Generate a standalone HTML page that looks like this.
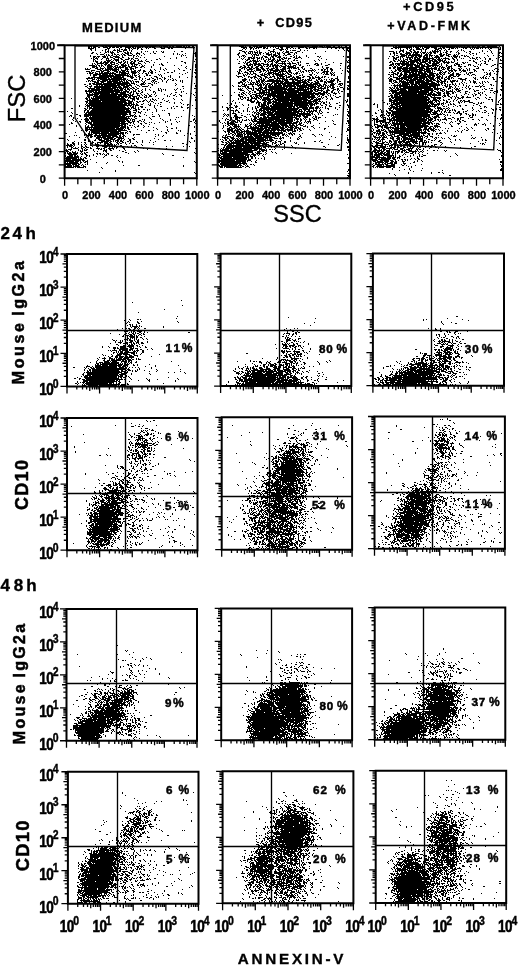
<!DOCTYPE html><html><head><meta charset="utf-8"><style>html,body{margin:0;padding:0;background:#fff;overflow:hidden}svg{display:block;filter:grayscale(1)}</style></head><body><svg width="520" height="966" viewBox="0 0 520 966"><rect width="520" height="966" fill="#fff"/><path d="M88 45h1m6 0h1m9 0h1m2 0h1m1 0h1m1 0h1m1 0h1m5 0h1m6 0h1m6 0h1m2 0h1m11 0h1m3 0h1m15 0h1m1 0h1m2 0h2m2 0h1m2 0h1m2 0h1m59 0h1m6 0h1m5 0h1m5 0h1m2 0h1m9 0h1m1 0h1m1 0h3m4 0h1m8 0h1m22 0h2m4 0h1m1 0h1m5 0h2m1 0h1m2 0h4m1 0h1m49 0h1m4 0h1m6 0h2m3 0h1m1 0h2m3 0h1m1 0h2m9 0h3m1 0h2m5 0h1m6 0h2m4 0h4m3 0h1m5 0h3m11 0h2m3 0h2m2 0h1m1 0h4m1 0h2m-412 1h4m1 0h5m4 0h2m1 0h2m1 0h4m1 0h2m1 0h1m1 0h8m1 0h4m2 0h1m2 0h2m2 0h2m1 0h3m2 0h8m3 0h1m1 0h1m1 0h5m1 0h2m1 0h2m2 0h6m1 0h2m1 0h1m1 0h2m2 0h2m45 0h5m1 0h1m3 0h2m2 0h5m1 0h6m2 0h2m2 0h4m1 0h1m1 0h1m1 0h2m1 0h2m1 0h1m2 0h3m3 0h1m3 0h7m1 0h2m3 0h6m1 0h4m1 0h1m1 0h5m2 0h2m3 0h2m1 0h1m3 0h2m46 0h1m1 0h2m1 0h14m1 0h4m1 0h7m1 0h3m1 0h1m1 0h2m2 0h1m2 0h1m2 0h6m1 0h4m2 0h4m1 0h1m3 0h1m2 0h3m2 0h2m1 0h1m1 0h3m2 0h3m2 0h10m2 0h1m-412 1h2m1 0h1m1 0h3m2 0h2m3 0h5m1 0h2m1 0h3m1 0h3m1 0h2m3 0h6m1 0h2m1 0h1m1 0h4m1 0h1m2 0h3m1 0h2m1 0h3m5 0h2m2 0h1m2 0h3m1 0h1m1 0h1m5 0h1m1 0h1m3 0h5m1 0h4m46 0h6m2 0h4m1 0h1m1 0h6m1 0h3m1 0h1m2 0h1m2 0h1m1 0h1m2 0h1m1 0h3m3 0h4m1 0h2m5 0h6m1 0h2m2 0h8m5 0h2m3 0h5m2 0h2m2 0h5m1 0h6m43 0h19m1 0h1m1 0h4m1 0h1m1 0h1m1 0h6m1 0h6m3 0h1m1 0h3m1 0h9m1 0h2m1 0h1m1 0h7m1 0h2m1 0h7m1 0h3m1 0h12m1 0h2m1 0h1m-413 1h6m1 0h1m11 0h3m9 0h1m5 0h1m2 0h2m1 0h1m1 0h3m1 0h2m2 0h1m4 0h1m1 0h1m5 0h2m5 0h4m3 0h2m1 0h2m12 0h1m7 0h1m49 0h2m1 0h1m3 0h2m1 0h1m1 0h2m1 0h1m4 0h2m1 0h2m8 0h3m2 0h2m3 0h2m2 0h1m2 0h1m1 0h1m2 0h2m6 0h2m1 0h1m3 0h2m1 0h1m10 0h1m3 0h1m3 0h2m2 0h1m2 0h2m3 0h2m42 0h2m2 0h2m1 0h1m1 0h1m5 0h2m1 0h1m1 0h1m4 0h4m2 0h2m2 0h3m5 0h3m1 0h4m1 0h2m4 0h1m1 0h3m1 0h1m1 0h1m5 0h1m1 0h2m3 0h1m1 0h1m1 0h1m1 0h3m1 0h1m1 0h1m2 0h1m2 0h1m1 0h2m8 0h1m-411 1h2m3 0h1m9 0h2m1 0h1m5 0h1m2 0h1m1 0h1m1 0h2m1 0h3m2 0h1m2 0h1m4 0h1m3 0h2m99 0h1m2 0h1m4 0h1m2 0h1m19 0h2m4 0h5m1 0h1m1 0h1m12 0h1m42 0h1m3 0h1m52 0h1m2 0h1m3 0h1m2 0h2m1 0h1m2 0h6m1 0h1m1 0h2m8 0h4m2 0h1m3 0h1m2 0h2m11 0h1m9 0h1m1 0h1m15 0h1m9 0h2m-410 1h1m3 0h1m6 0h1m2 0h1m2 0h1m4 0h3m1 0h3m3 0h4m2 0h1m1 0h1m107 0h3m14 0h1m2 0h1m8 0h2m3 0h1m6 0h2m4 0h1m3 0h1m1 0h4m4 0h1m3 0h1m2 0h1m30 0h1m5 0h1m2 0h2m51 0h4m5 0h2m2 0h2m6 0h1m3 0h1m6 0h1m1 0h2m1 0h1m1 0h2m3 0h1m1 0h1m11 0h1m2 0h1m1 0h1m18 0h1m7 0h1m-386 1h1m1 0h2m1 0h1m1 0h1m4 0h1m1 0h3m1 0h1m3 0h1m3 0h1m9 0h1m3 0h1m1 0h1m5 0h1m2 0h1m4 0h1m1 0h1m10 0h1m6 0h2m59 0h3m1 0h1m2 0h4m1 0h1m2 0h1m1 0h1m10 0h5m8 0h1m2 0h3m8 0h3m25 0h1m22 0h1m40 0h5m2 0h1m2 0h2m1 0h2m2 0h1m3 0h2m2 0h2m1 0h2m2 0h1m3 0h1m4 0h1m1 0h7m1 0h1m5 0h2m2 0h2m5 0h1m6 0h1m4 0h2m11 0h1m4 0h1m3 0h1m6 0h1m-407 1h2m6 0h1m4 0h2m1 0h1m1 0h4m3 0h2m5 0h2m1 0h2m1 0h1m6 0h1m3 0h1m11 0h1m8 0h2m31 0h1m43 0h1m4 0h2m2 0h1m1 0h1m1 0h1m1 0h4m1 0h3m3 0h1m2 0h1m1 0h1m2 0h1m1 0h1m1 0h1m1 0h1m2 0h1m2 0h4m1 0h3m2 0h2m5 0h1m46 0h1m43 0h2m1 0h1m2 0h1m3 0h1m2 0h4m1 0h1m1 0h6m1 0h1m1 0h4m1 0h1m1 0h3m1 0h3m1 0h1m2 0h1m2 0h1m1 0h2m3 0h1m5 0h1m1 0h1m7 0h1m3 0h1m8 0h1m11 0h1m7 0h2m-410 1h2m3 0h1m7 0h1m6 0h2m1 0h1m7 0h1m2 0h4m1 0h2m4 0h4m3 0h1m6 0h1m3 0h2m17 0h1m3 0h1m7 0h1m8 0h2m42 0h2m5 0h1m2 0h3m1 0h1m2 0h1m1 0h1m1 0h2m2 0h1m2 0h3m2 0h1m3 0h1m1 0h3m3 0h2m3 0h2m4 0h1m1 0h1m18 0h1m74 0h1m2 0h2m1 0h2m2 0h2m3 0h6m2 0h1m1 0h3m3 0h1m1 0h2m1 0h1m1 0h1m1 0h2m2 0h2m4 0h2m4 0h2m10 0h2m9 0h1m2 0h2m2 0h1m7 0h1m7 0h1m6 0h1m1 0h2m-406 1h1m2 0h4m2 0h1m1 0h1m3 0h1m1 0h2m1 0h2m2 0h1m1 0h2m2 0h2m3 0h1m3 0h1m2 0h1m4 0h1m28 0h1m3 0h1m1 0h1m2 0h1m12 0h1m41 0h2m7 0h1m4 0h1m1 0h4m1 0h1m1 0h1m5 0h6m1 0h3m2 0h2m4 0h1m2 0h4m3 0h1m95 0h1m3 0h1m5 0h5m1 0h2m1 0h2m1 0h8m1 0h1m3 0h3m1 0h2m8 0h3m1 0h2m1 0h1m1 0h3m3 0h1m1 0h1m1 0h1m11 0h1m5 0h1m-387 1h1m13 0h1m1 0h1m1 0h2m1 0h2m3 0h1m2 0h1m2 0h1m1 0h2m2 0h4m1 0h2m2 0h1m3 0h1m39 0h1m1 0h1m1 0h1m9 0h1m42 0h1m3 0h3m7 0h1m1 0h1m1 0h3m4 0h1m4 0h2m1 0h1m1 0h5m1 0h1m3 0h1m1 0h2m6 0h1m2 0h1m9 0h1m87 0h1m1 0h2m3 0h6m1 0h14m2 0h4m1 0h4m1 0h1m1 0h2m2 0h4m2 0h3m4 0h3m1 0h1m3 0h2m1 0h1m1 0h1m6 0h1m13 0h1m5 0h1m5 0h1m-410 1h1m2 0h3m1 0h3m2 0h4m1 0h1m2 0h1m2 0h6m3 0h1m10 0h1m2 0h1m1 0h1m25 0h1m16 0h1m13 0h2m42 0h1m1 0h1m1 0h1m1 0h1m6 0h1m1 0h1m7 0h1m1 0h3m4 0h3m1 0h2m1 0h3m9 0h2m2 0h1m1 0h1m2 0h1m6 0h1m10 0h2m1 0h1m22 0h1m3 0h2m40 0h1m2 0h2m4 0h1m1 0h5m1 0h1m1 0h1m2 0h3m1 0h2m1 0h4m1 0h2m1 0h2m1 0h1m1 0h1m3 0h4m1 0h3m5 0h2m1 0h1m1 0h5m1 0h1m4 0h2m1 0h2m19 0h1m11 0h2m-409 1h2m1 0h1m1 0h1m4 0h3m1 0h1m2 0h3m2 0h5m2 0h2m4 0h1m4 0h1m6 0h1m3 0h1m31 0h1m9 0h1m52 0h1m4 0h1m3 0h4m1 0h2m1 0h2m1 0h1m1 0h2m2 0h3m2 0h1m1 0h2m3 0h4m2 0h2m1 0h1m6 0h2m1 0h1m1 0h3m7 0h1m10 0h1m27 0h2m44 0h2m1 0h3m1 0h1m1 0h1m3 0h7m1 0h4m1 0h2m2 0h5m1 0h1m2 0h1m1 0h6m5 0h1m6 0h1m1 0h3m2 0h1m9 0h1m2 0h1m3 0h2m1 0h1m4 0h1m14 0h1m-409 1h1m1 0h1m1 0h3m4 0h1m3 0h3m4 0h2m3 0h1m1 0h2m6 0h2m1 0h2m2 0h3m21 0h1m10 0h1m5 0h1m64 0h1m1 0h1m4 0h2m1 0h4m2 0h3m1 0h1m1 0h1m4 0h1m1 0h1m2 0h2m4 0h1m1 0h2m1 0h3m1 0h3m4 0h3m3 0h1m19 0h1m66 0h1m4 0h4m3 0h1m2 0h1m3 0h1m1 0h2m1 0h1m1 0h2m1 0h3m3 0h11m2 0h1m1 0h2m1 0h1m1 0h6m3 0h2m2 0h1m4 0h1m1 0h1m6 0h1m1 0h3m1 0h1m3 0h1m4 0h1m3 0h2m5 0h1m-404 1h2m2 0h1m3 0h1m4 0h1m1 0h1m2 0h1m2 0h5m2 0h2m2 0h4m2 0h1m1 0h1m4 0h1m7 0h1m9 0h2m2 0h1m34 0h1m41 0h1m4 0h1m2 0h1m1 0h3m3 0h1m3 0h1m3 0h1m1 0h1m2 0h1m1 0h3m1 0h3m2 0h1m1 0h2m1 0h2m4 0h1m5 0h1m23 0h1m7 0h1m66 0h1m1 0h2m1 0h1m1 0h1m2 0h1m1 0h3m1 0h3m2 0h7m1 0h8m2 0h4m1 0h4m1 0h1m2 0h1m2 0h2m3 0h2m2 0h1m17 0h1m1 0h1m7 0h1m3 0h2m9 0h1m-408 1h1m1 0h1m10 0h5m2 0h1m1 0h4m4 0h2m5 0h1m3 0h2m1 0h2m2 0h1m3 0h1m5 0h1m94 0h2m2 0h1m1 0h4m1 0h1m1 0h1m4 0h2m2 0h1m2 0h3m1 0h1m1 0h4m4 0h1m1 0h1m5 0h2m1 0h2m16 0h1m4 0h1m26 0h1m1 0h2m43 0h2m3 0h2m1 0h1m1 0h2m2 0h1m2 0h11m1 0h2m1 0h3m1 0h4m1 0h3m1 0h5m1 0h2m8 0h1m2 0h1m11 0h2m2 0h1m8 0h1m5 0h1m3 0h1m7 0h2m-409 1h1m1 0h3m3 0h1m2 0h2m1 0h3m1 0h2m3 0h1m1 0h1m2 0h1m1 0h1m1 0h1m1 0h1m3 0h2m1 0h2m3 0h4m3 0h3m32 0h2m11 0h1m44 0h1m5 0h1m3 0h3m1 0h6m1 0h1m3 0h2m1 0h1m1 0h4m1 0h1m1 0h3m2 0h5m2 0h1m2 0h1m8 0h1m14 0h1m31 0h1m42 0h2m2 0h2m1 0h1m2 0h7m1 0h10m1 0h2m1 0h6m1 0h2m1 0h6m1 0h2m1 0h3m1 0h1m1 0h1m2 0h1m2 0h1m18 0h2m5 0h1m3 0h2m2 0h1m-393 1h2m2 0h2m1 0h6m1 0h5m3 0h4m2 0h2m1 0h1m2 0h2m1 0h2m3 0h1m5 0h1m4 0h1m4 0h1m12 0h1m16 0h2m57 0h1m1 0h1m1 0h3m3 0h1m1 0h2m8 0h1m2 0h1m3 0h1m2 0h3m4 0h1m1 0h1m4 0h1m2 0h1m4 0h2m1 0h1m24 0h1m7 0h1m13 0h2m40 0h2m1 0h1m7 0h1m1 0h3m1 0h3m1 0h5m1 0h3m1 0h6m2 0h3m2 0h2m1 0h4m3 0h7m1 0h3m3 0h1m4 0h2m1 0h1m1 0h1m7 0h2m8 0h1m-394 1h1m1 0h1m2 0h7m1 0h3m2 0h2m2 0h1m1 0h2m2 0h1m2 0h2m2 0h1m2 0h5m3 0h3m4 0h1m15 0h1m23 0h1m52 0h2m4 0h1m1 0h2m2 0h1m2 0h4m1 0h2m1 0h3m3 0h1m3 0h2m3 0h1m1 0h8m1 0h4m1 0h4m2 0h1m7 0h3m6 0h3m3 0h1m18 0h2m50 0h2m1 0h14m1 0h4m3 0h5m3 0h3m1 0h2m1 0h7m2 0h1m2 0h1m2 0h2m6 0h3m5 0h2m11 0h1m4 0h1m2 0h2m13 0h4m-411 1h1m2 0h1m1 0h1m3 0h1m2 0h3m1 0h2m1 0h4m3 0h1m2 0h3m1 0h1m2 0h1m2 0h2m1 0h4m3 0h1m11 0h1m5 0h1m1 0h2m32 0h1m50 0h2m1 0h4m1 0h7m2 0h6m1 0h3m1 0h2m1 0h1m4 0h1m1 0h2m3 0h2m5 0h1m1 0h1m1 0h1m13 0h2m1 0h2m2 0h1m6 0h2m60 0h4m1 0h1m1 0h3m1 0h15m1 0h1m1 0h4m1 0h1m1 0h3m3 0h5m2 0h1m1 0h1m4 0h1m7 0h1m1 0h4m1 0h1m6 0h3m7 0h1m1 0h1m5 0h2m6 0h2m1 0h1m-409 1h6m1 0h1m1 0h2m1 0h2m2 0h1m1 0h5m3 0h3m3 0h6m1 0h1m3 0h1m1 0h1m1 0h1m2 0h1m2 0h1m1 0h1m8 0h1m8 0h2m10 0h1m6 0h1m13 0h1m47 0h2m2 0h4m1 0h1m1 0h2m2 0h4m1 0h1m3 0h2m1 0h1m1 0h7m1 0h2m3 0h2m1 0h1m1 0h1m2 0h3m3 0h2m6 0h1m1 0h1m6 0h3m6 0h3m12 0h1m7 0h1m40 0h3m1 0h1m2 0h1m1 0h2m2 0h3m1 0h7m1 0h6m1 0h4m2 0h12m2 0h1m4 0h2m3 0h1m2 0h2m2 0h2m8 0h1m1 0h1m2 0h1m6 0h1m11 0h2m3 0h1m-406 1h5m2 0h1m1 0h1m1 0h1m3 0h6m1 0h2m1 0h1m1 0h2m1 0h4m2 0h2m1 0h5m5 0h3m7 0h1m34 0h1m8 0h2m43 0h2m2 0h2m2 0h1m2 0h2m3 0h3m2 0h2m1 0h1m1 0h2m1 0h2m1 0h2m1 0h3m1 0h1m1 0h5m1 0h7m1 0h1m6 0h2m18 0h1m24 0h2m43 0h1m1 0h2m1 0h1m2 0h3m3 0h3m1 0h3m2 0h5m1 0h10m1 0h2m1 0h1m1 0h1m1 0h2m1 0h1m3 0h1m1 0h4m6 0h4m2 0h2m8 0h2m1 0h1m13 0h1m8 0h1m-409 1h3m1 0h2m2 0h1m3 0h1m2 0h5m1 0h1m1 0h9m1 0h3m1 0h3m3 0h3m2 0h2m2 0h1m6 0h1m8 0h1m24 0h1m9 0h1m43 0h2m1 0h4m1 0h3m1 0h2m2 0h3m2 0h3m5 0h1m4 0h1m1 0h3m2 0h1m2 0h3m2 0h8m1 0h2m2 0h2m19 0h1m3 0h3m18 0h1m1 0h1m39 0h2m2 0h3m1 0h5m1 0h5m1 0h15m2 0h3m2 0h1m2 0h3m2 0h1m1 0h4m2 0h3m1 0h1m8 0h1m17 0h1m22 0h1m-417 1h1m1 0h1m2 0h1m4 0h3m2 0h4m1 0h1m1 0h6m1 0h3m1 0h1m1 0h1m4 0h3m2 0h4m1 0h1m24 0h1m4 0h1m12 0h1m7 0h1m54 0h2m1 0h1m1 0h1m2 0h3m1 0h2m1 0h3m2 0h3m2 0h3m2 0h4m1 0h2m4 0h4m1 0h3m1 0h1m1 0h4m1 0h1m3 0h1m1 0h1m5 0h2m11 0h1m2 0h2m2 0h2m8 0h1m6 0h2m40 0h2m2 0h2m2 0h20m2 0h6m1 0h11m1 0h2m1 0h1m1 0h1m1 0h1m1 0h3m1 0h2m5 0h2m1 0h1m4 0h1m2 0h1m6 0h3m16 0h2m-412 1h5m7 0h4m1 0h1m2 0h14m2 0h1m3 0h4m1 0h2m1 0h1m6 0h1m9 0h1m3 0h1m5 0h1m2 0h1m2 0h1m12 0h1m10 0h1m4 0h1m43 0h2m3 0h1m2 0h6m3 0h5m1 0h3m2 0h1m1 0h4m2 0h4m1 0h6m3 0h1m8 0h2m3 0h2m7 0h1m1 0h1m3 0h1m2 0h2m1 0h2m1 0h1m2 0h3m62 0h1m1 0h4m1 0h6m1 0h14m1 0h6m1 0h2m1 0h3m1 0h2m2 0h3m2 0h2m2 0h1m1 0h2m4 0h2m2 0h1m3 0h1m1 0h1m3 0h2m7 0h2m10 0h1m3 0h1m-408 1h4m5 0h2m1 0h6m1 0h1m1 0h5m1 0h1m2 0h5m1 0h1m3 0h1m2 0h2m2 0h3m2 0h2m5 0h2m3 0h1m8 0h1m9 0h1m8 0h2m10 0h2m42 0h2m6 0h2m2 0h1m2 0h1m1 0h5m2 0h3m1 0h2m1 0h10m1 0h3m1 0h1m2 0h3m4 0h1m4 0h1m4 0h2m1 0h6m1 0h1m5 0h2m1 0h1m2 0h1m3 0h2m9 0h1m4 0h1m43 0h1m3 0h2m1 0h4m1 0h15m1 0h6m1 0h5m1 0h1m4 0h5m6 0h5m1 0h3m2 0h2m1 0h4m1 0h1m1 0h1m4 0h2m7 0h1m5 0h1m2 0h1m4 0h1m-412 1h4m1 0h1m4 0h4m1 0h3m3 0h3m4 0h4m1 0h2m1 0h3m1 0h3m2 0h5m1 0h1m1 0h1m3 0h3m3 0h1m1 0h2m6 0h1m14 0h1m62 0h1m1 0h1m1 0h1m3 0h1m3 0h5m1 0h1m4 0h2m1 0h1m2 0h1m1 0h1m1 0h1m2 0h5m1 0h8m1 0h3m7 0h1m1 0h1m1 0h2m2 0h1m1 0h1m2 0h1m2 0h1m8 0h6m2 0h1m15 0h3m42 0h1m1 0h2m3 0h2m1 0h8m1 0h11m2 0h7m1 0h1m1 0h1m5 0h1m1 0h1m2 0h2m2 0h1m1 0h2m2 0h1m5 0h1m1 0h3m8 0h1m1 0h1m16 0h1m2 0h1m1 0h1m-410 1h2m1 0h2m1 0h1m3 0h1m1 0h2m1 0h5m1 0h1m1 0h2m2 0h2m1 0h7m2 0h1m2 0h6m1 0h1m4 0h1m4 0h1m1 0h3m2 0h1m11 0h2m2 0h2m14 0h1m6 0h2m42 0h2m4 0h4m2 0h1m2 0h1m5 0h2m4 0h1m2 0h6m1 0h1m2 0h3m1 0h1m3 0h2m1 0h3m4 0h2m3 0h1m1 0h1m5 0h1m2 0h1m3 0h1m1 0h1m3 0h3m1 0h2m2 0h1m1 0h1m1 0h1m13 0h2m39 0h1m1 0h3m3 0h2m2 0h1m2 0h10m1 0h2m1 0h5m1 0h2m1 0h6m6 0h3m1 0h3m2 0h1m1 0h1m2 0h1m6 0h1m5 0h1m2 0h4m11 0h1m1 0h1m3 0h1m-404 1h1m1 0h4m2 0h3m1 0h17m3 0h1m1 0h8m3 0h4m3 0h1m2 0h1m2 0h2m1 0h1m2 0h2m11 0h1m14 0h1m5 0h1m9 0h1m42 0h3m1 0h1m4 0h2m1 0h1m2 0h3m6 0h1m1 0h1m2 0h5m1 0h6m1 0h1m1 0h2m1 0h1m1 0h2m2 0h1m1 0h1m1 0h3m1 0h1m12 0h1m4 0h1m3 0h1m2 0h1m1 0h2m2 0h2m1 0h1m7 0h1m51 0h3m1 0h2m1 0h2m2 0h3m2 0h2m1 0h5m1 0h9m2 0h7m1 0h1m1 0h2m1 0h1m1 0h1m3 0h2m2 0h2m2 0h3m7 0h1m1 0h1m1 0h1m16 0h1m1 0h2m3 0h1m-405 1h1m2 0h8m1 0h6m1 0h2m1 0h1m1 0h12m1 0h1m1 0h1m2 0h1m1 0h1m3 0h1m7 0h2m10 0h1m1 0h1m21 0h1m13 0h1m41 0h1m4 0h1m1 0h1m1 0h1m1 0h1m1 0h2m2 0h2m3 0h3m1 0h3m1 0h2m2 0h2m1 0h10m3 0h3m3 0h1m1 0h1m5 0h1m6 0h3m2 0h1m8 0h1m1 0h4m2 0h2m1 0h1m53 0h2m1 0h3m1 0h3m2 0h3m1 0h4m1 0h11m1 0h7m1 0h5m2 0h3m1 0h2m1 0h2m5 0h4m2 0h5m3 0h1m2 0h2m3 0h3m11 0h2m1 0h2m5 0h1m-407 1h1m2 0h4m2 0h15m1 0h14m1 0h1m1 0h1m1 0h3m2 0h1m6 0h2m1 0h2m8 0h1m1 0h1m8 0h1m65 0h1m6 0h2m1 0h1m8 0h1m1 0h2m2 0h4m2 0h1m1 0h1m3 0h1m2 0h7m2 0h2m3 0h2m7 0h2m1 0h1m7 0h2m4 0h1m14 0h1m1 0h2m55 0h1m2 0h1m3 0h1m1 0h3m1 0h4m1 0h18m1 0h8m1 0h2m1 0h1m2 0h1m6 0h5m2 0h1m1 0h2m9 0h1m1 0h1m3 0h1m8 0h1m5 0h1m-398 1h2m4 0h22m1 0h2m3 0h6m2 0h1m2 0h2m4 0h1m9 0h3m4 0h1m6 0h1m1 0h1m8 0h1m12 0h1m2 0h1m41 0h5m2 0h1m3 0h2m3 0h3m2 0h3m3 0h3m3 0h1m1 0h3m2 0h1m1 0h6m1 0h1m1 0h4m1 0h1m2 0h3m4 0h2m2 0h3m2 0h1m2 0h1m2 0h1m3 0h1m1 0h2m11 0h1m10 0h1m41 0h2m1 0h1m4 0h3m2 0h15m1 0h12m1 0h3m2 0h4m1 0h1m3 0h1m1 0h3m2 0h3m1 0h2m24 0h1m2 0h1m2 0h1m12 0h1m-415 1h2m1 0h18m1 0h2m1 0h11m6 0h4m2 0h1m2 0h2m10 0h1m4 0h2m4 0h1m1 0h1m5 0h1m8 0h1m7 0h1m7 0h1m42 0h1m3 0h1m5 0h1m1 0h3m1 0h3m3 0h2m3 0h3m1 0h3m2 0h1m2 0h2m1 0h1m1 0h2m2 0h4m2 0h3m1 0h5m1 0h2m5 0h2m1 0h2m1 0h5m1 0h2m1 0h1m3 0h1m8 0h1m10 0h1m40 0h1m3 0h5m1 0h1m1 0h12m1 0h13m1 0h6m2 0h4m1 0h2m2 0h2m1 0h2m1 0h2m20 0h1m1 0h1m4 0h1m1 0h2m1 0h1m6 0h2m5 0h2m-415 1h7m1 0h1m2 0h10m1 0h2m1 0h11m1 0h3m5 0h2m6 0h1m2 0h1m2 0h1m3 0h1m2 0h2m3 0h1m1 0h2m3 0h2m6 0h1m71 0h2m5 0h1m2 0h1m2 0h1m1 0h1m1 0h1m1 0h1m1 0h1m2 0h1m5 0h2m1 0h8m1 0h1m3 0h3m1 0h2m1 0h4m8 0h2m1 0h3m3 0h3m10 0h2m2 0h3m10 0h1m39 0h1m1 0h2m4 0h11m1 0h4m1 0h5m1 0h6m1 0h2m1 0h5m1 0h1m1 0h3m1 0h2m1 0h1m2 0h3m1 0h1m1 0h1m4 0h4m3 0h2m7 0h2m5 0h1m1 0h1m1 0h2m1 0h1m4 0h1m7 0h2m-416 1h1m4 0h3m1 0h1m1 0h1m1 0h26m1 0h1m6 0h3m2 0h1m2 0h1m4 0h3m4 0h2m1 0h1m3 0h1m2 0h1m3 0h1m1 0h1m2 0h1m1 0h1m66 0h5m2 0h1m5 0h1m2 0h1m1 0h2m1 0h2m4 0h5m2 0h2m1 0h1m2 0h6m1 0h9m2 0h1m1 0h2m1 0h1m1 0h3m1 0h1m4 0h1m1 0h2m1 0h1m2 0h1m1 0h1m2 0h1m1 0h1m1 0h2m2 0h2m50 0h4m3 0h4m1 0h2m1 0h5m1 0h12m1 0h2m1 0h3m1 0h5m2 0h1m1 0h2m3 0h3m1 0h2m10 0h6m9 0h1m1 0h1m15 0h2m-407 1h2m1 0h2m4 0h3m2 0h6m1 0h2m1 0h8m1 0h1m1 0h2m1 0h1m1 0h3m1 0h1m8 0h1m3 0h1m6 0h3m7 0h1m4 0h1m4 0h2m2 0h1m3 0h1m1 0h1m59 0h4m3 0h1m1 0h1m4 0h1m1 0h2m1 0h4m2 0h14m1 0h1m1 0h4m4 0h2m1 0h8m1 0h3m1 0h4m4 0h2m2 0h3m3 0h1m3 0h5m2 0h2m50 0h3m1 0h3m3 0h3m1 0h1m2 0h10m1 0h7m1 0h7m1 0h3m1 0h2m1 0h2m2 0h2m4 0h1m1 0h4m1 0h1m4 0h1m2 0h1m3 0h1m3 0h1m-388 1h1m1 0h1m1 0h1m1 0h4m1 0h2m1 0h6m1 0h11m1 0h4m1 0h1m1 0h2m2 0h2m1 0h1m1 0h4m3 0h1m1 0h1m6 0h1m1 0h1m1 0h2m5 0h1m3 0h1m13 0h1m1 0h1m57 0h2m1 0h2m2 0h1m3 0h1m4 0h4m1 0h3m1 0h19m1 0h4m3 0h3m2 0h4m1 0h4m1 0h2m5 0h2m1 0h2m1 0h3m1 0h2m1 0h7m3 0h1m1 0h2m6 0h2m40 0h3m1 0h1m1 0h2m2 0h7m1 0h1m1 0h5m1 0h10m1 0h7m3 0h4m1 0h5m1 0h1m2 0h5m1 0h2m4 0h1m7 0h1m2 0h3m6 0h1m1 0h1m2 0h1m7 0h2m-403 1h5m2 0h3m3 0h5m1 0h8m1 0h7m2 0h1m1 0h1m2 0h1m1 0h1m4 0h2m7 0h1m1 0h1m3 0h1m7 0h1m15 0h1m55 0h5m2 0h1m2 0h1m1 0h1m1 0h3m1 0h2m1 0h1m1 0h2m1 0h1m7 0h3m1 0h3m1 0h3m1 0h23m1 0h2m1 0h2m2 0h4m5 0h3m1 0h5m4 0h1m9 0h2m42 0h1m2 0h4m1 0h1m1 0h13m1 0h14m2 0h4m2 0h2m1 0h3m1 0h1m2 0h1m3 0h2m8 0h1m2 0h1m5 0h1m2 0h3m3 0h1m2 0h1m2 0h1m2 0h1m12 0h1m-413 1h2m1 0h3m1 0h6m1 0h27m1 0h4m6 0h3m1 0h1m2 0h3m3 0h1m1 0h1m18 0h1m18 0h1m1 0h1m41 0h2m2 0h1m1 0h1m5 0h2m1 0h1m1 0h1m1 0h2m1 0h1m1 0h2m1 0h1m1 0h3m1 0h2m1 0h27m2 0h5m2 0h2m1 0h7m4 0h1m1 0h1m4 0h3m1 0h1m3 0h4m46 0h1m2 0h2m4 0h1m1 0h1m1 0h7m1 0h4m1 0h5m1 0h16m1 0h1m2 0h2m1 0h2m6 0h1m2 0h1m3 0h1m2 0h1m3 0h1m7 0h1m1 0h1m3 0h1m1 0h1m18 0h1m-418 1h2m3 0h2m2 0h23m1 0h11m1 0h2m3 0h1m1 0h1m3 0h5m6 0h2m23 0h1m65 0h3m1 0h1m1 0h6m1 0h3m1 0h3m1 0h2m1 0h2m1 0h3m2 0h3m1 0h3m1 0h4m1 0h5m1 0h6m1 0h1m1 0h3m1 0h12m1 0h2m2 0h3m4 0h5m3 0h3m1 0h1m51 0h1m2 0h1m1 0h2m1 0h8m1 0h6m1 0h22m1 0h1m3 0h1m1 0h1m1 0h2m1 0h2m1 0h1m3 0h1m3 0h1m19 0h1m6 0h2m-405 1h1m3 0h1m4 0h2m1 0h1m1 0h2m1 0h16m1 0h4m1 0h6m5 0h2m2 0h1m6 0h1m3 0h1m22 0h1m19 0h2m35 0h1m5 0h1m2 0h1m2 0h3m5 0h1m4 0h5m1 0h1m1 0h2m1 0h3m1 0h1m1 0h8m1 0h12m1 0h18m1 0h1m1 0h5m1 0h1m1 0h2m1 0h1m1 0h4m6 0h2m5 0h2m42 0h1m1 0h15m1 0h1m1 0h2m1 0h4m1 0h9m1 0h11m2 0h1m1 0h2m1 0h1m1 0h1m4 0h1m1 0h1m6 0h1m2 0h1m2 0h1m9 0h1m2 0h1m8 0h1m1 0h1m7 0h1m-417 1h2m2 0h3m2 0h23m1 0h3m2 0h6m2 0h1m3 0h1m3 0h1m2 0h6m34 0h2m11 0h1m37 0h1m4 0h3m1 0h4m1 0h2m3 0h2m4 0h1m1 0h2m3 0h2m1 0h14m1 0h13m1 0h10m1 0h9m1 0h2m1 0h3m1 0h1m1 0h1m1 0h2m1 0h2m3 0h1m1 0h1m8 0h1m45 0h2m1 0h1m1 0h37m1 0h1m7 0h3m1 0h3m3 0h1m2 0h1m7 0h1m1 0h1m3 0h1m2 0h4m1 0h2m1 0h2m16 0h2m-416 1h1m2 0h1m3 0h17m1 0h10m1 0h5m1 0h1m2 0h2m2 0h1m13 0h1m94 0h1m1 0h2m4 0h1m5 0h4m1 0h3m1 0h17m1 0h2m1 0h3m2 0h2m1 0h1m1 0h10m1 0h6m1 0h2m1 0h2m2 0h2m1 0h2m1 0h1m1 0h3m5 0h3m1 0h1m2 0h1m41 0h2m1 0h1m1 0h1m1 0h2m1 0h2m2 0h28m2 0h3m1 0h1m5 0h1m2 0h1m2 0h2m1 0h1m2 0h1m6 0h1m2 0h1m2 0h1m11 0h1m-393 1h7m1 0h4m1 0h15m1 0h1m1 0h5m1 0h1m1 0h2m1 0h2m1 0h2m2 0h2m6 0h1m12 0h1m1 0h1m16 0h1m5 0h1m10 0h2m42 0h1m1 0h1m1 0h1m3 0h1m1 0h4m1 0h1m1 0h2m1 0h4m1 0h4m2 0h18m1 0h16m1 0h1m1 0h6m1 0h2m2 0h8m1 0h1m3 0h3m3 0h2m4 0h2m2 0h2m41 0h2m1 0h2m1 0h3m1 0h33m1 0h8m6 0h3m3 0h1m1 0h2m1 0h1m6 0h1m2 0h2m13 0h1m4 0h1m1 0h2m-404 1h1m1 0h22m1 0h5m1 0h3m1 0h2m1 0h3m2 0h1m2 0h2m5 0h1m2 0h1m3 0h1m8 0h1m2 0h1m1 0h1m1 0h1m8 0h1m1 0h1m3 0h1m57 0h4m5 0h1m3 0h1m1 0h1m2 0h3m1 0h3m2 0h30m2 0h12m1 0h2m1 0h6m2 0h1m1 0h1m3 0h2m4 0h3m1 0h2m4 0h2m2 0h2m40 0h1m1 0h2m2 0h1m1 0h9m2 0h14m2 0h9m1 0h5m1 0h1m1 0h3m3 0h1m3 0h1m2 0h4m3 0h1m6 0h1m3 0h1m8 0h1m2 0h2m13 0h2m-417 1h2m1 0h12m1 0h22m2 0h2m2 0h1m3 0h1m1 0h1m2 0h1m2 0h1m3 0h1m4 0h1m7 0h2m1 0h1m3 0h1m9 0h1m64 0h4m4 0h1m3 0h2m3 0h4m1 0h5m1 0h5m1 0h9m1 0h2m1 0h20m1 0h1m1 0h3m1 0h2m1 0h6m3 0h4m2 0h2m3 0h1m1 0h1m50 0h9m1 0h7m1 0h11m1 0h14m3 0h1m2 0h3m1 0h1m1 0h1m3 0h1m1 0h1m3 0h1m1 0h3m13 0h1m1 0h3m11 0h3m4 0h1m3 0h1m-417 1h9m1 0h2m1 0h22m1 0h1m1 0h6m2 0h1m1 0h3m2 0h2m2 0h1m10 0h2m6 0h1m19 0h1m1 0h1m60 0h1m4 0h2m3 0h2m3 0h2m1 0h3m1 0h1m1 0h2m1 0h16m1 0h11m1 0h1m2 0h10m2 0h3m3 0h1m1 0h2m1 0h2m3 0h2m5 0h1m2 0h2m46 0h1m1 0h6m2 0h30m2 0h2m1 0h2m2 0h1m3 0h2m2 0h7m1 0h1m2 0h3m5 0h3m6 0h2m8 0h1m9 0h2m1 0h1m-412 1h1m2 0h3m1 0h21m1 0h11m1 0h2m1 0h2m1 0h1m2 0h1m4 0h2m10 0h1m1 0h1m19 0h2m4 0h1m13 0h2m37 0h1m4 0h1m2 0h2m2 0h1m2 0h1m2 0h1m1 0h2m3 0h11m1 0h41m1 0h2m3 0h3m2 0h5m3 0h2m1 0h1m3 0h1m53 0h37m1 0h3m3 0h5m3 0h1m1 0h3m3 0h2m1 0h1m4 0h1m4 0h1m3 0h1m8 0h1m1 0h1m1 0h1m7 0h1m2 0h1m3 0h1m-412 1h2m1 0h1m2 0h1m1 0h16m1 0h7m2 0h6m3 0h2m2 0h1m2 0h3m1 0h1m6 0h1m7 0h1m15 0h1m14 0h1m4 0h1m49 0h1m1 0h2m3 0h1m1 0h1m5 0h9m1 0h1m1 0h29m1 0h27m1 0h1m1 0h2m3 0h4m2 0h1m7 0h2m40 0h2m1 0h2m1 0h22m1 0h9m1 0h4m1 0h2m2 0h4m2 0h2m1 0h4m2 0h2m11 0h2m7 0h1m3 0h2m2 0h1m11 0h1m-408 1h12m1 0h29m1 0h1m1 0h2m3 0h1m3 0h1m2 0h1m3 0h1m2 0h1m2 0h1m9 0h1m5 0h1m4 0h1m3 0h1m13 0h1m44 0h2m1 0h2m2 0h1m3 0h1m2 0h5m2 0h1m1 0h1m1 0h13m1 0h7m1 0h29m1 0h4m1 0h5m2 0h1m2 0h1m4 0h1m11 0h2m42 0h1m2 0h6m1 0h36m1 0h3m3 0h1m2 0h2m1 0h1m5 0h1m7 0h1m3 0h1m3 0h1m2 0h2m3 0h1m4 0h1m14 0h1m-414 1h6m1 0h4m1 0h18m1 0h4m1 0h4m1 0h5m4 0h3m2 0h1m2 0h2m2 0h2m5 0h1m10 0h1m5 0h2m5 0h2m12 0h1m27 0h1m8 0h1m6 0h2m3 0h1m2 0h1m3 0h2m3 0h6m1 0h2m1 0h1m1 0h17m1 0h25m1 0h4m2 0h1m1 0h1m2 0h2m4 0h1m1 0h1m2 0h1m13 0h2m41 0h3m1 0h4m1 0h25m1 0h1m1 0h4m1 0h9m2 0h3m1 0h2m7 0h1m4 0h1m11 0h1m1 0h1m4 0h1m5 0h1m13 0h1m-414 1h3m3 0h35m1 0h2m1 0h5m2 0h1m4 0h1m1 0h1m2 0h3m3 0h1m11 0h1m1 0h1m6 0h1m4 0h1m14 0h1m42 0h4m7 0h2m1 0h1m1 0h3m1 0h4m4 0h4m1 0h29m1 0h13m3 0h2m1 0h1m3 0h2m3 0h1m4 0h1m3 0h2m6 0h2m39 0h2m1 0h2m1 0h7m1 0h26m2 0h2m2 0h1m7 0h1m1 0h2m2 0h2m2 0h1m1 0h1m1 0h1m5 0h2m3 0h1m5 0h1m-388 1h1m1 0h2m1 0h1m1 0h1m1 0h25m1 0h3m1 0h2m1 0h3m2 0h2m1 0h1m1 0h1m1 0h2m2 0h3m1 0h1m46 0h1m44 0h1m1 0h1m1 0h2m1 0h2m2 0h2m1 0h1m1 0h3m1 0h2m1 0h6m1 0h1m2 0h2m1 0h40m1 0h1m3 0h1m1 0h1m2 0h1m4 0h1m4 0h3m52 0h38m2 0h10m2 0h1m6 0h2m3 0h1m1 0h2m2 0h3m2 0h5m6 0h2m6 0h1m3 0h2m-420 1h1m13 0h3m1 0h1m1 0h34m3 0h1m1 0h5m1 0h3m3 0h1m9 0h1m5 0h1m4 0h1m9 0h1m64 0h1m1 0h1m2 0h1m1 0h1m2 0h1m2 0h6m1 0h2m1 0h1m1 0h7m2 0h4m1 0h13m1 0h16m1 0h2m1 0h3m2 0h1m1 0h3m1 0h1m4 0h1m3 0h2m56 0h2m1 0h2m1 0h32m1 0h2m3 0h3m1 0h4m10 0h1m3 0h1m2 0h3m1 0h1m12 0h1m3 0h1m6 0h1m14 0h1m-416 1h2m1 0h2m1 0h7m1 0h26m1 0h1m4 0h3m2 0h2m6 0h1m4 0h1m1 0h2m1 0h1m6 0h1m11 0h1m6 0h1m13 0h1m42 0h1m2 0h2m4 0h2m1 0h2m3 0h2m3 0h1m1 0h11m1 0h34m2 0h3m1 0h7m5 0h1m3 0h1m1 0h1m14 0h1m41 0h3m2 0h36m3 0h4m2 0h1m3 0h1m4 0h2m4 0h1m2 0h1m18 0h1m11 0h2m1 0h2m7 0h1m-414 1h32m1 0h10m2 0h1m1 0h1m8 0h2m1 0h1m3 0h1m3 0h1m1 0h1m7 0h1m3 0h1m13 0h1m12 0h1m37 0h1m13 0h5m2 0h1m2 0h1m4 0h4m1 0h4m2 0h1m1 0h27m1 0h8m2 0h5m1 0h1m25 0h1m1 0h1m34 0h1m6 0h40m1 0h1m1 0h7m1 0h1m2 0h2m1 0h1m6 0h1m2 0h1m3 0h2m1 0h2m3 0h2m22 0h1m6 0h1m-415 1h3m1 0h12m1 0h24m2 0h5m3 0h2m1 0h2m1 0h2m3 0h1m1 0h1m1 0h2m13 0h2m64 0h1m17 0h5m2 0h2m5 0h3m1 0h3m1 0h5m1 0h11m1 0h17m1 0h9m1 0h3m1 0h1m3 0h1m19 0h2m41 0h3m1 0h5m1 0h28m1 0h5m2 0h2m1 0h2m6 0h2m2 0h1m2 0h1m4 0h1m1 0h1m1 0h1m1 0h6m22 0h1m5 0h1m-413 1h2m1 0h38m1 0h4m1 0h1m3 0h2m9 0h1m4 0h1m6 0h2m7 0h1m4 0h1m5 0h1m54 0h1m3 0h1m11 0h3m2 0h5m2 0h3m1 0h5m1 0h8m1 0h11m1 0h18m1 0h1m1 0h3m3 0h1m1 0h2m1 0h1m2 0h1m9 0h1m6 0h1m36 0h2m6 0h4m1 0h37m1 0h1m1 0h1m2 0h1m3 0h1m2 0h2m1 0h1m8 0h2m1 0h1m2 0h1m4 0h4m5 0h1m2 0h1m1 0h1m14 0h1m-413 1h1m1 0h35m1 0h8m1 0h1m2 0h1m6 0h1m6 0h1m4 0h1m2 0h1m15 0h1m6 0h1m45 0h1m3 0h1m3 0h1m20 0h1m1 0h2m1 0h1m1 0h3m1 0h4m1 0h2m1 0h38m1 0h5m1 0h1m2 0h2m4 0h1m6 0h2m36 0h1m12 0h1m1 0h1m1 0h1m1 0h36m1 0h4m3 0h3m1 0h3m1 0h1m4 0h1m2 0h1m5 0h1m13 0h2m3 0h1m1 0h2m18 0h1m-416 1h1m1 0h1m1 0h38m1 0h2m1 0h4m1 0h2m3 0h2m5 0h1m1 0h1m9 0h1m22 0h1m3 0h2m42 0h1m10 0h1m5 0h1m9 0h2m1 0h5m1 0h2m3 0h21m1 0h14m1 0h6m1 0h1m3 0h1m4 0h2m3 0h1m16 0h1m25 0h2m2 0h1m9 0h1m3 0h9m1 0h27m1 0h1m1 0h9m1 0h1m1 0h1m4 0h1m1 0h2m1 0h2m21 0h2m18 0h3m1 0h2m-423 1h1m6 0h46m1 0h1m1 0h4m10 0h2m3 0h1m2 0h1m29 0h1m4 0h1m36 0h1m4 0h1m1 0h1m6 0h1m4 0h1m9 0h2m1 0h6m1 0h1m1 0h2m1 0h20m1 0h15m1 0h3m1 0h1m6 0h2m3 0h1m2 0h1m9 0h2m6 0h2m28 0h1m12 0h3m2 0h3m1 0h32m1 0h1m1 0h3m1 0h1m3 0h1m5 0h1m6 0h1m3 0h2m4 0h2m6 0h1m5 0h1m22 0h1m-424 1h1m5 0h1m1 0h3m1 0h34m2 0h1m2 0h1m1 0h2m1 0h1m4 0h3m11 0h1m5 0h2m11 0h1m2 0h2m3 0h1m40 0h1m12 0h3m17 0h1m1 0h1m1 0h6m1 0h3m1 0h25m1 0h2m1 0h8m1 0h1m1 0h2m4 0h3m6 0h1m3 0h3m16 0h1m28 0h1m11 0h1m1 0h4m1 0h5m1 0h34m1 0h1m5 0h2m1 0h1m6 0h1m3 0h1m2 0h1m19 0h1m3 0h2m-399 1h1m1 0h3m1 0h33m2 0h1m2 0h3m1 0h1m2 0h1m2 0h2m2 0h1m8 0h1m16 0h1m9 0h2m4 0h2m33 0h1m3 0h2m1 0h1m1 0h2m2 0h2m11 0h1m3 0h1m2 0h1m1 0h2m2 0h9m1 0h16m1 0h4m1 0h2m2 0h11m1 0h5m1 0h4m1 0h1m1 0h1m2 0h1m9 0h1m3 0h1m8 0h1m28 0h1m12 0h8m1 0h31m4 0h1m2 0h4m7 0h1m23 0h1m11 0h1m1 0h1m12 0h2m-430 1h2m11 0h2m1 0h1m1 0h41m1 0h1m1 0h3m2 0h1m16 0h1m11 0h1m3 0h1m2 0h1m12 0h1m7 0h1m31 0h2m4 0h1m5 0h1m7 0h1m4 0h1m2 0h2m3 0h39m3 0h6m1 0h5m1 0h3m1 0h1m5 0h1m1 0h2m6 0h1m52 0h4m1 0h38m4 0h1m1 0h5m1 0h2m1 0h2m1 0h1m12 0h1m9 0h1m7 0h2m9 0h1m4 0h1m-412 1h2m2 0h1m2 0h37m1 0h1m4 0h2m1 0h2m3 0h2m2 0h1m1 0h1m6 0h1m70 0h2m7 0h1m10 0h1m4 0h1m3 0h1m2 0h3m1 0h35m1 0h3m1 0h7m3 0h1m2 0h1m3 0h1m7 0h1m8 0h1m9 0h1m32 0h1m8 0h2m2 0h1m1 0h30m1 0h7m5 0h1m1 0h3m2 0h1m2 0h1m3 0h1m1 0h1m7 0h2m9 0h1m18 0h2m2 0h1m2 0h2m-417 1h2m1 0h2m2 0h34m1 0h4m3 0h4m10 0h1m8 0h1m5 0h1m1 0h1m18 0h1m39 0h1m3 0h1m3 0h3m1 0h3m5 0h1m3 0h1m8 0h2m1 0h6m1 0h3m1 0h6m1 0h20m1 0h2m1 0h1m2 0h2m2 0h2m1 0h1m1 0h4m2 0h2m57 0h1m2 0h1m4 0h1m2 0h4m3 0h33m1 0h3m1 0h1m2 0h3m2 0h1m2 0h1m1 0h1m1 0h2m1 0h1m1 0h2m11 0h1m4 0h1m5 0h1m5 0h2m7 0h1m6 0h1m-434 1h1m16 0h1m2 0h2m1 0h41m5 0h1m1 0h1m2 0h1m14 0h1m76 0h1m1 0h1m2 0h1m4 0h1m3 0h1m1 0h1m3 0h1m2 0h1m2 0h1m1 0h1m1 0h3m1 0h4m1 0h20m1 0h10m1 0h1m1 0h8m1 0h2m2 0h1m1 0h1m25 0h2m32 0h1m1 0h1m2 0h2m3 0h41m2 0h4m1 0h1m1 0h1m2 0h2m3 0h1m5 0h1m2 0h2m3 0h1m1 0h2m9 0h1m2 0h1m6 0h1m-416 1h1m12 0h1m1 0h45m2 0h3m2 0h3m4 0h1m6 0h1m36 0h1m43 0h1m4 0h2m12 0h1m1 0h2m1 0h2m1 0h1m2 0h11m1 0h24m2 0h1m1 0h2m2 0h1m1 0h2m1 0h1m4 0h1m1 0h1m2 0h1m4 0h2m19 0h2m25 0h1m5 0h2m4 0h4m1 0h39m1 0h5m4 0h1m2 0h1m1 0h1m1 0h3m2 0h1m3 0h3m3 0h1m18 0h1m1 0h2m6 0h1m2 0h1m-424 1h1m12 0h2m1 0h39m2 0h2m4 0h1m4 0h1m27 0h2m54 0h1m7 0h4m5 0h1m12 0h1m1 0h1m1 0h2m1 0h5m1 0h6m1 0h22m1 0h13m1 0h2m5 0h1m1 0h2m26 0h1m26 0h2m9 0h1m1 0h3m1 0h36m2 0h1m2 0h5m2 0h1m1 0h1m11 0h1m1 0h2m1 0h3m3 0h2m5 0h1m15 0h1m3 0h1m-417 1h2m6 0h44m1 0h2m3 0h1m9 0h1m7 0h1m5 0h1m10 0h1m53 0h1m1 0h1m1 0h2m1 0h1m4 0h2m10 0h1m1 0h1m2 0h1m3 0h3m1 0h7m1 0h30m1 0h12m1 0h1m1 0h1m3 0h1m16 0h1m1 0h1m9 0h1m33 0h3m2 0h1m2 0h1m1 0h39m1 0h5m1 0h5m1 0h2m2 0h1m12 0h2m4 0h1m1 0h1m3 0h2m1 0h1m25 0h1m-432 1h2m7 0h2m3 0h37m1 0h4m4 0h4m1 0h1m3 0h1m6 0h1m12 0h1m9 0h1m22 0h1m31 0h1m1 0h1m1 0h1m1 0h1m3 0h3m4 0h2m9 0h2m1 0h1m2 0h1m1 0h5m2 0h8m1 0h25m1 0h3m1 0h5m4 0h1m6 0h1m10 0h1m13 0h2m23 0h1m7 0h3m1 0h1m2 0h3m1 0h3m1 0h35m6 0h3m6 0h1m1 0h1m2 0h1m9 0h1m8 0h2m1 0h2m1 0h1m12 0h1m12 0h1m-433 1h1m1 0h1m8 0h1m3 0h5m1 0h1m1 0h33m1 0h5m1 0h1m1 0h3m2 0h2m11 0h3m4 0h1m21 0h1m12 0h1m28 0h1m3 0h1m6 0h4m6 0h2m4 0h1m2 0h3m1 0h2m4 0h3m1 0h2m2 0h22m1 0h1m1 0h5m2 0h5m5 0h1m1 0h2m31 0h2m26 0h1m3 0h1m1 0h1m5 0h1m2 0h1m1 0h37m2 0h1m1 0h5m5 0h1m24 0h1m2 0h1m21 0h1m-422 1h1m12 0h1m2 0h38m1 0h1m5 0h1m14 0h1m26 0h1m1 0h1m51 0h2m1 0h1m1 0h7m4 0h1m7 0h3m1 0h1m1 0h2m1 0h34m2 0h1m4 0h4m4 0h1m2 0h2m1 0h3m4 0h1m23 0h1m27 0h1m3 0h1m1 0h3m3 0h1m2 0h30m1 0h4m1 0h3m2 0h4m1 0h2m5 0h1m6 0h2m6 0h4m6 0h3m8 0h2m18 0h1m-429 1h1m3 0h1m7 0h3m1 0h41m1 0h1m3 0h2m13 0h1m9 0h1m33 0h1m27 0h1m3 0h1m3 0h2m3 0h3m1 0h1m11 0h1m2 0h3m2 0h8m1 0h12m1 0h12m2 0h4m1 0h1m2 0h1m1 0h1m3 0h1m3 0h2m1 0h1m1 0h1m28 0h1m24 0h3m1 0h2m5 0h1m1 0h1m1 0h1m1 0h1m1 0h4m1 0h29m1 0h3m1 0h3m1 0h2m8 0h2m2 0h3m3 0h1m2 0h2m1 0h1m7 0h1m28 0h1m2 0h2m-430 1h1m8 0h1m2 0h5m1 0h38m2 0h1m1 0h3m7 0h1m1 0h1m6 0h1m10 0h1m7 0h1m4 0h1m17 0h2m30 0h1m1 0h2m1 0h1m4 0h3m4 0h1m3 0h1m1 0h1m2 0h1m1 0h3m1 0h28m1 0h7m1 0h1m1 0h3m1 0h2m2 0h1m1 0h1m2 0h2m3 0h3m56 0h6m4 0h3m1 0h5m1 0h34m1 0h5m2 0h1m1 0h2m1 0h1m1 0h5m4 0h1m5 0h2m1 0h1m11 0h2m4 0h1m7 0h1m13 0h1m-428 1h1m11 0h4m2 0h34m1 0h3m1 0h1m1 0h1m1 0h1m4 0h2m3 0h1m18 0h1m6 0h1m22 0h1m1 0h2m22 0h1m5 0h1m3 0h2m2 0h2m2 0h3m2 0h1m1 0h3m2 0h1m1 0h2m1 0h3m2 0h15m1 0h18m1 0h1m2 0h1m2 0h2m3 0h1m3 0h1m3 0h1m3 0h1m14 0h1m14 0h2m23 0h1m1 0h1m1 0h2m1 0h5m1 0h1m3 0h38m1 0h4m2 0h2m2 0h1m1 0h1m5 0h1m10 0h1m1 0h1m2 0h2m15 0h1m7 0h1m7 0h1m-421 1h1m3 0h2m4 0h3m1 0h1m1 0h35m1 0h3m2 0h3m2 0h2m2 0h1m1 0h1m21 0h1m1 0h1m8 0h1m2 0h1m10 0h2m3 0h1m23 0h1m7 0h2m2 0h1m1 0h3m1 0h1m1 0h1m1 0h1m10 0h20m1 0h12m1 0h7m3 0h3m1 0h1m4 0h1m1 0h4m14 0h1m7 0h1m13 0h2m25 0h1m1 0h10m3 0h2m1 0h1m1 0h1m1 0h30m1 0h2m1 0h1m1 0h2m5 0h1m11 0h1m3 0h1m3 0h2m3 0h2m-395 1h1m8 0h1m5 0h6m1 0h27m1 0h4m3 0h4m1 0h1m4 0h1m5 0h1m4 0h1m1 0h1m7 0h1m5 0h1m11 0h1m16 0h1m25 0h1m3 0h1m2 0h2m1 0h3m2 0h3m2 0h2m8 0h1m2 0h1m3 0h20m1 0h14m1 0h5m1 0h1m1 0h1m2 0h1m1 0h1m1 0h1m1 0h1m37 0h2m24 0h1m1 0h2m2 0h1m1 0h2m1 0h5m2 0h3m1 0h2m1 0h4m1 0h18m1 0h9m10 0h1m1 0h1m5 0h1m1 0h1m7 0h1m40 0h1m-431 1h2m12 0h1m2 0h4m1 0h35m2 0h1m2 0h1m6 0h2m3 0h2m7 0h1m16 0h1m23 0h1m26 0h1m2 0h1m1 0h8m14 0h1m1 0h1m2 0h1m1 0h14m1 0h26m2 0h3m5 0h1m2 0h1m8 0h1m13 0h1m12 0h1m1 0h1m25 0h1m5 0h2m3 0h2m1 0h1m1 0h1m1 0h38m1 0h2m1 0h1m1 0h3m6 0h1m3 0h1m7 0h3m15 0h1m2 0h1m5 0h1m5 0h1m8 0h1m-431 1h1m16 0h1m3 0h30m1 0h5m1 0h1m6 0h1m6 0h1m7 0h1m21 0h1m55 0h2m1 0h7m1 0h1m1 0h1m4 0h1m1 0h1m2 0h2m1 0h1m1 0h2m2 0h1m1 0h3m1 0h14m1 0h7m2 0h2m1 0h2m2 0h1m1 0h3m2 0h1m30 0h2m13 0h1m24 0h4m3 0h1m1 0h1m1 0h1m1 0h1m1 0h1m1 0h1m1 0h28m1 0h4m2 0h2m2 0h1m3 0h1m1 0h2m10 0h1m7 0h1m7 0h1m7 0h3m5 0h2m1 0h1m14 0h1m-425 1h1m8 0h1m2 0h1m2 0h32m1 0h2m3 0h2m1 0h1m5 0h1m4 0h1m45 0h1m33 0h1m1 0h1m2 0h2m2 0h1m1 0h3m1 0h1m6 0h2m2 0h2m3 0h2m1 0h23m1 0h7m1 0h6m1 0h2m2 0h3m2 0h1m7 0h1m34 0h2m21 0h1m2 0h1m2 0h4m1 0h4m1 0h1m3 0h5m1 0h2m1 0h28m6 0h4m13 0h1m22 0h1m1 0h1m8 0h1m7 0h1m5 0h1m-424 1h1m8 0h1m1 0h2m2 0h2m1 0h26m1 0h5m1 0h1m6 0h1m2 0h2m5 0h1m3 0h1m17 0h1m27 0h1m28 0h1m3 0h1m2 0h1m2 0h7m5 0h4m1 0h2m1 0h1m1 0h2m1 0h10m1 0h12m1 0h2m1 0h4m1 0h3m1 0h3m6 0h3m1 0h1m3 0h2m15 0h1m43 0h1m2 0h1m1 0h6m1 0h3m3 0h1m3 0h2m1 0h2m1 0h5m1 0h23m1 0h3m1 0h6m11 0h2m8 0h1m31 0h1m-409 1h34m1 0h6m1 0h2m2 0h1m3 0h1m7 0h1m9 0h1m13 0h1m8 0h1m17 0h1m28 0h1m5 0h3m2 0h3m1 0h1m1 0h1m3 0h1m2 0h1m2 0h9m1 0h3m1 0h7m1 0h12m1 0h2m1 0h6m1 0h4m1 0h1m6 0h1m5 0h1m5 0h1m28 0h1m22 0h1m3 0h4m2 0h2m1 0h3m1 0h6m1 0h4m1 0h6m1 0h16m1 0h3m2 0h2m2 0h1m1 0h1m1 0h1m2 0h1m25 0h1m4 0h1m-387 1h3m1 0h1m1 0h1m1 0h22m1 0h8m1 0h1m1 0h2m27 0h1m14 0h2m3 0h1m45 0h1m4 0h3m1 0h4m1 0h2m1 0h1m1 0h1m5 0h20m1 0h11m1 0h5m2 0h1m2 0h3m1 0h3m1 0h3m1 0h1m11 0h1m9 0h2m21 0h1m24 0h1m4 0h1m4 0h1m3 0h3m1 0h1m1 0h29m3 0h3m1 0h4m1 0h2m10 0h1m2 0h1m10 0h1m7 0h1m4 0h1m14 0h2m-404 1h38m1 0h1m3 0h2m7 0h1m19 0h1m9 0h1m59 0h6m2 0h1m1 0h4m1 0h2m3 0h1m3 0h5m1 0h7m1 0h5m1 0h9m1 0h3m1 0h8m1 0h1m2 0h1m1 0h2m2 0h1m5 0h1m14 0h1m22 0h2m24 0h1m4 0h2m1 0h1m1 0h2m6 0h1m2 0h5m1 0h22m1 0h6m1 0h4m1 0h2m1 0h1m25 0h1m3 0h1m16 0h1m2 0h1m4 0h1m7 0h2m-422 1h1m3 0h3m2 0h27m1 0h9m14 0h1m6 0h2m3 0h1m13 0h1m10 0h1m1 0h1m42 0h1m3 0h6m1 0h4m2 0h2m2 0h1m1 0h3m3 0h11m1 0h12m1 0h9m1 0h6m1 0h2m1 0h1m2 0h2m8 0h1m36 0h3m21 0h1m1 0h1m2 0h4m1 0h3m1 0h1m3 0h2m1 0h1m1 0h28m1 0h1m1 0h1m1 0h2m2 0h4m4 0h1m2 0h1m4 0h1m9 0h1m4 0h1m3 0h2m6 0h1m11 0h1m7 0h1m-409 1h1m2 0h1m1 0h30m6 0h1m1 0h2m30 0h1m6 0h1m11 0h1m13 0h1m23 0h1m5 0h2m1 0h3m1 0h4m1 0h4m1 0h10m1 0h1m1 0h8m1 0h6m1 0h2m1 0h2m3 0h1m2 0h1m1 0h3m2 0h1m3 0h4m3 0h1m46 0h1m24 0h2m3 0h5m3 0h3m2 0h28m1 0h2m1 0h1m2 0h2m2 0h2m3 0h1m1 0h1m11 0h1m7 0h1m2 0h1m2 0h1m-387 1h1m8 0h1m4 0h1m1 0h9m1 0h8m1 0h9m1 0h4m1 0h2m3 0h1m15 0h1m18 0h2m9 0h1m48 0h1m2 0h2m2 0h3m1 0h2m2 0h3m1 0h1m1 0h11m1 0h25m3 0h1m3 0h1m1 0h1m36 0h1m43 0h3m1 0h1m1 0h2m1 0h2m2 0h2m2 0h15m1 0h21m13 0h1m3 0h1m16 0h1m30 0h1m7 0h1m-436 1h2m17 0h1m3 0h2m1 0h1m1 0h31m1 0h1m1 0h1m38 0h1m9 0h2m9 0h1m2 0h1m37 0h1m1 0h2m2 0h2m1 0h3m1 0h1m1 0h2m1 0h15m1 0h21m1 0h1m3 0h4m1 0h2m7 0h1m69 0h1m1 0h1m1 0h5m1 0h3m1 0h1m3 0h1m1 0h1m1 0h17m1 0h8m1 0h5m1 0h3m2 0h1m3 0h2m1 0h3m3 0h1m51 0h1m-414 1h3m1 0h5m2 0h2m2 0h1m1 0h6m1 0h11m1 0h1m1 0h2m9 0h2m1 0h4m15 0h1m2 0h1m31 0h1m5 0h1m29 0h1m1 0h2m2 0h2m1 0h1m1 0h3m1 0h2m1 0h2m1 0h11m1 0h6m1 0h3m1 0h10m2 0h3m1 0h1m2 0h1m1 0h2m1 0h1m4 0h1m12 0h2m5 0h1m1 0h1m19 0h1m29 0h2m3 0h1m1 0h2m2 0h3m2 0h1m4 0h3m4 0h10m1 0h10m3 0h1m4 0h2m2 0h1m3 0h1m-363 1h1m1 0h1m7 0h1m1 0h6m2 0h23m2 0h2m2 0h2m8 0h1m24 0h1m4 0h1m20 0h1m10 0h2m26 0h1m1 0h2m5 0h1m1 0h1m1 0h5m1 0h1m1 0h1m2 0h2m1 0h2m1 0h18m1 0h4m1 0h2m3 0h2m1 0h1m1 0h1m4 0h1m7 0h1m13 0h1m7 0h1m24 0h1m25 0h1m2 0h1m1 0h1m1 0h4m1 0h1m2 0h3m3 0h1m2 0h5m1 0h17m1 0h1m1 0h2m2 0h1m1 0h1m8 0h1m12 0h1m2 0h1m1 0h1m14 0h1m28 0h1m-432 1h1m18 0h1m1 0h3m1 0h2m1 0h4m1 0h9m1 0h6m1 0h2m1 0h2m1 0h1m29 0h1m6 0h1m59 0h1m2 0h1m1 0h4m2 0h1m2 0h7m1 0h9m1 0h8m1 0h9m3 0h2m1 0h1m1 0h1m5 0h1m1 0h1m10 0h2m14 0h1m15 0h1m41 0h3m3 0h1m1 0h1m1 0h2m1 0h1m4 0h2m1 0h5m2 0h5m2 0h4m1 0h10m2 0h3m2 0h3m20 0h3m44 0h1m-422 1h1m5 0h1m4 0h2m4 0h10m1 0h7m2 0h6m1 0h1m10 0h1m56 0h1m4 0h1m25 0h6m2 0h4m4 0h1m1 0h1m2 0h11m1 0h20m5 0h1m1 0h2m6 0h1m7 0h1m2 0h1m33 0h1m11 0h1m26 0h7m1 0h5m3 0h1m1 0h2m3 0h3m2 0h6m1 0h1m1 0h7m1 0h2m1 0h1m1 0h1m2 0h1m4 0h1m2 0h2m1 0h1m2 0h1m6 0h1m23 0h1m2 0h1m5 0h1m17 0h1m1 0h1m-406 1h4m1 0h1m1 0h10m1 0h2m2 0h6m4 0h1m3 0h2m20 0h1m36 0h2m3 0h1m27 0h2m1 0h2m2 0h4m1 0h2m1 0h1m1 0h3m1 0h2m1 0h16m1 0h3m1 0h3m2 0h4m1 0h3m1 0h1m6 0h1m6 0h1m1 0h1m47 0h1m24 0h1m2 0h1m1 0h1m1 0h1m2 0h2m3 0h1m2 0h4m2 0h4m1 0h1m1 0h10m2 0h8m3 0h1m7 0h1m1 0h1m5 0h1m1 0h1m4 0h1m21 0h1m1 0h2m24 0h1m-433 1h1m16 0h2m2 0h1m6 0h1m2 0h4m2 0h5m1 0h5m2 0h3m1 0h1m2 0h1m4 0h2m2 0h2m23 0h1m61 0h1m1 0h1m2 0h2m2 0h1m2 0h2m1 0h1m1 0h2m1 0h4m1 0h11m1 0h9m1 0h1m1 0h4m7 0h1m16 0h2m30 0h1m17 0h2m23 0h1m1 0h1m1 0h1m1 0h2m1 0h4m7 0h1m4 0h3m1 0h1m1 0h12m1 0h1m1 0h5m5 0h2m5 0h1m14 0h1m4 0h1m3 0h1m22 0h1m2 0h1m8 0h1m-427 1h1m15 0h2m2 0h2m4 0h2m3 0h6m1 0h5m2 0h1m1 0h4m1 0h2m1 0h1m5 0h2m11 0h1m7 0h1m13 0h2m4 0h1m23 0h1m28 0h1m1 0h2m2 0h4m1 0h10m1 0h29m2 0h1m4 0h1m8 0h1m29 0h1m26 0h2m28 0h2m1 0h1m1 0h1m6 0h2m4 0h3m1 0h1m2 0h4m2 0h1m1 0h5m1 0h1m3 0h3m1 0h2m5 0h2m1 0h1m4 0h2m14 0h1m4 0h1m21 0h1m2 0h2m9 0h1m-423 1h1m13 0h3m1 0h1m8 0h8m1 0h2m1 0h1m1 0h1m1 0h2m1 0h3m4 0h2m1 0h1m5 0h1m5 0h1m12 0h1m33 0h1m4 0h1m26 0h2m4 0h2m1 0h2m1 0h1m1 0h12m1 0h3m1 0h4m1 0h7m1 0h1m4 0h2m3 0h1m2 0h3m3 0h2m4 0h1m23 0h2m3 0h1m28 0h1m24 0h2m1 0h1m2 0h2m1 0h1m2 0h1m3 0h3m2 0h3m1 0h7m1 0h12m1 0h4m1 0h1m1 0h1m1 0h1m9 0h2m10 0h1m27 0h1m-407 1h2m4 0h1m2 0h1m2 0h2m6 0h2m3 0h6m1 0h4m1 0h2m5 0h2m1 0h1m2 0h2m1 0h1m4 0h1m6 0h1m4 0h1m6 0h1m3 0h1m36 0h1m31 0h2m1 0h2m1 0h2m1 0h10m1 0h10m1 0h8m2 0h2m1 0h3m3 0h2m1 0h2m3 0h1m3 0h2m8 0h1m1 0h1m7 0h1m16 0h2m23 0h1m1 0h1m22 0h1m3 0h4m3 0h3m1 0h2m1 0h1m1 0h1m3 0h2m1 0h4m1 0h7m2 0h5m2 0h1m2 0h5m1 0h1m2 0h1m8 0h2m9 0h1m33 0h1m-419 1h1m4 0h3m3 0h1m6 0h1m4 0h3m2 0h1m1 0h1m2 0h1m3 0h5m1 0h2m5 0h2m1 0h2m3 0h1m3 0h1m2 0h2m48 0h2m42 0h2m1 0h20m1 0h17m5 0h1m1 0h2m4 0h1m1 0h2m11 0h2m7 0h1m42 0h1m24 0h1m3 0h8m4 0h1m1 0h1m2 0h4m2 0h2m1 0h1m2 0h3m1 0h2m2 0h1m1 0h3m1 0h1m2 0h2m1 0h1m16 0h1m27 0h1m9 0h1m1 0h2m15 0h1m-433 1h2m1 0h2m1 0h2m3 0h1m2 0h1m2 0h1m1 0h1m3 0h1m4 0h4m5 0h2m1 0h6m1 0h1m1 0h1m1 0h1m7 0h1m14 0h1m11 0h1m32 0h2m30 0h1m2 0h3m1 0h2m1 0h4m1 0h1m2 0h8m1 0h5m1 0h2m1 0h6m2 0h7m3 0h1m3 0h1m1 0h1m1 0h2m2 0h1m13 0h1m29 0h1m10 0h1m36 0h2m3 0h2m1 0h5m2 0h5m1 0h1m2 0h2m1 0h9m2 0h1m4 0h1m2 0h2m1 0h1m8 0h3m4 0h1m12 0h1m27 0h1m1 0h1m15 0h1m-435 1h7m1 0h1m6 0h1m3 0h1m4 0h2m4 0h3m3 0h1m1 0h6m1 0h2m1 0h2m4 0h2m9 0h1m2 0h2m6 0h1m81 0h2m1 0h37m1 0h2m1 0h3m4 0h3m1 0h1m4 0h1m6 0h1m45 0h2m32 0h2m2 0h8m2 0h1m3 0h4m1 0h2m1 0h1m1 0h1m1 0h3m1 0h6m1 0h2m1 0h1m3 0h1m2 0h1m5 0h1m2 0h2m1 0h1m5 0h1m-374 1h1m1 0h3m1 0h1m7 0h2m2 0h2m5 0h1m3 0h3m3 0h6m1 0h4m1 0h3m1 0h2m1 0h1m5 0h1m3 0h1m4 0h1m29 0h1m5 0h1m10 0h1m5 0h1m34 0h1m1 0h30m1 0h4m2 0h5m1 0h3m3 0h1m8 0h1m7 0h1m30 0h2m22 0h2m23 0h6m2 0h6m1 0h1m1 0h1m1 0h1m2 0h2m1 0h2m1 0h2m1 0h2m2 0h1m1 0h3m1 0h2m2 0h1m1 0h1m1 0h1m7 0h3m1 0h1m1 0h1m9 0h1m28 0h2m-409 1h1m3 0h2m2 0h1m2 0h1m2 0h1m1 0h2m1 0h3m1 0h1m6 0h1m6 0h3m2 0h1m2 0h1m1 0h1m1 0h2m4 0h2m4 0h1m94 0h2m1 0h8m1 0h7m1 0h17m1 0h1m1 0h3m2 0h1m2 0h1m2 0h1m50 0h1m21 0h2m24 0h2m1 0h10m4 0h6m1 0h3m3 0h3m1 0h1m2 0h1m1 0h2m3 0h1m1 0h2m4 0h1m4 0h2m3 0h2m23 0h1m10 0h1m21 0h1m-423 1h1m1 0h5m3 0h2m2 0h1m4 0h2m4 0h4m1 0h1m1 0h2m3 0h6m2 0h1m6 0h2m18 0h1m6 0h1m7 0h2m6 0h1m28 0h1m22 0h1m2 0h1m1 0h1m1 0h7m1 0h29m3 0h1m9 0h1m8 0h1m10 0h1m75 0h1m2 0h2m2 0h2m2 0h3m1 0h6m1 0h2m2 0h1m2 0h4m4 0h5m3 0h1m1 0h1m4 0h1m5 0h1m8 0h1m29 0h1m-403 1h1m1 0h4m6 0h1m3 0h1m1 0h1m1 0h2m5 0h1m4 0h1m1 0h2m2 0h1m1 0h1m2 0h2m2 0h1m10 0h1m22 0h1m72 0h1m1 0h7m1 0h22m2 0h4m1 0h6m1 0h1m2 0h2m1 0h1m1 0h1m7 0h1m65 0h2m21 0h1m2 0h3m2 0h1m1 0h1m1 0h3m3 0h1m2 0h1m1 0h4m2 0h3m1 0h1m1 0h4m1 0h1m4 0h2m1 0h2m2 0h1m73 0h1m-433 1h3m2 0h1m7 0h1m1 0h1m1 0h1m1 0h3m6 0h1m9 0h4m3 0h2m7 0h1m5 0h1m11 0h1m80 0h1m1 0h37m2 0h1m1 0h6m81 0h1m24 0h9m1 0h2m1 0h4m8 0h2m2 0h4m2 0h4m3 0h1m1 0h1m4 0h1m4 0h1m5 0h2m2 0h1m6 0h1m1 0h1m51 0h3m-435 1h3m3 0h1m2 0h1m4 0h3m11 0h1m2 0h1m5 0h1m1 0h2m15 0h2m10 0h1m3 0h1m81 0h3m1 0h18m1 0h10m4 0h4m1 0h2m2 0h1m4 0h1m100 0h4m1 0h3m1 0h3m2 0h4m1 0h1m1 0h1m1 0h5m1 0h2m1 0h1m1 0h1m2 0h8m1 0h1m1 0h2m1 0h1m21 0h1m54 0h1m-436 1h1m1 0h1m1 0h2m1 0h4m1 0h1m3 0h1m2 0h1m1 0h2m18 0h1m18 0h2m8 0h1m58 0h1m25 0h1m1 0h5m2 0h24m2 0h1m1 0h3m5 0h1m6 0h1m2 0h1m95 0h2m1 0h5m1 0h3m1 0h2m1 0h3m1 0h1m1 0h1m1 0h1m1 0h2m2 0h2m2 0h4m3 0h2m1 0h1m3 0h1m2 0h1m78 0h1m-437 1h1m1 0h5m1 0h5m2 0h1m1 0h1m1 0h2m10 0h2m1 0h2m2 0h1m3 0h2m19 0h1m33 0h1m32 0h1m22 0h1m1 0h28m4 0h2m2 0h6m4 0h1m9 0h1m14 0h1m79 0h2m2 0h2m1 0h7m1 0h4m2 0h2m1 0h1m1 0h1m6 0h1m5 0h3m2 0h1m2 0h1m8 0h1m27 0h1m-388 1h9m4 0h2m2 0h2m6 0h1m3 0h1m2 0h1m1 0h1m1 0h1m1 0h1m1 0h1m54 0h1m32 0h1m21 0h2m1 0h29m1 0h5m1 0h1m1 0h1m3 0h1m1 0h1m81 0h1m23 0h2m1 0h8m1 0h7m2 0h1m2 0h1m7 0h1m1 0h1m7 0h1m5 0h1m2 0h1m33 0h1m-392 1h1m3 0h4m1 0h2m1 0h1m8 0h2m1 0h1m3 0h1m11 0h2m4 0h2m4 0h1m54 0h2m44 0h3m2 0h21m1 0h4m1 0h1m2 0h3m2 0h1m3 0h1m109 0h1m1 0h6m1 0h2m1 0h10m1 0h1m3 0h1m2 0h1m7 0h1m2 0h1m5 0h1m3 0h3m31 0h1m43 0h1m-437 1h1m1 0h6m1 0h5m2 0h1m4 0h1m2 0h1m6 0h1m7 0h1m11 0h1m102 0h1m1 0h25m1 0h2m1 0h3m1 0h1m8 0h1m107 0h4m1 0h4m3 0h1m3 0h5m1 0h1m1 0h1m3 0h2m6 0h1m2 0h1m6 0h1m1 0h1m1 0h2m27 0h1m50 0h1m-436 1h13m1 0h1m3 0h2m17 0h1m13 0h1m2 0h1m62 0h1m34 0h4m1 0h9m1 0h16m2 0h2m2 0h1m8 0h1m83 0h1m22 0h15m1 0h4m1 0h4m1 0h3m4 0h1m12 0h1m-353 1h12m1 0h1m1 0h2m1 0h1m1 0h2m131 0h1m1 0h27m1 0h1m2 0h2m2 0h1m2 0h1m2 0h1m2 0h1m83 0h1m22 0h2m2 0h3m1 0h1m1 0h10m1 0h3m2 0h1m1 0h1m11 0h1m2 0h1m2 0h2m-353 1h5m1 0h12m6 0h1m127 0h2m1 0h26m1 0h3m13 0h1m106 0h6m1 0h12m3 0h3m5 0h2m1 0h2m1 0h1m2 0h1m4 0h1m2 0h2m79 0h1m-435 1h16m1 0h3m2 0h1m30 0h1m99 0h17m1 0h10m1 0h4m5 0h1m115 0h6m2 0h9m1 0h3m2 0h1m2 0h1m3 0h1m2 0h1m1 0h1m9 0h1m3 0h1m-357 1h9m1 0h4m1 0h1m2 0h1m1 0h3m31 0h1m2 0h1m71 0h1m1 0h1m21 0h28m1 0h1m3 0h1m3 0h1m117 0h3m1 0h6m1 0h5m2 0h3m1 0h2m5 0h3m9 0h1m2 0h1m4 0h1m77 0h2m-437 1h1m1 0h1m1 0h9m2 0h2m2 0h2m1 0h1m8 0h1m10 0h1m14 0h1m72 0h1m22 0h2m1 0h20m1 0h4m9 0h2m118 0h9m1 0h3m2 0h3m1 0h3m6 0h1m9 0h2m85 0h2m-437 1h14m1 0h1m6 0h1m18 0h1m89 0h1m23 0h27m100 0h2m24 0h1m1 0h2m1 0h2m2 0h1m1 0h2m1 0h6m1 0h3m6 0h3m4 0h1m91 0h1m-438 1h6m1 0h5m1 0h2m2 0h1m2 0h1m1 0h1m108 0h1m21 0h1m1 0h18m1 0h2m2 0h2m1 0h1m3 0h2m1 0h1m95 0h1m22 0h1m2 0h9m1 0h3m3 0h4m6 0h1m2 0h1m16 0h1m78 0h1m-436 1h1m1 0h5m1 0h1m1 0h4m2 0h1m1 0h1m39 0h1m14 0h2m43 0h1m34 0h2m1 0h16m1 0h4m3 0h1m1 0h1m6 0h1m118 0h2m2 0h5m1 0h1m2 0h9m7 0h2m2 0h1m8 0h1m85 0h1m-437 1h7m1 0h7m3 0h3m97 0h1m35 0h4m1 0h15m1 0h1m1 0h2m2 0h3m123 0h2m2 0h19m13 0h1m2 0h1m89 0h2m-438 1h9m1 0h1m1 0h7m1 0h1m15 0h1m118 0h3m1 0h1m1 0h16m3 0h1m3 0h1m123 0h1m1 0h1m1 0h1m1 0h5m2 0h5m2 0h2m4 0h1m11 0h1m-310 1h1m289 0h1m16 0h1m12 0h1m78 0h1m-154 1h2m42 0h1m11 0h1m4 0h1m90 0h2m-415 1h1m27 0h1m232 0h2m49 0h1m10 0h1m10 0h1m20 0h1m57 0h2m-387 1h1m231 0h1m65 0h1m-315 1h1m94 0h1m213 0h1m22 0h1m6 0h2m2 0h1m-248 1h2m151 0h1m40 0h1m18 0h1m22 0h1m11 0h1m-248 1h1m152 0h1m44 0h1m-48 1h2m46 0h1m53 0h2m-103 1h2m-3 1h1m61 0h2m-230 123h1m-50 2h1m49 3h1m-19 4h1m-27 3h1m38 4h1m278 0h2m-170 1h1m-113 1h1m138 0h1m131 0h1m-319 1h1m7 0h2m1 0h1m282 0h1m2 0h1m35 0h1m-339 1h2m4 0h1m292 0h1m44 0h1m-341 1h1m8 0h1m3 0h1m35 0h1m263 0h1m-315 1h1m1 0h1m7 0h2m39 0h1m135 0h1m126 0h1m9 0h1m-326 1h1m11 0h2m164 0h1m137 0h1m12 0h2m-328 1h2m1 0h1m3 0h1m306 0h1m-317 1h1m2 0h1m1 0h1m3 0h1m2 0h1m170 0h1m-181 1h1m1 0h6m1 0h1m1 0h1m21 0h1m-39 1h1m5 0h1m2 0h3m1 0h1m24 0h1m-42 1h1m3 0h1m1 0h2m4 0h2m1 0h1m1 0h1m4 0h2m140 0h1m7 0h1m2 0h1m130 0h1m6 0h1m4 0h1m-324 1h1m11 0h2m2 0h2m3 0h1m145 0h1m5 0h1m144 0h2m3 0h1m-318 1h1m1 0h3m1 0h1m2 0h2m2 0h1m1 0h1m2 0h1m148 0h1m4 0h2m133 0h1m9 0h1m4 0h1m9 0h1m-332 1h1m1 0h2m3 0h1m1 0h2m2 0h5m2 0h1m142 0h1m4 0h2m3 0h1m142 0h2m4 0h2m1 0h1m5 0h3m9 0h1m-343 1h1m3 0h1m1 0h1m1 0h1m1 0h1m3 0h2m3 0h1m2 0h1m40 0h2m97 0h1m7 0h2m1 0h2m147 0h1m1 0h2m3 0h2m-346 1h1m14 0h2m1 0h1m3 0h2m1 0h1m1 0h2m2 0h1m1 0h1m140 0h1m1 0h4m3 0h1m1 0h2m147 0h1m9 0h1m3 0h1m1 0h1m-342 1h1m4 0h2m3 0h3m1 0h2m4 0h2m2 0h2m138 0h1m5 0h1m2 0h2m2 0h1m139 0h1m1 0h2m4 0h1m3 0h1m6 0h1m-333 1h1m1 0h4m1 0h3m1 0h1m1 0h1m1 0h1m2 0h1m144 0h1m1 0h1m3 0h1m143 0h1m2 0h1m5 0h1m-324 1h2m1 0h1m1 0h1m1 0h6m1 0h2m6 0h1m137 0h2m2 0h1m4 0h1m3 0h1m3 0h1m139 0h1m5 0h1m5 0h2m4 0h2m-332 1h1m2 0h5m1 0h2m2 0h2m143 0h1m1 0h2m148 0h1m3 0h1m1 0h2m8 0h1m2 0h1m1 0h1m-332 1h2m1 0h1m1 0h1m1 0h1m1 0h1m5 0h1m3 0h1m138 0h1m1 0h1m1 0h2m7 0h3m137 0h1m7 0h2m8 0h1m2 0h1m-348 1h1m11 0h4m1 0h2m3 0h1m1 0h1m1 0h1m4 0h1m3 0h1m138 0h4m2 0h1m2 0h1m2 0h1m135 0h1m6 0h2m1 0h1m4 0h1m2 0h1m9 0h2m-351 1h2m1 0h1m3 0h1m1 0h1m4 0h1m1 0h4m1 0h1m2 0h2m147 0h5m2 0h3m137 0h1m5 0h1m1 0h2m1 0h2m3 0h1m2 0h1m2 0h1m-341 1h1m4 0h1m1 0h1m7 0h3m2 0h1m1 0h2m8 0h1m133 0h2m3 0h2m6 0h1m1 0h1m1 0h1m5 0h1m129 0h1m3 0h3m1 0h8m2 0h1m3 0h2m2 0h1m-346 1h1m2 0h4m3 0h3m1 0h3m1 0h1m2 0h3m2 0h2m4 0h1m136 0h1m1 0h1m4 0h2m7 0h1m2 0h1m135 0h1m1 0h2m1 0h1m3 0h3m1 0h1m6 0h1m-350 1h1m9 0h1m2 0h2m1 0h2m3 0h1m1 0h2m1 0h1m1 0h1m2 0h3m138 0h1m2 0h1m1 0h1m1 0h1m3 0h1m2 0h2m10 0h1m128 0h4m2 0h1m1 0h1m1 0h1m3 0h1m1 0h3m4 0h2m2 0h2m-350 1h2m7 0h1m1 0h1m1 0h1m1 0h2m1 0h1m4 0h1m135 0h1m6 0h5m1 0h1m4 0h2m2 0h1m10 0h1m125 0h1m6 0h4m1 0h2m4 0h1m5 0h1m-341 1h1m4 0h3m2 0h6m2 0h2m4 0h1m140 0h4m2 0h6m3 0h3m134 0h3m4 0h1m5 0h6m3 0h1m-356 1h1m5 0h1m11 0h6m1 0h7m3 0h1m1 0h1m5 0h1m137 0h1m1 0h3m1 0h2m1 0h2m1 0h2m1 0h1m1 0h1m2 0h1m136 0h4m3 0h1m2 0h3m5 0h1m2 0h1m7 0h1m-368 1h1m6 0h1m3 0h3m1 0h1m2 0h6m3 0h3m1 0h1m6 0h1m4 0h2m135 0h1m2 0h2m3 0h1m3 0h2m5 0h1m132 0h1m5 0h2m4 0h5m1 0h1m3 0h1m12 0h1m-357 1h3m1 0h2m1 0h8m2 0h4m1 0h3m13 0h1m124 0h1m6 0h6m3 0h1m2 0h1m6 0h1m7 0h1m132 0h1m1 0h8m5 0h1m-345 1h1m4 0h9m1 0h4m4 0h1m2 0h2m5 0h1m4 0h1m136 0h1m2 0h1m2 0h1m2 0h2m10 0h1m104 0h2m17 0h3m1 0h2m1 0h1m2 0h8m1 0h1m3 0h2m-351 1h1m1 0h1m1 0h5m2 0h2m1 0h6m1 0h2m1 0h1m1 0h1m1 0h3m3 0h2m137 0h2m1 0h1m1 0h1m7 0h1m7 0h2m131 0h1m2 0h2m1 0h2m1 0h4m2 0h2m1 0h1m1 0h1m4 0h1m-350 1h1m4 0h1m1 0h1m1 0h3m3 0h3m4 0h3m1 0h1m4 0h2m137 0h4m1 0h5m2 0h7m3 0h1m5 0h1m127 0h1m1 0h1m3 0h3m1 0h3m4 0h2m1 0h1m-345 1h2m1 0h1m1 0h1m1 0h3m1 0h11m1 0h1m5 0h2m138 0h3m2 0h1m6 0h1m1 0h4m4 0h1m1 0h1m113 0h1m15 0h6m2 0h8m2 0h2m1 0h1m7 0h1m-353 1h1m3 0h1m1 0h6m1 0h2m3 0h4m1 0h1m4 0h1m104 0h2m35 0h1m2 0h1m3 0h2m2 0h2m1 0h1m2 0h2m5 0h1m112 0h1m1 0h1m1 0h3m7 0h1m3 0h2m1 0h1m1 0h1m1 0h3m1 0h2m1 0h1m2 0h4m7 0h1m-365 1h1m8 0h1m5 0h5m1 0h7m3 0h2m5 0h1m18 0h1m126 0h1m1 0h2m2 0h4m1 0h5m17 0h1m104 0h3m8 0h7m3 0h7m6 0h2m-357 1h1m1 0h1m6 0h1m3 0h5m4 0h2m2 0h3m2 0h4m143 0h1m2 0h3m2 0h2m1 0h2m2 0h1m1 0h1m1 0h1m3 0h1m118 0h3m1 0h4m4 0h7m1 0h3m2 0h2m7 0h2m12 0h1m-364 1h1m2 0h2m2 0h3m1 0h5m2 0h2m1 0h5m3 0h1m13 0h1m133 0h3m1 0h2m3 0h1m1 0h3m1 0h2m114 0h2m5 0h2m4 0h1m3 0h1m2 0h1m2 0h8m1 0h4m3 0h5m12 0h1m-374 1h1m4 0h1m4 0h2m4 0h3m1 0h4m1 0h10m143 0h1m5 0h2m1 0h2m2 0h2m2 0h1m12 0h1m114 0h2m2 0h2m1 0h1m4 0h1m4 0h2m2 0h9m1 0h1m1 0h2m2 0h1m1 0h2m-366 1h1m4 0h4m3 0h4m1 0h1m1 0h1m1 0h4m1 0h6m2 0h1m4 0h1m1 0h1m123 0h1m14 0h1m13 0h8m1 0h1m6 0h1m105 0h2m1 0h4m1 0h4m4 0h5m2 0h1m1 0h8m1 0h4m2 0h2m6 0h1m-364 1h1m5 0h1m4 0h1m1 0h4m1 0h9m2 0h4m1 0h2m2 0h1m1 0h3m135 0h1m4 0h5m1 0h1m3 0h2m1 0h3m5 0h1m109 0h2m5 0h1m1 0h3m1 0h1m1 0h1m1 0h3m3 0h1m1 0h1m1 0h3m1 0h4m2 0h2m2 0h2m-358 1h1m5 0h2m2 0h3m1 0h10m1 0h2m1 0h2m1 0h4m118 0h1m29 0h2m1 0h1m1 0h6m2 0h2m1 0h1m2 0h1m29 0h1m83 0h2m3 0h2m1 0h2m2 0h3m2 0h1m1 0h3m2 0h3m2 0h1m1 0h4m3 0h1m2 0h2m-360 1h1m7 0h5m1 0h1m1 0h5m4 0h6m1 0h2m1 0h1m4 0h1m34 0h1m65 0h1m12 0h1m2 0h2m1 0h1m2 0h2m6 0h1m2 0h1m7 0h1m1 0h1m3 0h1m1 0h1m2 0h4m1 0h2m4 0h1m16 0h1m8 0h1m3 0h1m65 0h1m3 0h1m10 0h2m1 0h1m1 0h1m4 0h2m2 0h1m7 0h2m4 0h2m1 0h9m5 0h2m4 0h1m-373 1h1m5 0h1m2 0h4m1 0h6m1 0h8m2 0h1m2 0h3m1 0h1m1 0h2m3 0h2m122 0h3m4 0h1m1 0h2m7 0h2m1 0h1m1 0h5m3 0h3m2 0h1m1 0h1m5 0h2m13 0h1m8 0h1m69 0h1m10 0h1m5 0h1m1 0h1m1 0h6m2 0h1m3 0h2m1 0h4m1 0h2m1 0h1m2 0h2m3 0h2m4 0h6m1 0h2m2 0h1m-371 1h3m1 0h1m1 0h17m1 0h1m1 0h1m1 0h2m1 0h1m1 0h1m1 0h1m120 0h1m8 0h1m4 0h1m2 0h2m3 0h2m3 0h1m5 0h5m1 0h1m1 0h2m1 0h2m6 0h2m13 0h1m79 0h1m8 0h1m1 0h2m3 0h12m1 0h1m1 0h4m5 0h2m1 0h4m2 0h3m1 0h1m1 0h1m4 0h1m8 0h1m-374 1h1m1 0h2m1 0h17m1 0h5m1 0h5m4 0h1m3 0h1m11 0h1m95 0h1m8 0h1m8 0h3m2 0h1m1 0h4m1 0h2m2 0h3m1 0h1m1 0h3m1 0h1m1 0h1m4 0h1m4 0h1m2 0h1m14 0h1m81 0h1m5 0h1m1 0h12m1 0h6m2 0h3m2 0h2m2 0h5m5 0h2m5 0h1m-370 1h1m7 0h6m1 0h6m1 0h13m1 0h2m1 0h2m5 0h2m2 0h1m17 0h1m22 0h1m76 0h1m1 0h1m2 0h1m2 0h2m3 0h1m1 0h6m4 0h4m2 0h2m1 0h1m1 0h1m1 0h1m2 0h1m1 0h1m91 0h1m3 0h1m9 0h1m1 0h2m3 0h3m3 0h4m1 0h5m1 0h3m1 0h6m1 0h5m1 0h3m6 0h1m2 0h1m1 0h1m-374 1h4m2 0h1m2 0h22m1 0h3m1 0h4m1 0h1m17 0h1m9 0h1m82 0h1m6 0h1m1 0h1m5 0h1m1 0h3m5 0h2m1 0h2m2 0h3m1 0h3m1 0h1m1 0h1m2 0h1m1 0h2m1 0h2m2 0h3m8 0h1m5 0h1m3 0h1m72 0h3m1 0h1m10 0h1m1 0h1m5 0h3m2 0h2m1 0h2m1 0h8m1 0h2m1 0h1m1 0h1m2 0h3m1 0h3m1 0h5m1 0h1m1 0h2m1 0h1m3 0h1m1 0h1m3 0h1m-394 1h2m9 0h1m1 0h1m3 0h2m1 0h1m1 0h22m2 0h5m1 0h2m2 0h1m2 0h1m2 0h1m2 0h1m12 0h1m86 0h1m4 0h1m3 0h1m2 0h1m1 0h2m5 0h3m2 0h1m1 0h2m5 0h4m1 0h3m2 0h4m1 0h4m1 0h2m6 0h1m2 0h1m78 0h1m20 0h4m2 0h12m1 0h2m1 0h1m1 0h7m1 0h2m1 0h2m1 0h2m1 0h5m4 0h1m11 0h1m2 0h2m-386 1h1m2 0h1m2 0h4m1 0h29m1 0h1m1 0h1m10 0h1m11 0h1m83 0h1m3 0h1m1 0h2m3 0h3m1 0h1m1 0h3m1 0h1m2 0h4m3 0h4m4 0h5m4 0h1m2 0h3m3 0h4m2 0h1m1 0h1m1 0h3m78 0h1m8 0h1m8 0h1m1 0h1m1 0h1m1 0h2m1 0h7m2 0h11m1 0h6m1 0h2m1 0h1m1 0h3m1 0h2m1 0h2m2 0h1m3 0h1m-375 1h1m4 0h2m1 0h33m2 0h3m7 0h1m1 0h1m16 0h1m23 0h1m54 0h1m6 0h1m3 0h1m1 0h1m1 0h1m2 0h5m2 0h11m2 0h3m1 0h3m3 0h7m2 0h2m2 0h1m1 0h1m94 0h1m3 0h1m1 0h1m1 0h1m1 0h1m3 0h9m1 0h16m1 0h1m1 0h6m1 0h4m1 0h1m1 0h2m7 0h2m5 0h1m1 0h1m-385 1h1m2 0h1m1 0h2m1 0h27m2 0h2m2 0h2m1 0h3m1 0h1m2 0h1m1 0h1m6 0h1m12 0h1m75 0h1m11 0h3m1 0h1m1 0h13m1 0h2m1 0h5m1 0h2m1 0h6m1 0h7m2 0h3m2 0h2m9 0h1m89 0h2m1 0h1m2 0h4m1 0h12m1 0h2m1 0h11m2 0h1m1 0h3m2 0h1m4 0h1m2 0h1m14 0h1m-383 1h2m1 0h1m1 0h28m1 0h5m1 0h1m4 0h1m2 0h2m12 0h1m6 0h1m23 0h1m53 0h2m3 0h1m1 0h2m4 0h4m1 0h3m2 0h20m1 0h8m1 0h4m1 0h2m1 0h1m1 0h1m4 0h1m3 0h2m9 0h1m72 0h1m1 0h1m3 0h1m1 0h2m1 0h1m1 0h3m1 0h6m1 0h26m1 0h5m2 0h5m3 0h2m-374 1h1m1 0h36m2 0h1m1 0h2m40 0h1m5 0h1m9 0h1m51 0h3m3 0h2m1 0h1m1 0h2m1 0h1m1 0h10m1 0h2m1 0h8m2 0h7m2 0h3m1 0h2m2 0h1m2 0h3m4 0h1m4 0h1m13 0h1m56 0h1m12 0h1m3 0h2m1 0h15m1 0h19m2 0h4m5 0h3m2 0h1m1 0h2m5 0h2m2 0h1m-381 1h1m3 0h32m2 0h6m4 0h1m17 0h1m35 0h1m50 0h4m1 0h1m3 0h5m1 0h12m2 0h7m1 0h10m3 0h3m1 0h2m3 0h1m1 0h1m1 0h1m1 0h1m16 0h2m71 0h1m3 0h3m1 0h4m1 0h13m1 0h18m2 0h1m1 0h1m7 0h3m2 0h4m-375 1h2m3 0h31m1 0h6m6 0h1m18 0h1m87 0h1m1 0h1m3 0h1m1 0h3m1 0h27m1 0h1m1 0h3m1 0h7m4 0h1m5 0h1m21 0h1m57 0h1m8 0h3m2 0h2m2 0h1m1 0h32m1 0h1m2 0h5m1 0h1m8 0h1m2 0h1m8 0h1m1 0h1m-384 1h1m1 0h6m1 0h27m1 0h3m2 0h2m116 0h8m1 0h35m3 0h3m1 0h1m22 0h1m1 0h1m61 0h1m3 0h1m3 0h2m2 0h14m1 0h20m1 0h6m1 0h1m2 0h3m1 0h2m2 0h2m2 0h1m1 0h2m-374 1h1m2 0h4m1 0h28m1 0h5m2 0h2m1 0h1m108 0h1m3 0h2m2 0h21m1 0h9m1 0h1m1 0h2m1 0h4m1 0h2m1 0h2m1 0h3m7 0h1m2 0h2m10 0h1m3 0h1m57 0h2m3 0h3m4 0h1m1 0h8m1 0h18m1 0h4m1 0h5m1 0h1m1 0h5m8 0h1m1 0h1m1 0h1m3 0h1m2 0h2m1 0h1m-386 1h1m6 0h33m1 0h1m1 0h2m1 0h2m4 0h1m38 0h1m65 0h2m1 0h2m1 0h1m1 0h5m2 0h1m1 0h27m1 0h7m1 0h10m4 0h2m2 0h2m4 0h1m14 0h1m50 0h2m3 0h1m3 0h5m1 0h45m1 0h5m1 0h2m1 0h2m2 0h1m3 0h2m-383 1h2m3 0h2m4 0h34m2 0h1m3 0h1m4 0h1m15 0h1m30 0h1m57 0h1m2 0h3m2 0h4m1 0h4m1 0h23m1 0h7m1 0h1m1 0h2m3 0h6m3 0h2m3 0h1m11 0h1m55 0h2m2 0h2m3 0h1m1 0h3m1 0h13m1 0h34m2 0h1m2 0h2m1 0h3m5 0h1m10 0h1m-386 1h1m2 0h3m1 0h37m1 0h1m6 0h1m15 0h1m1 0h1m7 0h1m20 0h1m56 0h2m2 0h4m1 0h36m1 0h7m1 0h3m1 0h7m3 0h1m3 0h1m3 0h1m5 0h1m7 0h2m48 0h2m1 0h2m2 0h2m2 0h2m1 0h8m1 0h40m2 0h2m1 0h1m1 0h3m3 0h1m2 0h1m-372 1h32m1 0h2m1 0h1m5 0h1m12 0h1m9 0h2m25 0h1m61 0h1m1 0h4m1 0h32m1 0h21m2 0h1m6 0h2m5 0h2m1 0h1m25 0h1m34 0h1m1 0h3m1 0h17m1 0h24m2 0h1m4 0h1m2 0h1m6 0h4m2 0h2m-374 1h1m5 0h5m1 0h28m1 0h2m9 0h1m19 0h1m25 0h1m52 0h1m7 0h1m2 0h1m1 0h7m1 0h26m1 0h8m1 0h2m1 0h9m1 0h1m1 0h1m6 0h1m10 0h1m57 0h1m3 0h1m1 0h1m2 0h2m3 0h5m2 0h41m4 0h4m4 0h1m3 0h1m13 0h1m-392 1h1m2 0h1m1 0h3m1 0h28m2 0h1m2 0h2m107 0h1m7 0h3m4 0h1m1 0h11m1 0h17m1 0h17m1 0h2m1 0h8m8 0h2m23 0h1m39 0h2m1 0h4m1 0h16m1 0h26m3 0h2m3 0h2m2 0h1m1 0h1m2 0h2m4 0h1m7 0h1m8 0h1m-394 1h2m1 0h1m4 0h1m1 0h23m1 0h3m1 0h1m2 0h1m1 0h2m7 0h1m35 0h1m73 0h4m1 0h2m1 0h26m1 0h6m1 0h2m1 0h17m1 0h2m3 0h1m1 0h3m4 0h1m1 0h1m62 0h1m2 0h2m2 0h3m1 0h4m1 0h22m1 0h2m1 0h9m1 0h2m6 0h2m2 0h1m2 0h1m13 0h1m6 0h1m-391 1h1m4 0h1m1 0h1m1 0h34m1 0h5m1 0h2m97 0h1m8 0h1m1 0h1m1 0h1m1 0h72m1 0h1m59 0h1m3 0h3m2 0h8m1 0h55m3 0h1m1 0h1m2 0h1m-374 1h4m2 0h10m1 0h18m1 0h1m1 0h5m102 0h1m7 0h1m1 0h1m2 0h1m1 0h1m1 0h36m1 0h32m65 0h1m6 0h2m1 0h17m1 0h11m1 0h9m1 0h11m1 0h6m1 33h1m-8 1h1m1 0h1m4 0h1m-302 1h1m6 0h2m294 0h2m-304 1h1m2 0h1m302 1h1m-323 1h1m180 0h1m141 0h1m-316 1h1m293 0h2m2 0h1m-323 1h1m19 0h1m7 0h1m12 0h1m75 0h1m60 0h1m17 0h1m26 0h1m57 0h1m47 0h2m2 0h2m-379 1h1m59 0h3m4 0h2m2 0h1m253 0h1m39 0h1m13 0h1m-27 1h1m14 0h1m2 0h1m2 0h2m-306 1h1m3 0h3m140 0h2m30 0h1m121 0h1m4 0h1m4 0h2m-305 1h1m2 0h1m152 0h2m8 0h2m83 0h2m37 0h1m3 0h2m4 0h1m2 0h1m-312 1h1m1 0h1m1 0h1m1 0h1m3 0h3m140 0h2m144 0h1m1 0h2m11 0h1m-315 1h2m3 0h1m8 0h1m22 0h1m119 0h1m17 0h1m127 0h2m3 0h1m9 0h1m32 0h1m-365 1h1m11 0h1m2 0h2m2 0h1m10 0h1m90 0h1m12 0h1m40 0h1m84 0h2m46 0h1m2 0h3m1 0h1m6 0h1m5 0h1m-323 1h1m3 0h2m7 0h2m2 0h1m1 0h1m4 0h1m1 0h1m126 0h1m13 0h1m1 0h1m135 0h1m2 0h1m1 0h1m5 0h1m5 0h2m43 0h1m-419 1h1m45 0h1m4 0h1m5 0h1m4 0h4m1 0h2m16 0h1m118 0h1m5 0h2m5 0h1m134 0h1m2 0h3m1 0h2m1 0h2m3 0h2m-322 1h1m5 0h4m1 0h1m2 0h1m1 0h2m5 0h2m86 0h1m56 0h1m2 0h1m10 0h1m9 0h2m111 0h2m2 0h2m1 0h5m6 0h2m-324 1h2m5 0h5m10 0h1m141 0h1m141 0h2m3 0h1m1 0h1m1 0h1m3 0h1m3 0h2m24 0h1m-350 1h1m2 0h1m1 0h1m1 0h3m1 0h1m7 0h1m6 0h1m69 0h1m60 0h1m2 0h4m1 0h1m131 0h1m5 0h1m2 0h1m2 0h2m1 0h1m5 0h1m1 0h2m1 0h1m-317 1h7m4 0h2m2 0h2m6 0h1m15 0h1m14 0h1m97 0h4m2 0h2m90 0h1m49 0h2m1 0h4m2 0h1m2 0h1m1 0h1m-325 1h2m6 0h5m1 0h1m2 0h2m3 0h1m1 0h1m124 0h2m16 0h1m11 0h1m15 0h1m115 0h1m1 0h4m2 0h2m5 0h1m-320 1h1m1 0h2m1 0h1m1 0h1m1 0h4m3 0h1m137 0h1m6 0h1m2 0h2m4 0h1m116 0h1m7 0h1m3 0h3m1 0h8m1 0h1m1 0h1m5 0h1m8 0h1m14 0h1m-350 1h1m6 0h1m5 0h2m1 0h1m5 0h1m4 0h1m92 0h1m39 0h1m5 0h1m23 0h1m24 0h2m65 0h2m16 0h1m4 0h4m1 0h3m1 0h5m-365 1h1m44 0h1m1 0h1m4 0h1m1 0h1m2 0h2m1 0h4m7 0h1m2 0h1m125 0h2m11 0h1m8 0h3m127 0h2m6 0h1m1 0h3m3 0h1m-324 1h1m1 0h2m2 0h6m1 0h1m1 0h1m2 0h5m1 0h2m128 0h3m2 0h3m2 0h2m3 0h2m1 0h1m1 0h1m2 0h1m2 0h1m7 0h1m115 0h1m1 0h5m1 0h3m3 0h2m1 0h4m5 0h1m-330 1h1m4 0h13m4 0h2m2 0h2m13 0h1m78 0h1m42 0h1m2 0h2m2 0h5m2 0h1m3 0h1m5 0h1m116 0h4m1 0h9m3 0h1m7 0h1m35 0h1m-366 1h1m1 0h2m1 0h1m1 0h1m1 0h1m1 0h7m1 0h3m2 0h2m95 0h1m21 0h1m5 0h1m4 0h1m1 0h2m1 0h1m2 0h2m1 0h2m4 0h1m1 0h5m38 0h1m87 0h3m1 0h7m1 0h2m3 0h1m8 0h2m-388 1h1m53 0h1m6 0h2m1 0h1m1 0h6m1 0h1m127 0h1m10 0h1m2 0h9m5 0h3m3 0h1m1 0h1m35 0h1m87 0h1m1 0h1m1 0h4m2 0h1m2 0h1m1 0h2m1 0h1m8 0h1m29 0h1m-419 1h1m53 0h2m2 0h1m2 0h1m2 0h3m1 0h5m1 0h2m1 0h1m130 0h1m3 0h1m2 0h3m1 0h9m1 0h3m9 0h1m121 0h10m1 0h2m2 0h2m9 0h1m31 0h1m-388 1h1m20 0h1m7 0h1m5 0h2m2 0h3m1 0h1m2 0h1m28 0h1m90 0h1m4 0h2m1 0h1m2 0h1m3 0h1m2 0h1m2 0h1m1 0h2m2 0h2m2 0h1m10 0h1m9 0h1m90 0h1m17 0h2m1 0h12m2 0h2m-325 1h1m1 0h1m3 0h2m4 0h2m1 0h2m1 0h1m3 0h1m123 0h1m4 0h2m7 0h6m1 0h1m1 0h2m1 0h3m1 0h1m2 0h1m19 0h1m104 0h1m2 0h2m1 0h3m1 0h1m2 0h1m1 0h2m2 0h3m-328 1h1m2 0h2m1 0h1m1 0h3m5 0h2m2 0h3m1 0h1m2 0h1m126 0h3m2 0h1m1 0h1m1 0h5m3 0h1m1 0h2m1 0h1m1 0h1m130 0h2m2 0h2m1 0h1m1 0h1m4 0h1m4 0h1m-381 1h1m52 0h1m4 0h1m1 0h2m1 0h1m1 0h2m1 0h2m2 0h4m2 0h1m123 0h3m1 0h1m3 0h6m1 0h7m1 0h1m1 0h2m1 0h1m2 0h1m1 0h3m124 0h1m1 0h4m2 0h1m4 0h1m10 0h2m-388 1h1m54 0h2m5 0h2m2 0h2m1 0h1m131 0h1m1 0h2m4 0h1m1 0h5m1 0h8m2 0h2m2 0h1m1 0h4m103 0h1m19 0h1m4 0h4m1 0h2m2 0h1m1 0h1m-320 1h7m3 0h1m1 0h2m1 0h1m1 0h2m85 0h1m29 0h1m16 0h13m2 0h1m2 0h4m110 0h1m18 0h1m2 0h2m2 0h4m4 0h1m1 0h2m3 0h1m3 0h2m38 0h2m-396 1h1m21 0h2m2 0h2m2 0h1m1 0h2m3 0h4m2 0h2m2 0h2m124 0h2m1 0h3m2 0h1m1 0h3m1 0h1m1 0h2m2 0h2m1 0h2m1 0h1m1 0h1m1 0h1m83 0h1m42 0h1m5 0h2m4 0h2m2 0h1m40 0h1m6 0h1m-402 1h2m6 0h1m2 0h1m16 0h3m1 0h2m1 0h1m1 0h1m1 0h3m1 0h1m2 0h1m1 0h1m128 0h1m3 0h2m1 0h8m1 0h1m1 0h1m1 0h2m2 0h1m1 0h3m4 0h2m10 0h1m119 0h3m1 0h1m3 0h2m1 0h1m34 0h1m6 0h1m6 0h1m-375 1h1m4 0h1m3 0h1m1 0h3m1 0h1m1 0h3m124 0h2m2 0h2m1 0h1m3 0h1m1 0h1m1 0h8m1 0h1m1 0h3m3 0h1m1 0h1m1 0h1m3 0h2m124 0h1m2 0h3m2 0h4m1 0h1m3 0h2m14 0h2m-345 1h2m3 0h1m2 0h2m2 0h4m1 0h1m4 0h1m3 0h1m10 0h2m98 0h1m8 0h1m1 0h2m1 0h11m1 0h5m1 0h2m4 0h1m1 0h1m8 0h1m13 0h1m109 0h2m3 0h2m1 0h1m2 0h2m-321 1h1m2 0h4m1 0h6m125 0h1m4 0h4m1 0h1m2 0h14m1 0h6m1 0h6m3 0h1m120 0h2m2 0h1m1 0h1m5 0h1m3 0h2m-324 1h1m1 0h1m4 0h2m2 0h1m3 0h1m3 0h1m42 0h1m76 0h1m5 0h2m4 0h2m2 0h6m1 0h3m1 0h10m3 0h4m6 0h2m84 0h1m30 0h2m6 0h1m6 0h1m14 0h1m-329 1h1m4 0h1m1 0h2m2 0h1m1 0h1m1 0h1m39 0h1m81 0h1m2 0h2m1 0h1m1 0h1m2 0h14m1 0h4m1 0h2m1 0h2m2 0h1m4 0h1m1 0h1m84 0h1m31 0h1m-304 1h1m3 0h3m2 0h1m2 0h1m50 0h1m74 0h1m1 0h1m1 0h1m1 0h4m1 0h2m1 0h1m1 0h13m1 0h3m2 0h2m9 0h1m119 0h1m12 0h1m-320 1h1m1 0h1m8 0h1m8 0h1m89 0h1m12 0h1m19 0h2m2 0h2m3 0h17m1 0h5m1 0h1m2 0h1m127 0h1m1 0h1m1 0h3m2 0h2m2 0h1m4 0h1m8 0h1m25 0h1m-360 1h2m2 0h1m3 0h1m1 0h1m3 0h2m4 0h1m7 0h1m95 0h1m18 0h4m2 0h1m1 0h3m1 0h11m1 0h2m1 0h2m1 0h1m3 0h2m5 0h1m83 0h1m38 0h3m1 0h1m13 0h1m-321 1h1m1 0h1m4 0h2m1 0h2m2 0h1m8 0h1m96 0h1m16 0h2m1 0h3m1 0h1m1 0h18m1 0h4m10 0h1m4 0h1m110 0h2m2 0h3m1 0h1m3 0h1m2 0h1m1 0h1m3 0h1m-347 1h1m11 0h1m13 0h1m5 0h1m5 0h1m1 0h1m9 0h1m108 0h1m10 0h3m3 0h21m1 0h1m2 0h1m4 0h2m119 0h2m1 0h1m1 0h2m2 0h1m2 0h1m1 0h1m4 0h1m38 0h1m-374 1h1m2 0h3m8 0h1m1 0h1m2 0h1m4 0h1m10 0h2m119 0h6m1 0h17m1 0h6m3 0h1m91 0h1m28 0h1m4 0h3m3 0h1m1 0h2m1 0h1m-328 1h1m3 0h3m9 0h1m7 0h1m3 0h1m116 0h2m3 0h1m6 0h1m2 0h23m1 0h2m1 0h1m2 0h3m122 0h1m1 0h1m2 0h1m1 0h1m4 0h1m1 0h1m7 0h1m-337 1h1m1 0h1m1 0h2m8 0h2m6 0h1m4 0h2m119 0h2m4 0h1m2 0h20m1 0h2m1 0h2m1 0h2m4 0h3m26 0h1m89 0h3m2 0h2m2 0h3m3 0h1m4 0h2m-325 1h2m3 0h1m4 0h1m6 0h1m2 0h3m3 0h2m117 0h1m2 0h1m3 0h26m1 0h4m3 0h1m26 0h1m87 0h1m2 0h9m1 0h1m3 0h1m15 0h1m-333 1h2m3 0h1m5 0h1m1 0h1m4 0h1m2 0h1m122 0h1m3 0h6m1 0h22m3 0h1m119 0h1m1 0h3m1 0h6m10 0h3m-320 1h1m4 0h2m3 0h2m21 0h1m9 0h1m17 0h1m49 0h1m27 0h1m2 0h1m1 0h4m2 0h23m2 0h1m4 0h1m112 0h1m5 0h6m2 0h1m5 0h1m4 0h1m1 0h1m12 0h1m-359 1h1m10 0h1m10 0h1m6 0h1m49 0h1m73 0h1m7 0h2m1 0h1m2 0h3m1 0h3m1 0h24m1 0h2m2 0h1m3 0h1m71 0h1m38 0h1m6 0h1m1 0h3m4 0h1m2 0h1m20 0h1m11 0h1m-393 1h1m26 0h2m9 0h1m4 0h3m11 0h1m1 0h1m2 0h1m19 0h1m1 0h2m96 0h2m1 0h2m1 0h7m1 0h3m1 0h10m1 0h5m1 0h1m2 0h2m2 0h1m2 0h1m73 0h1m36 0h1m6 0h2m1 0h2m2 0h1m2 0h1m6 0h1m8 0h1m7 0h1m-380 1h1m22 0h1m19 0h2m3 0h1m2 0h2m29 0h1m98 0h2m2 0h1m1 0h4m3 0h25m2 0h1m1 0h2m114 0h1m9 0h1m3 0h1m1 0h3m4 0h1m4 0h3m1 0h1m-342 1h1m9 0h1m1 0h2m3 0h1m3 0h1m17 0h2m14 0h1m3 0h1m84 0h1m7 0h1m2 0h8m3 0h23m2 0h2m1 0h1m114 0h5m2 0h3m3 0h2m6 0h1m1 0h1m1 0h1m2 0h2m1 0h1m11 0h1m8 0h1m-361 1h2m3 0h1m4 0h2m6 0h1m12 0h2m26 0h1m78 0h1m7 0h2m4 0h1m1 0h1m1 0h4m1 0h5m1 0h13m1 0h6m1 0h1m2 0h4m113 0h1m3 0h1m1 0h1m2 0h1m2 0h2m1 0h2m1 0h1m2 0h1m2 0h1m2 0h2m3 0h1m-345 1h3m9 0h1m3 0h2m3 0h3m3 0h2m122 0h1m8 0h3m1 0h1m1 0h19m1 0h1m3 0h1m6 0h1m33 0h1m80 0h1m3 0h4m2 0h3m3 0h1m2 0h1m-333 1h1m3 0h1m1 0h1m6 0h2m3 0h3m1 0h1m8 0h1m19 0h1m83 0h1m9 0h1m7 0h1m5 0h1m2 0h3m1 0h1m1 0h19m1 0h2m1 0h2m1 0h2m119 0h3m1 0h2m7 0h1m1 0h2m2 0h1m1 0h1m1 0h1m11 0h1m-364 1h1m16 0h1m2 0h2m2 0h2m1 0h1m8 0h1m4 0h1m2 0h1m124 0h2m1 0h1m4 0h21m1 0h4m1 0h1m5 0h1m119 0h1m2 0h5m2 0h1m2 0h1m2 0h1m13 0h1m-360 1h1m20 0h2m1 0h1m2 0h2m1 0h1m4 0h1m3 0h1m1 0h2m1 0h1m117 0h1m2 0h3m4 0h2m3 0h3m1 0h21m1 0h3m2 0h2m2 0h1m111 0h1m5 0h3m1 0h1m2 0h3m2 0h1m1 0h1m13 0h2m-349 1h1m1 0h1m6 0h1m1 0h2m4 0h2m124 0h1m8 0h2m4 0h1m2 0h2m2 0h6m1 0h15m1 0h2m3 0h2m6 0h1m108 0h1m5 0h1m14 0h1m2 0h1m1 0h1m53 0h1m-388 1h1m1 0h1m3 0h1m2 0h2m1 0h1m1 0h4m6 0h1m1 0h1m10 0h1m103 0h1m9 0h1m1 0h3m1 0h3m1 0h7m1 0h5m1 0h1m1 0h4m2 0h1m1 0h7m1 0h1m107 0h2m11 0h1m1 0h1m1 0h2m5 0h1m2 0h1m7 0h1m-351 1h1m3 0h2m8 0h1m1 0h2m1 0h2m2 0h2m1 0h1m1 0h1m10 0h1m124 0h6m2 0h8m1 0h1m1 0h2m1 0h12m1 0h5m5 0h2m92 0h2m13 0h1m6 0h1m5 0h4m1 0h1m2 0h1m9 0h2m5 0h1m-348 1h3m2 0h1m1 0h3m1 0h2m3 0h1m1 0h3m2 0h2m6 0h1m18 0h1m78 0h1m7 0h1m16 0h1m2 0h4m3 0h9m1 0h3m1 0h8m2 0h2m2 0h1m2 0h1m1 0h1m3 0h2m93 0h1m9 0h1m4 0h3m1 0h4m3 0h3m1 0h1m5 0h1m8 0h1m5 0h1m-355 1h2m3 0h5m2 0h4m2 0h3m4 0h1m3 0h1m1 0h2m5 0h3m37 0h1m58 0h1m16 0h1m6 0h1m3 0h3m1 0h13m2 0h1m1 0h11m2 0h3m1 0h3m1 0h3m80 0h1m10 0h2m10 0h3m7 0h2m4 0h3m2 0h1m2 0h1m6 0h1m5 0h1m8 0h1m-353 1h1m1 0h2m5 0h1m2 0h3m3 0h2m2 0h2m3 0h1m3 0h1m2 0h1m107 0h1m5 0h1m4 0h3m2 0h1m1 0h2m1 0h7m1 0h12m1 0h2m1 0h3m3 0h2m1 0h2m9 0h1m87 0h2m7 0h2m1 0h1m6 0h1m2 0h2m2 0h1m2 0h3m5 0h1m10 0h1m-357 1h1m8 0h2m3 0h2m2 0h1m2 0h2m1 0h5m1 0h1m1 0h4m2 0h1m1 0h1m4 0h1m3 0h1m6 0h1m95 0h1m3 0h1m7 0h1m1 0h1m3 0h2m2 0h1m1 0h2m1 0h1m1 0h6m1 0h9m1 0h2m1 0h5m1 0h1m1 0h1m102 0h1m2 0h2m4 0h1m3 0h1m3 0h2m1 0h1m3 0h1m1 0h5m11 0h1m-366 1h1m18 0h4m3 0h1m1 0h2m2 0h2m3 0h3m1 0h1m4 0h1m2 0h2m6 0h1m2 0h1m3 0h2m97 0h1m18 0h1m1 0h4m2 0h7m1 0h6m1 0h9m1 0h4m1 0h3m101 0h1m3 0h2m1 0h3m1 0h3m3 0h1m1 0h2m4 0h3m1 0h1m5 0h1m4 0h1m11 0h1m-357 1h5m3 0h1m1 0h4m3 0h1m1 0h1m1 0h2m1 0h1m12 0h1m103 0h1m11 0h1m8 0h5m1 0h23m1 0h2m1 0h1m2 0h3m1 0h1m4 0h1m75 0h1m13 0h1m10 0h1m2 0h5m1 0h3m1 0h1m1 0h3m1 0h2m3 0h1m8 0h1m22 0h1m-370 1h1m2 0h1m2 0h1m2 0h13m1 0h4m3 0h3m1 0h2m9 0h1m104 0h1m4 0h2m2 0h3m2 0h2m2 0h7m1 0h12m1 0h12m3 0h4m5 0h1m74 0h1m23 0h1m1 0h7m1 0h2m3 0h3m1 0h1m1 0h2m2 0h1m2 0h2m-347 1h1m4 0h1m2 0h1m6 0h8m1 0h1m1 0h5m3 0h2m4 0h1m58 0h1m55 0h1m6 0h2m4 0h6m1 0h2m5 0h4m1 0h15m2 0h2m1 0h1m1 0h1m1 0h3m100 0h1m3 0h2m1 0h4m1 0h17m8 0h1m5 0h1m-358 1h2m3 0h2m4 0h1m1 0h14m1 0h1m3 0h1m5 0h1m7 0h1m53 0h1m56 0h1m4 0h1m1 0h2m1 0h1m3 0h10m1 0h11m1 0h10m1 0h1m2 0h4m98 0h6m3 0h13m1 0h1m4 0h1m2 0h1m6 0h1m2 0h1m15 0h1m-373 1h2m7 0h2m1 0h1m2 0h4m1 0h4m1 0h2m1 0h6m3 0h2m5 0h1m4 0h1m1 0h1m107 0h1m2 0h1m1 0h3m1 0h4m1 0h1m1 0h4m1 0h1m1 0h22m1 0h6m1 0h3m1 0h1m90 0h2m4 0h1m3 0h2m1 0h6m1 0h4m1 0h5m1 0h3m1 0h1m21 0h1m7 0h1m-362 1h1m1 0h6m4 0h2m1 0h4m1 0h2m3 0h1m2 0h1m131 0h2m1 0h1m3 0h3m1 0h10m1 0h3m1 0h7m2 0h2m3 0h2m4 0h1m85 0h2m6 0h1m2 0h2m3 0h12m1 0h6m1 0h3m1 0h1m3 0h3m-344 1h1m3 0h1m1 0h1m2 0h1m1 0h3m2 0h3m2 0h5m1 0h1m2 0h5m3 0h2m11 0h1m102 0h1m1 0h4m2 0h1m2 0h1m2 0h2m2 0h1m1 0h13m1 0h5m1 0h2m1 0h3m1 0h1m2 0h1m1 0h3m1 0h1m94 0h1m6 0h16m1 0h7m4 0h2m2 0h1m24 0h1m21 0h1m3 0h1m-399 1h1m3 0h1m3 0h3m3 0h1m1 0h6m1 0h1m1 0h2m2 0h2m1 0h4m7 0h1m11 0h1m45 0h1m60 0h1m1 0h1m1 0h2m1 0h3m2 0h13m1 0h10m1 0h4m2 0h2m1 0h2m2 0h1m98 0h1m2 0h24m4 0h3m3 0h3m7 0h2m-359 1h2m1 0h1m4 0h1m2 0h6m1 0h4m1 0h4m2 0h1m1 0h4m1 0h1m13 0h1m26 0h1m3 0h1m74 0h1m3 0h2m2 0h1m3 0h10m2 0h1m1 0h9m2 0h2m2 0h4m1 0h6m1 0h2m1 0h1m7 0h1m4 0h1m18 0h1m60 0h1m6 0h4m1 0h17m1 0h3m1 0h2m1 0h3m1 0h1m1 0h1m1 0h1m3 0h1m-357 1h1m2 0h3m1 0h1m3 0h1m2 0h17m1 0h1m3 0h1m2 0h1m4 0h2m14 0h1m2 0h1m19 0h1m72 0h4m5 0h3m2 0h2m2 0h3m1 0h14m2 0h6m1 0h1m1 0h3m1 0h1m1 0h1m1 0h2m2 0h1m12 0h1m17 0h1m59 0h2m2 0h1m4 0h3m1 0h3m1 0h17m3 0h2m7 0h3m1 0h1m3 0h1m1 0h2m3 0h2m1 0h2m-371 1h1m1 0h1m3 0h2m2 0h2m2 0h1m1 0h2m1 0h4m2 0h3m1 0h5m4 0h1m4 0h3m1 0h1m1 0h2m9 0h1m1 0h1m92 0h2m5 0h1m6 0h1m5 0h1m3 0h1m1 0h1m1 0h9m2 0h3m1 0h10m6 0h1m93 0h2m1 0h2m2 0h8m1 0h9m1 0h2m1 0h5m1 0h1m2 0h3m2 0h1m2 0h1m7 0h1m2 0h2m3 0h1m13 0h1m3 0h1m-395 1h1m10 0h1m2 0h5m2 0h4m1 0h6m1 0h4m2 0h2m5 0h1m9 0h3m18 0h1m13 0h2m48 0h1m14 0h1m2 0h3m1 0h2m1 0h1m1 0h1m1 0h1m6 0h5m3 0h12m2 0h1m1 0h5m2 0h2m1 0h1m1 0h2m2 0h1m77 0h1m15 0h2m2 0h2m1 0h1m2 0h1m1 0h1m1 0h12m1 0h14m1 0h4m1 0h1m9 0h2m2 0h1m-373 1h1m8 0h1m2 0h1m1 0h4m2 0h1m1 0h2m1 0h6m4 0h4m2 0h1m2 0h2m2 0h1m2 0h1m6 0h1m39 0h1m64 0h2m6 0h1m1 0h7m1 0h1m1 0h7m1 0h10m1 0h3m1 0h2m1 0h3m1 0h2m1 0h1m1 0h1m8 0h1m66 0h1m19 0h1m1 0h1m1 0h5m1 0h17m1 0h3m2 0h2m1 0h1m1 0h1m1 0h1m1 0h3m5 0h2m2 0h1m7 0h1m-370 1h1m1 0h4m2 0h5m1 0h3m1 0h13m1 0h4m14 0h1m2 0h1m29 0h1m1 0h1m8 0h1m61 0h1m1 0h1m1 0h1m1 0h3m1 0h2m1 0h2m1 0h3m1 0h1m4 0h3m1 0h5m2 0h1m2 0h5m3 0h2m2 0h3m101 0h3m1 0h24m2 0h1m4 0h1m2 0h1m2 0h2m16 0h1m12 0h1m-388 1h1m5 0h2m1 0h2m1 0h1m2 0h4m1 0h12m2 0h1m6 0h1m21 0h1m5 0h1m15 0h1m4 0h1m1 0h1m68 0h1m2 0h4m3 0h1m1 0h5m1 0h5m1 0h11m1 0h2m3 0h7m2 0h2m16 0h2m81 0h1m2 0h1m1 0h8m1 0h15m4 0h1m2 0h2m3 0h1m2 0h2m6 0h1m23 0h1m21 0h1m-411 1h1m1 0h1m1 0h3m5 0h17m6 0h2m5 0h2m4 0h2m14 0h1m4 0h1m83 0h1m10 0h3m1 0h1m2 0h1m1 0h1m2 0h7m1 0h7m2 0h4m1 0h1m1 0h1m1 0h5m2 0h1m2 0h1m2 0h1m89 0h1m5 0h5m1 0h1m1 0h19m1 0h1m1 0h2m7 0h2m4 0h2m6 0h1m1 0h1m13 0h1m11 0h1m1 0h4m-398 1h1m2 0h2m1 0h2m1 0h1m2 0h3m1 0h9m1 0h5m2 0h2m2 0h1m2 0h3m28 0h1m25 0h1m3 0h1m52 0h1m3 0h1m8 0h1m2 0h1m1 0h1m2 0h13m1 0h3m1 0h9m2 0h3m3 0h3m3 0h1m35 0h1m55 0h1m3 0h1m2 0h5m1 0h4m1 0h12m3 0h4m1 0h1m1 0h1m7 0h2m9 0h1m2 0h1m2 0h2m22 0h2m-396 1h1m4 0h1m1 0h10m1 0h6m1 0h3m2 0h1m1 0h2m1 0h1m3 0h2m15 0h1m29 0h2m63 0h1m3 0h1m3 0h1m2 0h1m2 0h1m1 0h3m1 0h3m2 0h2m1 0h9m1 0h4m1 0h2m1 0h4m1 0h4m4 0h2m14 0h1m79 0h1m2 0h2m2 0h9m1 0h4m2 0h8m2 0h4m2 0h2m5 0h1m4 0h2m12 0h1m-377 1h1m6 0h1m1 0h2m1 0h17m1 0h5m3 0h1m6 0h2m7 0h1m13 0h1m17 0h2m17 0h2m46 0h1m13 0h1m3 0h1m1 0h1m2 0h1m2 0h2m1 0h20m1 0h8m2 0h1m3 0h2m10 0h1m1 0h2m78 0h2m3 0h7m1 0h10m1 0h4m1 0h1m1 0h1m1 0h3m2 0h5m2 0h1m6 0h1m1 0h1m8 0h1m-373 1h1m4 0h3m1 0h15m1 0h2m1 0h2m1 0h5m9 0h1m1 0h1m4 0h2m97 0h1m9 0h5m2 0h1m3 0h1m3 0h3m1 0h1m2 0h3m1 0h2m1 0h9m1 0h1m1 0h1m2 0h4m3 0h2m8 0h1m82 0h2m3 0h2m1 0h26m2 0h1m1 0h2m2 0h1m2 0h1m6 0h1m50 0h1m-411 1h3m2 0h1m3 0h3m1 0h10m2 0h9m5 0h2m5 0h1m9 0h1m2 0h1m16 0h1m11 0h1m66 0h2m5 0h1m1 0h1m2 0h2m2 0h1m2 0h2m1 0h1m2 0h4m2 0h15m2 0h1m6 0h1m1 0h6m5 0h2m82 0h1m1 0h7m1 0h7m1 0h5m1 0h10m1 0h5m2 0h1m2 0h1m1 0h1m7 0h2m3 0h1m3 0h1m16 0h2m-390 1h1m3 0h2m1 0h2m1 0h18m1 0h5m7 0h1m9 0h1m36 0h1m66 0h1m6 0h1m1 0h1m1 0h1m4 0h1m1 0h4m1 0h5m1 0h2m1 0h13m1 0h1m1 0h4m5 0h3m91 0h1m4 0h1m1 0h3m1 0h2m1 0h9m1 0h1m1 0h7m1 0h5m1 0h1m3 0h1m1 0h1m1 0h1m2 0h1m2 0h1m7 0h1m11 0h2m-376 1h2m2 0h17m1 0h6m5 0h1m2 0h1m3 0h1m2 0h1m2 0h1m1 0h1m1 0h2m44 0h1m54 0h1m4 0h1m2 0h1m3 0h1m2 0h3m2 0h2m1 0h5m1 0h19m1 0h2m1 0h3m1 0h1m3 0h2m1 0h2m3 0h1m82 0h1m2 0h1m4 0h15m2 0h7m1 0h5m4 0h1m2 0h2m2 0h1m3 0h2m-360 1h2m2 0h3m2 0h24m2 0h1m1 0h2m2 0h1m4 0h1m2 0h2m2 0h1m9 0h1m4 0h1m2 0h1m83 0h1m3 0h1m1 0h1m1 0h3m3 0h1m1 0h1m1 0h1m1 0h2m1 0h3m1 0h23m1 0h1m2 0h3m11 0h1m82 0h1m2 0h21m1 0h1m1 0h8m1 0h1m1 0h1m2 0h2m6 0h1m3 0h2m-365 1h1m1 0h1m1 0h2m1 0h24m1 0h6m2 0h2m31 0h1m4 0h1m7 0h1m70 0h3m1 0h2m1 0h1m1 0h2m2 0h1m1 0h2m2 0h1m1 0h1m1 0h2m2 0h6m2 0h1m1 0h18m1 0h2m4 0h2m86 0h1m3 0h2m1 0h5m1 0h12m1 0h7m1 0h2m1 0h2m1 0h1m4 0h2m1 0h2m7 0h1m1 0h1m25 0h1m11 0h1m-412 1h1m8 0h1m2 0h2m1 0h4m1 0h24m5 0h2m2 0h1m7 0h1m8 0h1m7 0h1m14 0h1m21 0h1m55 0h3m1 0h1m2 0h4m1 0h2m1 0h3m1 0h1m1 0h6m1 0h3m1 0h4m1 0h1m1 0h9m2 0h1m1 0h2m1 0h1m1 0h1m85 0h1m3 0h1m1 0h2m3 0h9m1 0h9m1 0h1m1 0h9m1 0h1m13 0h3m6 0h1m10 0h1m1 0h1m7 0h2m17 0h1m-413 1h1m1 0h4m1 0h2m1 0h1m1 0h16m1 0h3m1 0h3m2 0h1m2 0h1m1 0h4m5 0h1m108 0h1m4 0h6m2 0h1m1 0h1m3 0h1m1 0h5m1 0h8m2 0h1m1 0h11m1 0h1m1 0h1m84 0h1m9 0h1m3 0h3m1 0h10m1 0h16m1 0h1m2 0h1m1 0h1m5 0h1m8 0h3m4 0h2m3 0h1m-375 1h28m7 0h6m3 0h1m1 0h1m21 0h1m4 0h1m6 0h1m65 0h1m11 0h1m6 0h2m3 0h4m1 0h1m3 0h9m1 0h4m2 0h4m2 0h3m1 0h2m5 0h1m2 0h1m80 0h1m5 0h1m2 0h17m1 0h16m1 0h1m1 0h2m5 0h1m1 0h1m2 0h2m1 0h1m13 0h1m3 0h1m12 0h4m-393 1h3m1 0h5m1 0h13m1 0h5m12 0h1m1 0h1m3 0h1m19 0h1m2 0h1m4 0h1m62 0h1m21 0h3m1 0h5m1 0h1m1 0h2m1 0h4m1 0h1m1 0h4m1 0h12m1 0h4m2 0h1m3 0h1m1 0h2m8 0h1m76 0h1m4 0h2m4 0h1m1 0h25m1 0h2m1 0h2m3 0h2m2 0h2m1 0h1m2 0h2m1 0h1m2 0h1m6 0h1m19 0h1m-390 1h3m2 0h27m2 0h2m1 0h2m4 0h1m1 0h1m3 0h1m3 0h1m3 0h1m5 0h1m25 0h1m64 0h2m5 0h6m3 0h2m1 0h3m2 0h5m2 0h12m1 0h3m1 0h3m2 0h1m1 0h1m4 0h1m1 0h1m2 0h1m5 0h1m78 0h4m1 0h31m2 0h1m1 0h1m4 0h2m3 0h2m1 0h3m1 0h1m-361 1h31m2 0h1m6 0h2m4 0h2m9 0h1m4 0h1m12 0h1m1 0h1m16 0h1m48 0h1m9 0h2m4 0h1m1 0h2m1 0h1m4 0h1m5 0h1m1 0h2m2 0h2m1 0h2m3 0h10m2 0h4m1 0h1m1 0h1m5 0h1m87 0h1m2 0h2m3 0h1m1 0h24m3 0h3m6 0h1m2 0h1m4 0h1m4 0h2m8 0h1m9 0h1m-386 1h1m3 0h2m1 0h18m1 0h4m1 0h2m9 0h2m5 0h1m3 0h2m2 0h1m3 0h1m1 0h3m21 0h1m2 0h1m72 0h1m1 0h2m1 0h2m2 0h2m1 0h1m1 0h3m1 0h7m2 0h2m3 0h6m3 0h2m2 0h1m4 0h3m1 0h2m90 0h1m4 0h24m1 0h6m2 0h1m8 0h1m2 0h5m3 0h1m1 0h1m2 0h1m12 0h2m7 0h1m-395 1h1m3 0h31m2 0h2m9 0h1m4 0h1m89 0h1m15 0h2m5 0h1m1 0h2m2 0h2m1 0h4m2 0h1m1 0h9m1 0h10m1 0h1m1 0h1m1 0h3m2 0h1m5 0h1m89 0h1m1 0h2m1 0h2m1 0h11m1 0h12m2 0h1m3 0h1m5 0h2m4 0h1m9 0h2m15 0h1m-385 1h4m2 0h2m1 0h18m1 0h1m1 0h3m1 0h1m2 0h1m6 0h2m97 0h1m14 0h1m8 0h21m1 0h4m1 0h2m2 0h1m1 0h3m2 0h5m3 0h1m1 0h1m11 0h1m65 0h1m12 0h2m1 0h5m1 0h16m1 0h7m1 0h2m1 0h1m1 0h1m3 0h1m5 0h1m4 0h1m9 0h2m5 0h1m32 0h2m-419 1h1m6 0h2m2 0h2m1 0h18m1 0h3m3 0h1m1 0h1m2 0h1m1 0h2m4 0h1m110 0h1m1 0h2m5 0h4m1 0h1m1 0h3m1 0h1m2 0h4m1 0h1m1 0h1m1 0h1m1 0h2m1 0h3m1 0h1m1 0h5m2 0h1m2 0h2m1 0h1m1 0h1m13 0h1m65 0h1m8 0h1m2 0h1m3 0h1m1 0h29m7 0h2m5 0h1m5 0h1m4 0h1m1 0h2m1 0h1m24 0h1m-394 1h3m1 0h23m3 0h1m4 0h1m1 0h3m2 0h1m2 0h1m4 0h1m102 0h1m4 0h3m2 0h2m2 0h3m1 0h1m2 0h7m1 0h2m2 0h2m1 0h4m1 0h3m2 0h3m6 0h1m3 0h1m77 0h2m8 0h1m4 0h2m1 0h5m1 0h24m2 0h2m1 0h1m2 0h1m4 0h2m11 0h1m3 0h1m13 0h1m8 0h1m1 0h1m-399 1h1m2 0h5m1 0h3m1 0h13m1 0h4m1 0h4m4 0h1m5 0h3m4 0h2m1 0h1m36 0h1m67 0h1m1 0h1m4 0h2m1 0h8m1 0h5m1 0h4m1 0h6m1 0h5m1 0h3m1 0h1m1 0h1m8 0h1m77 0h1m7 0h2m1 0h1m1 0h17m1 0h9m1 0h5m2 0h1m4 0h1m1 0h1m4 0h1m10 0h1m36 0h1m-406 1h1m3 0h2m1 0h25m1 0h3m10 0h2m5 0h2m7 0h1m19 0h1m15 0h1m65 0h1m1 0h3m2 0h1m3 0h8m1 0h1m2 0h3m1 0h1m1 0h2m1 0h6m1 0h5m2 0h1m1 0h2m2 0h1m75 0h2m6 0h1m1 0h1m3 0h1m1 0h3m1 0h20m1 0h3m1 0h1m2 0h4m3 0h2m1 0h1m5 0h1m4 0h2m2 0h1m3 0h1m3 0h1m32 0h1m-404 1h1m1 0h19m1 0h1m1 0h6m10 0h1m7 0h1m4 0h1m26 0h1m14 0h1m42 0h1m23 0h3m1 0h6m2 0h3m1 0h4m1 0h2m1 0h3m1 0h4m1 0h2m1 0h1m2 0h7m2 0h1m1 0h3m6 0h2m20 0h1m52 0h2m2 0h2m1 0h4m4 0h22m1 0h3m4 0h1m3 0h1m6 0h1m6 0h1m2 0h1m9 0h2m3 0h1m22 0h1m10 0h1m-414 1h1m2 0h1m1 0h17m1 0h8m1 0h1m10 0h3m1 0h2m1 0h1m4 0h1m4 0h2m16 0h1m85 0h1m1 0h5m1 0h2m1 0h3m1 0h17m3 0h6m1 0h1m2 0h1m3 0h1m1 0h1m2 0h1m11 0h1m15 0h1m47 0h1m8 0h3m2 0h1m2 0h2m1 0h5m1 0h10m1 0h3m2 0h4m10 0h1m3 0h1m9 0h2m1 0h1m-367 1h32m12 0h2m4 0h1m1 0h1m19 0h1m13 0h2m70 0h1m4 0h2m1 0h4m2 0h1m1 0h3m1 0h1m3 0h5m2 0h2m1 0h8m1 0h3m1 0h2m6 0h1m16 0h1m66 0h2m6 0h5m1 0h27m3 0h1m6 0h3m8 0h1m13 0h1m8 0h1m27 0h1m-410 1h2m1 0h16m2 0h8m2 0h1m11 0h3m8 0h1m7 0h1m39 0h1m50 0h1m4 0h2m3 0h1m4 0h2m1 0h3m1 0h1m5 0h6m1 0h2m1 0h1m2 0h8m1 0h2m2 0h1m23 0h1m65 0h1m5 0h3m1 0h1m1 0h25m1 0h1m5 0h1m3 0h1m1 0h2m1 0h1m2 0h1m1 0h1m37 0h1m-396 1h1m1 0h26m2 0h2m2 0h1m5 0h3m3 0h1m1 0h1m7 0h1m2 0h1m21 0h1m3 0h1m20 0h1m40 0h2m6 0h1m1 0h3m5 0h1m1 0h2m1 0h2m1 0h5m1 0h16m1 0h2m1 0h5m2 0h4m1 0h1m3 0h1m3 0h2m2 0h2m76 0h2m3 0h3m1 0h6m1 0h16m1 0h4m14 0h1m3 0h3m5 0h1m1 0h1m2 0h1m25 0h1m3 0h1m-400 1h23m1 0h1m1 0h4m13 0h1m3 0h2m3 0h1m27 0h1m4 0h1m20 0h1m51 0h1m4 0h1m3 0h2m2 0h6m2 0h18m1 0h1m2 0h2m1 0h6m7 0h2m1 0h1m23 0h1m51 0h2m5 0h1m2 0h1m1 0h1m2 0h4m1 0h1m1 0h6m1 0h7m1 0h2m2 0h3m9 0h1m7 0h1m1 0h1m1 0h1m1 0h1m3 0h1m5 0h1m17 0h1m8 0h1m11 0h1m1 0h1m-415 1h5m1 0h19m2 0h2m4 0h1m10 0h1m7 0h1m12 0h1m37 0h1m56 0h1m1 0h4m4 0h1m1 0h3m4 0h3m2 0h2m1 0h6m2 0h11m2 0h2m1 0h2m5 0h1m83 0h1m3 0h1m1 0h5m1 0h4m2 0h7m1 0h4m3 0h1m1 0h1m3 0h1m7 0h1m8 0h1m4 0h2m8 0h1m17 0h1m21 0h1m-414 1h27m1 0h2m12 0h3m5 0h2m1 0h1m8 0h1m42 0h1m35 0h1m14 0h1m4 0h1m1 0h5m2 0h3m1 0h2m1 0h3m1 0h6m1 0h1m1 0h18m2 0h2m89 0h7m1 0h13m2 0h13m2 0h1m2 0h1m17 0h1m16 0h1m-376 1h2m1 0h6m1 0h12m2 0h1m5 0h1m10 0h1m2 0h1m9 0h1m6 0h2m11 0h1m4 0h1m24 0h1m34 0h1m14 0h2m3 0h1m2 0h1m2 0h1m7 0h2m1 0h3m1 0h1m1 0h1m1 0h2m1 0h3m1 0h2m3 0h4m1 0h2m1 0h1m4 0h1m1 0h1m1 0h2m1 0h1m82 0h3m2 0h1m2 0h14m1 0h9m1 0h2m3 0h1m17 0h1m2 0h1m2 0h1m1 0h1m28 0h1m-391 1h5m2 0h9m1 0h5m1 0h1m3 0h1m8 0h1m1 0h1m1 0h2m1 0h2m1 0h2m5 0h1m26 0h1m22 0h1m36 0h1m11 0h2m3 0h4m3 0h1m2 0h1m2 0h1m1 0h1m2 0h5m1 0h6m2 0h5m3 0h1m1 0h1m2 0h2m3 0h1m10 0h1m71 0h1m2 0h2m1 0h2m1 0h1m3 0h1m1 0h7m2 0h5m1 0h1m1 0h8m5 0h1m17 0h1m5 0h1m2 0h1m1 0h1m1 0h1m23 0h1m-396 1h1m3 0h10m3 0h9m3 0h1m2 0h2m7 0h1m2 0h1m1 0h1m2 0h2m2 0h1m32 0h2m70 0h1m8 0h2m1 0h8m2 0h2m1 0h4m1 0h1m1 0h1m4 0h2m2 0h2m2 0h2m2 0h1m4 0h1m4 0h2m4 0h1m75 0h2m2 0h1m4 0h1m1 0h6m1 0h16m1 0h2m1 0h1m24 0h1m2 0h1m3 0h1m-370 1h2m1 0h2m1 0h11m1 0h3m1 0h4m1 0h1m1 0h1m1 0h2m9 0h1m7 0h1m18 0h1m13 0h1m75 0h1m3 0h1m2 0h3m2 0h1m2 0h2m2 0h4m2 0h4m2 0h1m1 0h1m1 0h3m2 0h3m1 0h5m1 0h1m2 0h1m4 0h2m80 0h3m6 0h2m1 0h1m3 0h8m2 0h3m1 0h2m1 0h5m4 0h1m4 0h1m8 0h2m8 0h1m32 0h1m9 0h1m-407 1h1m1 0h3m1 0h5m1 0h9m1 0h1m2 0h1m5 0h1m70 0h1m43 0h1m5 0h1m9 0h1m1 0h1m1 0h1m2 0h2m4 0h2m1 0h3m2 0h1m1 0h1m2 0h4m1 0h5m1 0h7m4 0h1m3 0h2m1 0h1m81 0h2m5 0h2m1 0h2m1 0h1m2 0h4m1 0h3m1 0h1m2 0h3m1 0h2m5 0h1m16 0h1m1 0h1m4 0h1m17 0h1m-381 1h1m2 0h3m1 0h2m1 0h12m2 0h1m1 0h2m11 0h1m20 0h1m24 0h2m76 0h1m2 0h1m1 0h1m5 0h2m2 0h1m1 0h3m2 0h1m1 0h3m1 0h1m2 0h3m1 0h1m1 0h4m3 0h1m2 0h2m4 0h2m4 0h1m71 0h1m10 0h2m2 0h3m1 0h14m1 0h1m1 0h1m1 0h1m5 0h1m13 0h1m50 0h1m-405 1h3m1 0h5m1 0h6m1 0h3m1 0h2m4 0h1m12 0h1m2 0h1m38 0h1m4 0h3m76 0h4m2 0h2m1 0h2m4 0h4m1 0h1m1 0h1m2 0h11m1 0h2m4 0h2m1 0h3m9 0h1m78 0h1m1 0h1m1 0h3m2 0h1m1 0h7m2 0h1m1 0h2m2 0h1m1 0h1m1 0h2m7 0h1m16 0h1m3 0h2m6 0h1m7 0h1m4 0h1m13 0h1m5 0h1m1 0h1m-406 1h2m1 0h1m2 0h1m2 0h5m2 0h2m1 0h3m1 0h2m2 0h1m14 0h1m4 0h1m1 0h1m4 0h1m26 0h1m4 0h1m5 0h1m69 0h1m4 0h3m1 0h2m1 0h1m1 0h1m4 0h4m1 0h2m2 0h2m1 0h9m1 0h2m2 0h3m3 0h4m77 0h1m2 0h2m4 0h4m5 0h1m1 0h1m6 0h2m2 0h1m1 0h2m13 0h1m5 0h1m9 0h1m20 0h1m15 0h2m8 0h1m5 0h2m-428 1h1m14 0h1m1 0h1m1 0h2m1 0h4m1 0h2m1 0h1m2 0h4m3 0h1m12 0h1m5 0h1m2 0h1m3 0h1m1 0h1m38 0h1m67 0h1m5 0h3m2 0h1m2 0h2m1 0h1m2 0h1m1 0h4m1 0h3m1 0h6m1 0h2m1 0h6m1 0h2m2 0h3m1 0h2m72 0h1m12 0h1m1 0h1m2 0h2m2 0h2m1 0h1m2 0h3m1 0h1m1 0h3m1 0h4m17 0h1m-351 1h1m5 0h16m3 0h1m17 0h1m4 0h2m2 0h2m41 0h1m71 0h3m2 0h1m1 0h5m1 0h2m2 0h6m1 0h8m1 0h1m1 0h4m1 0h2m1 0h1m1 0h1m1 0h1m1 0h1m75 0h1m3 0h1m1 0h1m2 0h2m5 0h1m1 0h2m6 0h1m1 0h2m2 0h3m2 0h4m3 0h1m34 0h1m2 0h1m4 0h2m12 0h1m-395 1h1m4 0h1m4 0h3m1 0h5m1 0h1m2 0h1m1 0h1m15 0h1m3 0h1m4 0h1m25 0h1m17 0h1m11 0h1m53 0h1m2 0h1m16 0h9m1 0h1m1 0h3m1 0h1m3 0h3m1 0h3m1 0h2m3 0h2m90 0h2m5 0h1m4 0h1m1 0h1m2 0h6m2 0h1m1 0h1m30 0h1m6 0h2m3 0h1m-376 1h1m2 0h7m1 0h3m1 0h2m8 0h2m10 0h1m37 0h1m10 0h1m11 0h1m73 0h1m3 0h1m2 0h1m1 0h2m2 0h19m5 0h2m2 0h1m1 0h2m72 0h1m2 0h2m12 0h1m9 0h5m2 0h2m1 0h2m2 0h1m1 0h1m6 0h1m8 0h1m5 0h1m9 0h1m39 0h1m-404 1h1m4 0h1m1 0h1m1 0h4m4 0h2m1 0h1m9 0h1m12 0h2m27 0h1m89 0h2m2 0h1m5 0h1m2 0h1m3 0h1m2 0h1m1 0h5m1 0h1m1 0h10m3 0h3m1 0h2m2 0h1m23 0h2m52 0h1m3 0h2m5 0h1m2 0h2m1 0h2m1 0h2m14 0h2m7 0h1m6 0h1m10 0h1m-354 1h2m1 0h1m2 0h1m3 0h1m1 0h1m3 0h1m2 0h1m10 0h1m8 0h1m120 0h2m1 0h1m4 0h3m2 0h1m1 0h1m1 0h1m1 0h2m3 0h1m1 0h6m1 0h2m2 0h1m1 0h6m3 0h2m80 0h1m4 0h1m12 0h1m7 0h1m3 0h1m6 0h1m-323 1h2m1 0h4m10 0h2m139 0h1m5 0h1m3 0h1m6 0h1m3 0h1m3 0h1m3 0h1m1 0h1m-166 96h1m325 3h1m-1 1h1m-319 1h1m1 0h1m128 0h1m10 0h1m-142 1h1m151 0h1m-146 1h1m47 0h1m97 0h1m165 0h1m-180 1h1m138 0h1m19 0h1m13 0h1m33 0h1m-397 1h1m38 0h2m11 0h1m110 0h1m56 0h1m2 0h1m3 0h2m100 0h1m32 0h1m-199 1h1m49 0h1m135 0h1m9 0h1m-142 1h2m2 0h1m2 0h1m114 0h1m-287 1h1m13 0h1m110 0h1m42 0h1m-159 1h1m7 0h1m291 0h1m18 0h2m-345 1h1m16 0h1m7 0h1m7 0h1m126 0h1m1 0h1m21 0h1m114 0h1m18 0h1m6 0h1m-322 1h2m1 0h1m14 0h1m140 0h1m107 0h1m-250 1h1m288 0h1m7 0h1m5 0h1m14 0h1m-180 1h1m16 0h1m2 0h1m1 0h2m127 0h1m10 0h2m1 0h1m3 0h1m2 0h1m7 0h1m18 0h1m-349 1h2m143 0h1m15 0h1m8 0h1m2 0h1m117 0h1m6 0h1m2 0h2m6 0h1m2 0h2m5 0h1m5 0h1m23 0h1m-353 1h2m5 0h1m4 0h1m136 0h1m9 0h1m8 0h2m11 0h2m122 0h2m1 0h2m2 0h1m3 0h2m11 0h1m-329 1h1m1 0h2m3 0h1m2 0h1m4 0h1m3 0h1m134 0h1m2 0h2m13 0h3m118 0h1m1 0h2m2 0h1m10 0h1m9 0h3m2 0h2m-376 1h1m40 0h1m2 0h1m7 0h1m11 0h1m102 0h1m44 0h1m2 0h1m4 0h1m6 0h1m119 0h1m3 0h1m1 0h1m3 0h3m1 0h1m2 0h1m6 0h1m2 0h1m-334 1h1m11 0h1m113 0h1m33 0h1m5 0h2m2 0h2m6 0h1m3 0h1m3 0h2m5 0h1m112 0h1m4 0h1m1 0h1m1 0h1m5 0h1m6 0h5m-324 1h1m19 0h1m5 0h1m124 0h3m11 0h3m6 0h1m1 0h1m15 0h1m12 0h1m99 0h1m16 0h1m1 0h1m3 0h2m4 0h2m-336 1h1m25 0h1m128 0h1m6 0h1m4 0h2m9 0h1m131 0h1m18 0h2m5 0h2m-337 1h2m6 0h1m3 0h1m141 0h1m2 0h2m2 0h1m5 0h1m2 0h1m7 0h1m110 0h1m2 0h2m11 0h1m1 0h1m6 0h1m1 0h1m3 0h1m1 0h1m14 0h1m2 0h1m-361 1h1m20 0h1m6 0h1m7 0h1m123 0h1m11 0h1m11 0h1m3 0h1m2 0h4m2 0h1m1 0h2m119 0h1m4 0h1m1 0h1m1 0h4m2 0h2m6 0h1m2 0h1m-346 1h3m16 0h1m1 0h1m151 0h2m3 0h1m1 0h1m2 0h1m12 0h1m100 0h2m12 0h2m6 0h2m1 0h2m1 0h2m5 0h1m1 0h1m10 0h1m2 0h3m-350 1h1m18 0h1m7 0h1m19 0h1m126 0h2m2 0h2m21 0h1m114 0h1m2 0h3m1 0h1m7 0h1m3 0h1m2 0h1m8 0h2m-353 1h1m17 0h1m5 0h1m7 0h1m3 0h1m14 0h1m119 0h1m28 0h1m5 0h1m73 0h1m40 0h1m2 0h2m2 0h1m7 0h1m1 0h1m1 0h1m1 0h1m-329 1h1m4 0h1m1 0h2m3 0h1m145 0h1m2 0h1m7 0h1m4 0h1m5 0h1m8 0h1m112 0h1m8 0h1m2 0h2m1 0h1m4 0h1m3 0h1m1 0h1m-352 1h1m29 0h1m5 0h2m129 0h1m13 0h2m15 0h1m6 0h2m131 0h1m1 0h3m3 0h1m1 0h1m2 0h3m-362 1h1m37 0h1m14 0h1m23 0h1m78 0h1m18 0h1m20 0h4m14 0h2m1 0h2m101 0h1m28 0h1m3 0h2m1 0h1m-346 1h1m4 0h1m4 0h1m17 0h1m2 0h1m35 0h1m115 0h1m10 0h1m4 0h1m4 0h1m120 0h2m3 0h1m11 0h1m4 0h2m-349 1h1m12 0h1m9 0h1m10 0h1m148 0h1m2 0h1m7 0h1m129 0h1m4 0h3m2 0h1m12 0h1m26 0h1m-390 1h1m2 0h1m19 0h1m3 0h1m1 0h1m5 0h2m1 0h3m10 0h1m110 0h1m16 0h2m13 0h2m14 0h1m33 0h1m109 0h2m1 0h2m3 0h1m-340 1h1m3 0h3m25 0h1m146 0h1m130 0h1m21 0h1m-343 1h1m161 0h1m1 0h1m15 0h3m1 0h2m3 0h11m1 0h1m2 0h1m1 0h2m22 0h1m65 0h2m19 0h1m15 0h3m4 0h1m1 0h2m4 0h1m2 0h1m1 0h4m6 0h1m-383 1h2m13 0h1m4 0h1m7 0h1m4 0h1m165 0h2m3 0h15m2 0h2m2 0h1m1 0h1m1 0h1m20 0h1m7 0h2m80 0h1m1 0h1m4 0h1m2 0h5m1 0h3m1 0h3m1 0h5m3 0h1m9 0h2m-368 1h1m6 0h2m3 0h1m58 0h1m103 0h1m7 0h19m1 0h1m1 0h1m1 0h2m8 0h2m106 0h2m2 0h1m1 0h2m1 0h14m1 0h1m1 0h1m3 0h1m1 0h1m-351 1h2m13 0h3m5 0h1m2 0h1m5 0h2m135 0h1m3 0h1m2 0h3m2 0h18m1 0h3m1 0h1m111 0h1m8 0h1m1 0h17m2 0h1m1 0h1m2 0h1m4 0h2m1 0h1m-373 1h2m14 0h2m6 0h1m3 0h1m6 0h1m4 0h1m143 0h1m2 0h2m2 0h21m1 0h3m14 0h1m99 0h1m1 0h1m4 0h1m2 0h3m1 0h1m1 0h4m1 0h11m1 0h1m-337 1h4m2 0h1m4 0h3m47 0h1m4 0h1m84 0h1m5 0h1m3 0h2m1 0h4m1 0h12m1 0h2m12 0h1m101 0h1m5 0h1m1 0h1m2 0h6m2 0h9m1 0h2m1 0h5m1 0h2m3 0h1m-362 1h1m11 0h1m1 0h1m9 0h4m1 0h2m51 0h1m85 0h1m3 0h1m5 0h2m1 0h18m1 0h3m1 0h2m1 0h1m8 0h1m101 0h2m2 0h1m3 0h3m1 0h2m1 0h11m1 0h3m2 0h2m2 0h1m5 0h2m10 0h1m-387 1h2m11 0h1m1 0h1m1 0h1m3 0h1m4 0h1m2 0h2m8 0h1m1 0h3m1 0h3m3 0h1m131 0h2m1 0h2m1 0h24m1 0h6m1 0h2m1 0h1m79 0h1m10 0h1m22 0h7m1 0h19m2 0h1m1 0h2m3 0h1m2 0h1m9 0h1m-378 1h2m6 0h1m5 0h1m3 0h2m3 0h2m2 0h1m2 0h1m2 0h3m1 0h3m112 0h1m19 0h1m1 0h1m1 0h1m1 0h33m83 0h1m32 0h1m2 0h1m1 0h3m2 0h21m2 0h7m-366 1h1m1 0h1m1 0h2m7 0h1m4 0h1m4 0h2m2 0h1m1 0h2m1 0h3m1 0h3m113 0h1m5 0h1m10 0h2m4 0h36m3 0h2m107 0h2m1 0h1m2 0h1m1 0h5m2 0h12m1 0h6m3 0h3m1 0h1m-373 1h1m12 0h2m2 0h2m1 0h1m1 0h2m2 0h1m6 0h3m1 0h8m1 0h4m38 0h2m76 0h1m1 0h1m11 0h4m1 0h1m1 0h31m1 0h1m2 0h1m105 0h1m6 0h3m1 0h3m1 0h25m1 0h3m1 0h1m2 0h1m-373 1h1m2 0h4m2 0h2m2 0h4m2 0h5m3 0h1m1 0h12m1 0h1m2 0h1m125 0h1m1 0h1m2 0h1m1 0h5m1 0h25m1 0h2m1 0h2m107 0h1m3 0h2m2 0h1m1 0h1m2 0h1m1 0h4m1 0h22m1 0h2m1 0h1m-375 1h2m5 0h1m1 0h2m2 0h2m1 0h1m3 0h1m1 0h1m4 0h1m1 0h2m1 0h1m1 0h2m1 0h8m1 0h2m4 0h1m36 0h1m70 0h1m14 0h1m1 0h2m2 0h4m1 0h17m1 0h15m2 0h2m96 0h1m9 0h1m4 0h1m2 0h5m1 0h29m4 0h2m3 0h1m-386 1h2m10 0h3m4 0h1m3 0h2m2 0h1m1 0h5m1 0h3m1 0h6m1 0h4m1 0h2m126 0h2m1 0h1m3 0h34m1 0h1m1 0h1m1 0h2m1 0h2m93 0h1m14 0h1m1 0h4m1 0h12m1 0h6m1 0h7m1 0h3m1 0h3m1 0h1m-384 1h1m4 0h1m9 0h3m1 0h1m3 0h3m1 0h1m1 0h3m2 0h4m1 0h2m1 0h8m1 0h4m127 0h1m1 0h2m3 0h3m1 0h2m1 0h3m1 0h22m1 0h7m1 0h1m20 0h1m88 0h1m2 0h1m2 0h20m1 0h1m1 0h6m1 0h2m1 0h1m1 0h1m-372 1h1m3 0h3m2 0h1m2 0h4m2 0h4m1 0h2m2 0h1m3 0h9m2 0h2m121 0h1m4 0h1m3 0h2m1 0h1m1 0h10m1 0h20m1 0h5m1 0h2m1 0h1m2 0h1m101 0h1m2 0h1m1 0h1m2 0h1m1 0h3m2 0h24m1 0h1m1 0h2m7 0h2m-383 1h2m2 0h1m5 0h3m2 0h1m1 0h2m1 0h5m1 0h1m2 0h1m2 0h1m1 0h4m1 0h5m1 0h4m122 0h1m4 0h2m5 0h3m1 0h3m1 0h30m2 0h1m2 0h1m2 0h1m104 0h1m3 0h4m3 0h24m4 0h2m4 0h1m-382 1h2m4 0h2m1 0h3m3 0h1m2 0h5m1 0h4m3 0h15m1 0h1m2 0h2m118 0h1m7 0h4m1 0h1m3 0h39m2 0h2m72 0h1m34 0h2m1 0h31m3 0h1m2 0h2m-386 1h2m12 0h2m3 0h1m3 0h2m3 0h6m1 0h5m1 0h6m1 0h2m2 0h4m3 0h2m122 0h4m1 0h6m1 0h1m1 0h1m1 0h32m5 0h1m2 0h2m105 0h2m2 0h4m1 0h16m1 0h2m1 0h8m5 0h1m-376 1h1m2 0h1m5 0h2m1 0h1m1 0h1m2 0h3m3 0h1m1 0h9m1 0h1m1 0h3m1 0h2m6 0h1m118 0h3m1 0h1m1 0h9m1 0h3m1 0h1m1 0h21m1 0h8m110 0h1m5 0h1m1 0h5m2 0h2m2 0h4m1 0h13m1 0h4m-371 1h1m4 0h2m1 0h1m1 0h3m1 0h1m1 0h2m1 0h13m1 0h3m1 0h1m1 0h1m1 0h1m1 0h1m4 0h1m115 0h1m2 0h1m2 0h3m1 0h1m2 0h7m1 0h28m4 0h3m12 0h1m99 0h1m1 0h3m1 0h1m1 0h23m4 0h1m2 0h1m-373 1h1m8 0h1m1 0h1m1 0h1m4 0h3m1 0h7m1 0h7m3 0h2m3 0h1m110 0h2m5 0h1m2 0h1m4 0h8m1 0h6m1 0h27m1 0h1m4 0h2m102 0h1m11 0h1m1 0h7m1 0h20m1 0h1m1 0h1m2 0h1m-388 1h1m15 0h2m6 0h2m1 0h2m1 0h6m1 0h10m1 0h5m1 0h1m1 0h1m1 0h2m119 0h1m1 0h1m3 0h16m2 0h30m1 0h1m1 0h1m102 0h1m2 0h2m1 0h3m1 0h1m1 0h2m1 0h28m1 0h1m6 0h2m-375 1h1m4 0h4m1 0h1m2 0h7m2 0h11m1 0h4m1 0h1m1 0h1m2 0h1m113 0h1m9 0h17m2 0h29m1 0h1m1 0h1m4 0h1m80 0h2m20 0h1m1 0h5m1 0h1m2 0h27m1 0h1m5 0h2m13 0h1m-400 1h1m6 0h1m4 0h2m3 0h2m2 0h3m1 0h2m2 0h3m1 0h9m1 0h1m4 0h1m2 0h1m118 0h1m5 0h1m2 0h13m1 0h5m2 0h7m1 0h16m1 0h2m1 0h2m2 0h1m107 0h1m2 0h4m2 0h23m4 0h2m-368 1h2m1 0h1m3 0h1m1 0h4m1 0h2m1 0h13m1 0h4m3 0h1m7 0h1m107 0h1m10 0h2m2 0h2m1 0h11m2 0h28m1 0h1m1 0h2m1 0h2m102 0h1m1 0h1m1 0h1m2 0h2m3 0h2m1 0h26m1 0h5m2 0h1m-373 1h1m4 0h1m4 0h6m1 0h19m10 0h1m116 0h1m2 0h4m2 0h12m1 0h11m1 0h23m3 0h1m78 0h2m11 0h3m4 0h5m1 0h1m1 0h2m3 0h2m1 0h24m1 0h3m1 0h3m2 0h2m3 0h1m-381 1h1m2 0h2m2 0h1m3 0h2m3 0h4m1 0h8m1 0h5m1 0h1m126 0h1m3 0h1m2 0h5m1 0h11m1 0h4m2 0h3m1 0h20m1 0h4m1 0h2m10 0h1m78 0h1m1 0h2m1 0h3m4 0h1m1 0h1m1 0h7m1 0h31m1 0h1m2 0h2m2 0h2m-375 1h1m1 0h7m1 0h19m1 0h4m1 0h1m1 0h1m7 0h2m112 0h2m4 0h21m1 0h23m1 0h1m1 0h6m91 0h2m5 0h1m1 0h1m2 0h3m1 0h1m1 0h1m10 0h1m1 0h26m1 0h1m1 0h1m3 0h1m-379 1h1m1 0h3m3 0h9m1 0h16m2 0h1m2 0h1m1 0h1m119 0h1m3 0h4m1 0h16m1 0h5m2 0h20m1 0h8m6 0h1m68 0h1m16 0h1m5 0h1m1 0h3m2 0h5m3 0h1m1 0h32m2 0h1m-374 1h2m3 0h3m1 0h23m1 0h2m1 0h3m15 0h1m110 0h1m2 0h2m1 0h8m1 0h6m1 0h3m1 0h3m2 0h9m1 0h14m2 0h1m1 0h5m70 0h1m12 0h1m3 0h2m3 0h2m1 0h3m3 0h7m1 0h1m1 0h26m1 0h5m1 0h1m-378 1h1m3 0h2m1 0h1m1 0h1m1 0h2m1 0h30m2 0h2m1 0h1m2 0h1m117 0h52m1 0h2m1 0h2m1 0h1m82 0h1m3 0h3m3 0h2m1 0h4m1 0h10m1 0h27m1 0h6m2 0h1m-389 1h1m11 0h1m5 0h1m2 0h2m1 0h3m1 0h24m1 0h3m122 0h1m3 0h28m2 0h19m1 0h2m1 0h1m1 0h3m84 0h6m1 0h3m1 0h1m1 0h10m2 0h4m1 0h2m1 0h22m1 0h1m1 0h5m8 0h1m-386 1h1m1 0h1m5 0h2m1 0h13m1 0h20m6 0h1m2 0h1m15 0h2m91 0h1m6 0h1m1 0h22m1 0h2m1 0h6m1 0h22m1 0h2m5 0h1m68 0h1m9 0h3m1 0h3m1 0h3m1 0h11m2 0h2m1 0h2m1 0h2m1 0h3m2 0h18m2 0h2m1 0h2m4 0h2m1 0h1m1 0h1m-385 1h1m3 0h4m1 0h31m1 0h4m4 0h1m113 0h4m1 0h55m6 0h1m76 0h2m2 0h2m2 0h14m2 0h11m1 0h2m1 0h2m1 0h4m1 0h18m1 0h3m4 0h1m2 0h1m12 0h1m-403 1h4m2 0h1m7 0h21m1 0h7m1 0h1m1 0h2m1 0h1m5 0h1m2 0h1m9 0h1m102 0h62m2 0h1m7 0h1m67 0h2m1 0h2m1 0h1m2 0h4m1 0h11m1 0h5m1 0h6m1 0h11m1 0h8m1 0h3m2 0h1m2 0h1m1 0h1m4 0h1m16 0h1m-403 1h2m3 0h5m1 0h4m1 0h4m1 0h8m1 0h2m1 0h11m4 0h1m1 0h1m6 0h2m1 0h3m108 0h1m1 0h21m1 0h14m1 0h4m1 0h2m1 0h12m1 0h1m1 0h1m76 0h1m2 0h3m1 0h1m1 0h1m1 0h17m1 0h9m1 0h1m1 0h3m1 0h14m1 0h1m2 0h1m1 0h1m3 0h1m5 0h1m6 0h1m-396 1h1m4 0h3m2 0h1m1 0h20m1 0h15m1 0h5m2 0h1m1 0h1m2 0h1m2 0h2m106 0h1m1 0h31m1 0h24m2 0h1m82 0h6m1 0h1m1 0h2m1 0h28m1 0h18m1 0h4m6 0h1m10 0h1m-396 1h1m1 0h1m2 0h1m1 0h14m1 0h13m1 0h4m1 0h4m1 0h2m3 0h1m3 0h1m1 0h1m2 0h2m1 0h2m106 0h2m1 0h35m1 0h21m76 0h1m3 0h2m1 0h3m1 0h27m2 0h7m1 0h8m1 0h4m1 0h6m1 0h2m2 0h1m2 0h3m18 0h1m-402 1h1m1 0h13m1 0h12m1 0h6m3 0h3m1 0h1m5 0h1m5 0h1m2 0h1m4 0h1m1 0h1m105 0h3m2 0h32m1 0h8m1 0h8m2 0h3m1 0h2m70 0h2m2 0h1m2 0h5m2 0h2m2 0h27m4 0h3m1 0h10m1 0h1m1 0h3m2 0h2m1 0h2m-379 1h5m2 0h21m1 0h6m1 0h3m3 0h3m9 0h2m1 0h2m8 0h2m100 0h3m1 0h38m1 0h10m1 0h1m1 0h1m1 0h2m69 0h1m7 0h1m1 0h4m1 0h33m1 0h6m2 0h2m1 0h2m1 0h9m2 0h3m1 0h2m17 0h1m-400 1h3m1 0h36m5 0h2m2 0h1m2 0h1m1 0h3m4 0h1m2 0h2m109 0h2m1 0h36m1 0h2m2 0h5m1 0h5m1 0h3m4 0h2m1 0h1m63 0h1m1 0h2m1 0h2m1 0h2m1 0h34m1 0h6m1 0h2m1 0h14m3 0h1m-377 1h2m3 0h26m1 0h1m1 0h2m1 0h1m1 0h1m1 0h4m2 0h2m1 0h1m3 0h1m5 0h1m1 0h3m109 0h38m1 0h2m1 0h2m1 0h2m1 0h5m1 0h2m1 0h1m2 0h1m27 0h1m43 0h2m1 0h2m1 0h1m1 0h2m1 0h29m1 0h2m1 0h9m1 0h6m1 0h4m1 0h2m2 0h1m1 0h1m1 0h1m1 0h1m3 0h1m1 0h1m-392 1h38m1 0h4m1 0h4m2 0h1m1 0h1m1 0h4m1 0h3m2 0h1m2 0h1m107 0h1m1 0h43m1 0h8m1 0h3m71 0h1m4 0h2m3 0h40m2 0h16m4 0h2m4 0h2m1 0h2m5 0h1m-393 1h5m1 0h32m3 0h1m1 0h2m1 0h1m6 0h6m1 0h1m1 0h1m1 0h1m6 0h2m102 0h3m1 0h34m1 0h3m1 0h12m1 0h2m73 0h1m1 0h1m1 0h2m1 0h38m1 0h7m1 0h8m1 0h3m2 0h1m1 0h3m-379 1h27m1 0h4m1 0h4m7 0h3m1 0h2m4 0h1m1 0h1m2 0h1m1 0h2m2 0h2m4 0h1m102 0h3m1 0h31m1 0h7m1 0h2m1 0h1m2 0h2m2 0h5m7 0h1m66 0h46m1 0h1m2 0h11m1 0h1m4 0h2m1 0h1m4 0h2m16 0h1m-401 1h31m1 0h1m1 0h1m1 0h2m6 0h1m2 0h3m4 0h3m1 0h1m2 0h1m11 0h1m101 0h4m1 0h11m1 0h15m1 0h2m1 0h2m1 0h3m1 0h1m1 0h4m1 0h2m2 0h2m1 0h1m1 0h1m8 0h1m63 0h1m1 0h2m2 0h43m1 0h1m2 0h6m3 0h4m1 0h3m9 0h1m13 0h1m-404 1h2m1 0h1m1 0h29m3 0h2m3 0h2m7 0h7m1 0h3m7 0h1m107 0h1m1 0h1m1 0h2m1 0h27m1 0h15m1 0h4m1 0h2m2 0h1m2 0h2m69 0h9m1 0h31m1 0h4m2 0h2m1 0h3m1 0h4m1 0h2m2 0h4m-374 1h29m2 0h2m3 0h1m1 0h1m7 0h1m3 0h1m2 0h4m1 0h2m112 0h1m1 0h3m1 0h1m1 0h30m3 0h3m1 0h11m2 0h2m69 0h2m4 0h3m1 0h34m1 0h6m2 0h3m2 0h4m2 0h1m3 0h1m1 0h5m6 0h1m-383 1h1m1 0h27m1 0h4m3 0h1m1 0h1m4 0h1m2 0h1m5 0h4m4 0h1m2 0h1m106 0h13m1 0h24m1 0h2m1 0h14m1 0h1m3 0h1m74 0h1m1 0h43m2 0h2m2 0h3m3 0h2m2 0h1m1 0h3m2 0h2m-377 1h29m7 0h1m5 0h4m1 0h1m5 0h1m7 0h1m109 0h1m3 0h1m2 0h35m3 0h8m1 0h3m1 0h4m73 0h1m2 0h39m1 0h2m2 0h5m2 0h3m4 0h5m3 0h1m-375 1h23m1 0h2m9 0h1m5 0h2m1 0h1m4 0h2m4 0h1m1 0h1m5 0h1m110 0h30m2 0h4m1 0h3m1 0h1m1 0h3m1 0h9m2 0h1m72 0h1m1 0h7m1 0h30m2 0h1m5 0h2m1 0h2m2 0h1m6 0h1m4 0h1m4 0h2m-381 1h1m3 0h22m3 0h1m15 0h1m1 0h2m3 0h1m1 0h3m3 0h2m115 0h37m1 0h1m1 0h2m1 0h12m28 0h1m41 0h1m2 0h1m1 0h2m2 0h1m1 0h31m1 0h7m2 0h1m1 0h1m1 0h2m1 0h1m5 0h1m3 0h2m1 0h1m1 0h2m1 0h1m3 0h1m-384 1h2m1 0h24m4 0h1m17 0h1m4 0h4m15 0h1m8 0h1m31 0h1m60 0h1m1 0h1m1 0h24m1 0h7m1 0h2m2 0h2m2 0h2m2 0h2m1 0h2m2 0h3m1 0h1m67 0h1m2 0h1m3 0h31m1 0h2m1 0h1m1 0h2m1 0h4m11 0h1m3 0h1m2 0h1m2 0h1m1 0h1m6 0h1m-381 1h17m1 0h4m1 0h1m3 0h1m25 0h1m3 0h1m23 0h1m90 0h4m1 0h1m1 0h17m1 0h3m1 0h6m1 0h1m1 0h1m1 0h2m2 0h2m1 0h8m4 0h1m1 0h1m68 0h1m2 0h32m1 0h2m1 0h1m1 0h1m8 0h1m4 0h2m7 0h1m1 0h1m9 0h1m-379 1h1m2 0h21m32 0h1m1 0h1m23 0h1m88 0h24m2 0h7m2 0h1m1 0h5m2 0h4m1 0h1m1 0h1m3 0h1m7 0h1m1 0h1m60 0h1m1 0h1m1 0h2m3 0h4m1 0h24m1 0h4m2 0h2m10 0h1m2 0h1m8 0h2m1 0h1m1 0h1m2 0h1m4 0h1m-380 1h2m1 0h18m34 0h1m5 0h1m110 0h1m1 0h29m1 0h1m1 0h4m1 0h4m1 0h3m3 0h2m1 0h1m1 0h1m71 0h1m5 0h25m1 0h9m2 0h1m1 0h1m1 0h2m3 0h1m1 0h6m1 0h1m1 0h1m3 0h1m13 0h2m-380 1h18m22 0h1m6 0h1m1 0h1m4 0h1m110 0h10m3 0h24m1 0h7m1 0h13m1 0h6m74 0h1m1 0h8m1 0h2m1 0h8m2 0h1m1 0h2m1 0h2m2 0h3m1 0h3m2 0h1m6 0h1m2 0h2m2 0h1m3 0h1m2 0h1m2 0h2m2 0h2m-375 1h3m4 0h4m1 0h1m2 0h2m2 0h1m18 0h3m4 0h1m1 0h1m316 40h1m4 0h1m2 4h1m-7 2h1m14 2h1m-18 2h1m1 0h1m2 0h1m3 1h1m-334 1h1m70 0h1m89 0h2m172 0h1m-336 1h1m336 0h1m-17 1h1m8 0h2m-329 1h1m159 0h1m7 0h1m130 0h2m2 0h1m-143 1h1m152 0h1m0 1h1m5 0h2m3 0h1m6 0h1m-325 1h1m143 0h1m-96 1h1m95 0h1m16 0h1m148 0h1m5 0h1m-315 1h1m45 0h1m2 0h1m96 0h1m10 0h3m149 0h1m9 0h1m-301 1h1m4 0h1m84 0h1m29 0h1m4 0h2m2 0h1m10 0h2m4 0h1m-158 1h1m130 0h1m15 0h2m139 0h1m28 0h1m8 0h1m-334 1h1m3 0h1m11 0h1m123 0h2m2 0h1m2 0h1m12 0h1m3 0h1m1 0h1m130 0h1m15 0h1m2 0h1m17 0h1m-286 1h1m99 0h1m1 0h2m1 0h3m4 0h1m15 0h1m135 0h1m3 0h1m-336 1h1m163 0h1m3 0h1m4 0h3m141 0h1m7 0h1m1 0h1m7 0h1m-335 1h1m15 0h1m1 0h1m6 0h1m115 0h1m17 0h1m4 0h2m1 0h3m3 0h2m1 0h2m3 0h1m145 0h2m47 0h1m-354 1h1m121 0h1m6 0h1m7 0h1m4 0h4m1 0h1m1 0h1m5 0h6m112 0h1m18 0h2m59 0h1m-378 1h1m14 0h1m3 0h2m2 0h1m136 0h1m1 0h1m4 0h4m3 0h2m4 0h4m3 0h1m1 0h1m134 0h1m14 0h1m14 0h1m-339 1h1m6 0h2m6 0h1m115 0h1m8 0h2m4 0h1m4 0h2m1 0h3m1 0h3m4 0h2m1 0h3m2 0h1m86 0h1m77 0h1m5 0h1m-344 1h2m3 0h1m4 0h1m1 0h2m122 0h2m1 0h1m5 0h1m1 0h1m1 0h1m1 0h8m6 0h1m1 0h1m4 0h2m19 0h1m60 0h1m58 0h2m-327 1h1m7 0h2m1 0h2m1 0h2m7 0h2m1 0h1m101 0h1m16 0h1m3 0h1m1 0h1m2 0h1m3 0h3m1 0h4m2 0h8m6 0h1m84 0h1m43 0h1m3 0h1m3 0h2m2 0h1m1 0h1m1 0h1m42 0h1m-367 1h5m2 0h1m1 0h2m4 0h1m3 0h3m40 0h1m61 0h1m15 0h2m3 0h1m1 0h1m2 0h1m3 0h1m2 0h5m1 0h3m2 0h2m2 0h5m2 0h3m2 0h1m109 0h1m12 0h1m4 0h3m1 0h1m2 0h3m7 0h2m3 0h1m-336 1h1m1 0h1m1 0h1m6 0h2m2 0h4m1 0h2m3 0h1m116 0h6m5 0h2m2 0h1m1 0h1m1 0h3m2 0h5m1 0h2m1 0h1m1 0h2m4 0h3m118 0h1m2 0h2m1 0h1m3 0h2m1 0h2m1 0h1m2 0h2m6 0h1m3 0h1m-331 1h1m1 0h1m3 0h1m1 0h1m1 0h2m1 0h1m1 0h2m1 0h1m4 0h1m117 0h1m1 0h1m3 0h3m1 0h2m1 0h2m1 0h7m2 0h1m1 0h2m3 0h2m5 0h1m119 0h1m2 0h3m1 0h3m1 0h3m2 0h1m10 0h1m4 0h1m-331 1h2m2 0h2m1 0h1m1 0h1m3 0h2m1 0h2m3 0h2m120 0h2m2 0h19m1 0h6m7 0h1m115 0h1m4 0h1m1 0h7m4 0h2m4 0h2m9 0h2m-341 1h1m8 0h3m1 0h1m1 0h2m1 0h3m125 0h1m7 0h2m1 0h17m1 0h1m1 0h3m3 0h1m119 0h1m4 0h1m5 0h7m2 0h1m1 0h1m1 0h1m3 0h1m9 0h1m4 0h1m-349 1h3m6 0h2m1 0h2m1 0h1m3 0h3m1 0h1m6 0h2m87 0h1m25 0h1m2 0h2m1 0h2m2 0h10m1 0h12m1 0h4m2 0h2m83 0h2m34 0h1m1 0h1m1 0h1m1 0h2m1 0h8m1 0h2m3 0h1m6 0h3m-338 1h2m1 0h2m2 0h2m1 0h5m5 0h2m7 0h1m103 0h1m13 0h1m1 0h1m4 0h3m1 0h23m2 0h4m6 0h1m107 0h2m5 0h1m3 0h1m1 0h3m2 0h3m3 0h2m18 0h2m-343 1h4m1 0h6m3 0h1m9 0h2m103 0h1m15 0h1m1 0h3m1 0h12m1 0h11m1 0h2m3 0h2m1 0h1m20 0h1m92 0h1m5 0h2m3 0h5m2 0h2m3 0h2m7 0h1m1 0h1m3 0h2m3 0h1m-369 1h1m25 0h2m2 0h2m2 0h5m2 0h1m1 0h2m1 0h1m4 0h2m3 0h1m31 0h1m79 0h1m1 0h1m2 0h10m1 0h16m1 0h1m1 0h4m2 0h1m2 0h2m19 0h1m90 0h1m1 0h2m3 0h4m1 0h6m1 0h4m1 0h1m1 0h2m3 0h1m1 0h1m2 0h3m6 0h1m-367 1h1m15 0h1m4 0h2m1 0h2m1 0h4m1 0h1m1 0h1m1 0h1m2 0h1m1 0h2m1 0h1m40 0h1m78 0h2m1 0h2m1 0h32m1 0h1m4 0h1m85 0h1m30 0h1m1 0h1m3 0h3m1 0h1m3 0h2m1 0h2m1 0h1m1 0h1m1 0h1m2 0h1m1 0h3m-359 1h1m23 0h1m2 0h3m2 0h5m2 0h1m1 0h3m117 0h1m4 0h2m2 0h1m1 0h8m1 0h14m1 0h11m121 0h5m1 0h7m1 0h3m2 0h3m1 0h2m2 0h1m3 0h1m-339 1h1m2 0h2m3 0h8m1 0h2m1 0h1m4 0h1m124 0h24m1 0h8m1 0h4m2 0h4m105 0h1m5 0h3m1 0h1m1 0h11m4 0h2m2 0h1m4 0h1m2 0h1m20 0h1m-382 1h1m18 0h1m4 0h1m4 0h8m8 0h4m4 0h1m118 0h7m2 0h20m1 0h3m1 0h2m1 0h2m2 0h1m13 0h1m68 0h1m26 0h1m4 0h1m2 0h2m1 0h3m3 0h7m2 0h5m3 0h3m7 0h1m14 0h1m-385 1h1m20 0h2m2 0h3m5 0h3m2 0h3m1 0h4m2 0h1m123 0h1m1 0h2m1 0h32m3 0h2m4 0h1m11 0h1m68 0h1m31 0h1m3 0h3m1 0h6m1 0h1m1 0h8m2 0h3m3 0h2m-342 1h4m2 0h3m1 0h4m1 0h2m1 0h2m4 0h5m111 0h1m1 0h1m2 0h1m1 0h21m1 0h14m1 0h2m20 0h1m11 0h1m62 0h1m4 0h1m16 0h2m1 0h6m1 0h9m2 0h8m4 0h1m1 0h1m12 0h1m3 0h2m-359 1h3m3 0h1m1 0h1m1 0h3m1 0h2m3 0h2m1 0h1m4 0h1m114 0h1m1 0h1m2 0h1m1 0h1m1 0h3m1 0h28m1 0h3m3 0h1m1 0h1m90 0h1m20 0h3m1 0h11m1 0h5m1 0h4m3 0h4m4 0h1m-341 1h2m2 0h1m1 0h3m1 0h1m1 0h2m1 0h5m1 0h1m5 0h1m4 0h1m99 0h1m6 0h2m3 0h1m5 0h5m2 0h30m2 0h2m7 0h1m103 0h1m1 0h1m1 0h2m2 0h1m1 0h8m3 0h1m1 0h5m5 0h1m2 0h2m5 0h1m-375 1h1m27 0h4m1 0h1m1 0h3m1 0h1m1 0h1m2 0h5m15 0h1m104 0h1m10 0h2m1 0h1m1 0h3m1 0h28m1 0h2m1 0h1m5 0h1m103 0h2m2 0h1m1 0h1m3 0h3m1 0h2m1 0h9m1 0h5m-337 1h2m1 0h1m1 0h3m1 0h3m1 0h2m1 0h1m3 0h1m19 0h1m20 0h1m1 0h1m59 0h1m24 0h1m1 0h2m2 0h1m1 0h1m3 0h27m1 0h1m3 0h1m2 0h1m110 0h8m1 0h2m1 0h9m1 0h3m2 0h5m-360 1h2m22 0h1m2 0h7m1 0h5m5 0h1m2 0h1m14 0h1m105 0h1m3 0h1m3 0h3m1 0h33m117 0h2m1 0h6m2 0h4m1 0h6m1 0h1m1 0h1m1 0h3m3 0h2m-355 1h1m10 0h1m1 0h1m1 0h1m3 0h2m2 0h1m1 0h1m2 0h2m2 0h3m3 0h1m107 0h1m10 0h1m1 0h11m1 0h8m1 0h22m1 0h2m112 0h1m3 0h10m1 0h11m1 0h4m1 0h3m1 0h2m33 0h1m-379 1h1m3 0h3m1 0h1m1 0h3m2 0h1m4 0h1m1 0h2m1 0h1m119 0h1m1 0h2m4 0h34m1 0h2m1 0h6m23 0h1m88 0h1m1 0h6m2 0h13m1 0h2m1 0h3m3 0h2m-358 1h2m12 0h1m2 0h3m1 0h5m1 0h1m6 0h2m123 0h1m8 0h36m109 0h2m10 0h2m1 0h3m1 0h2m1 0h8m4 0h3m1 0h2m3 0h2m-343 1h1m1 0h4m2 0h3m2 0h1m4 0h2m26 0h2m87 0h1m2 0h1m1 0h1m5 0h1m5 0h1m2 0h1m3 0h25m2 0h2m3 0h1m5 0h1m108 0h2m2 0h23m2 0h1m1 0h1m2 0h3m8 0h1m1 0h1m-355 1h2m2 0h1m1 0h2m2 0h1m2 0h1m3 0h5m5 0h1m108 0h1m8 0h1m2 0h1m1 0h1m1 0h3m1 0h28m1 0h1m2 0h2m1 0h3m3 0h1m110 0h11m1 0h9m1 0h5m19 0h1m18 0h1m-378 1h1m4 0h1m5 0h2m2 0h2m1 0h1m3 0h1m8 0h3m115 0h3m1 0h1m2 0h1m2 0h28m2 0h5m1 0h1m1 0h1m5 0h2m78 0h1m26 0h1m3 0h1m1 0h14m1 0h11m1 0h1m2 0h2m2 0h1m-351 1h1m7 0h1m1 0h1m1 0h2m2 0h2m1 0h1m123 0h1m3 0h2m2 0h4m1 0h1m2 0h26m1 0h3m1 0h5m2 0h1m6 0h1m108 0h2m1 0h1m2 0h7m1 0h15m3 0h1m7 0h1m15 0h1m-385 1h1m14 0h2m5 0h1m1 0h1m3 0h1m3 0h4m119 0h1m7 0h1m2 0h2m3 0h4m2 0h4m1 0h28m1 0h3m2 0h1m3 0h1m105 0h3m1 0h2m1 0h2m2 0h13m1 0h6m2 0h1m1 0h1m6 0h1m15 0h1m-387 1h1m2 0h1m9 0h1m3 0h3m2 0h1m1 0h2m1 0h1m1 0h1m3 0h2m2 0h2m1 0h1m8 0h1m12 0h1m100 0h1m1 0h1m4 0h2m1 0h2m1 0h3m1 0h25m1 0h1m1 0h7m93 0h1m21 0h4m1 0h1m1 0h14m1 0h7m5 0h2m-356 1h1m7 0h2m1 0h1m1 0h6m4 0h2m3 0h2m117 0h1m4 0h2m3 0h1m2 0h1m1 0h32m2 0h3m1 0h1m1 0h1m1 0h1m94 0h1m21 0h3m2 0h3m1 0h15m1 0h2m-348 1h1m6 0h1m2 0h1m1 0h1m3 0h1m1 0h1m3 0h2m3 0h1m1 0h1m2 0h1m4 0h1m47 0h1m62 0h2m2 0h1m3 0h1m1 0h1m2 0h1m1 0h2m1 0h1m1 0h26m1 0h5m2 0h2m97 0h1m16 0h1m3 0h1m1 0h10m1 0h4m1 0h2m2 0h4m3 0h2m3 0h1m5 0h1m-372 1h1m15 0h1m2 0h3m2 0h1m1 0h1m2 0h1m2 0h1m1 0h1m125 0h1m1 0h2m2 0h1m3 0h1m1 0h5m1 0h2m2 0h2m1 0h23m3 0h1m123 0h3m1 0h1m1 0h6m1 0h10m2 0h1m1 0h2m2 0h2m4 0h1m-378 1h1m12 0h2m7 0h1m2 0h1m3 0h1m3 0h1m2 0h2m123 0h3m4 0h4m1 0h3m2 0h4m1 0h25m2 0h4m1 0h2m1 0h1m1 0h1m97 0h1m15 0h2m1 0h1m1 0h4m1 0h6m2 0h1m1 0h3m1 0h3m1 0h1m2 0h2m6 0h1m-351 1h1m1 0h1m2 0h2m2 0h1m1 0h1m2 0h2m124 0h2m1 0h1m2 0h3m1 0h2m2 0h1m2 0h3m1 0h6m1 0h17m1 0h4m1 0h1m3 0h1m1 0h2m4 0h1m78 0h1m26 0h1m1 0h18m1 0h2m1 0h4m1 0h1m1 0h1m2 0h3m4 0h1m-367 1h1m1 0h3m2 0h5m2 0h2m4 0h2m2 0h3m1 0h1m1 0h1m125 0h1m1 0h2m1 0h2m1 0h2m2 0h4m1 0h2m2 0h18m1 0h5m1 0h4m8 0h1m5 0h1m82 0h1m22 0h2m1 0h2m4 0h15m1 0h8m1 0h1m22 0h1m-390 1h1m1 0h1m2 0h2m1 0h4m2 0h6m1 0h1m1 0h1m4 0h1m3 0h1m3 0h1m35 0h1m89 0h2m1 0h4m1 0h11m3 0h18m1 0h6m3 0h1m90 0h1m5 0h1m5 0h1m15 0h1m1 0h2m1 0h3m2 0h7m1 0h4m1 0h6m2 0h2m1 0h3m6 0h2m-379 1h1m4 0h1m1 0h7m2 0h2m1 0h7m2 0h1m2 0h2m1 0h1m2 0h2m1 0h1m35 0h1m6 0h1m77 0h1m3 0h1m1 0h3m3 0h3m1 0h1m1 0h1m1 0h2m1 0h3m1 0h2m1 0h17m6 0h1m9 0h1m93 0h1m19 0h2m1 0h1m1 0h13m1 0h7m1 0h1m1 0h4m-377 1h3m8 0h1m1 0h9m1 0h6m7 0h1m7 0h3m6 0h1m4 0h1m4 0h1m14 0h1m11 0h1m79 0h11m1 0h2m4 0h2m1 0h8m1 0h10m1 0h4m1 0h1m1 0h2m1 0h1m74 0h1m27 0h1m3 0h1m2 0h2m7 0h2m1 0h1m1 0h1m1 0h2m1 0h19m2 0h1m6 0h1m-378 1h2m1 0h1m2 0h1m1 0h23m1 0h2m12 0h1m5 0h1m2 0h1m2 0h1m2 0h2m3 0h1m24 0h1m64 0h2m10 0h2m1 0h1m3 0h2m1 0h8m2 0h6m1 0h7m1 0h2m1 0h3m1 0h1m1 0h3m1 0h1m1 0h3m4 0h2m89 0h1m6 0h1m6 0h1m4 0h1m2 0h1m1 0h1m2 0h4m1 0h5m2 0h13m5 0h1m34 0h1m-413 1h1m6 0h1m1 0h5m1 0h6m1 0h3m1 0h1m1 0h1m1 0h3m1 0h2m1 0h2m1 0h1m1 0h2m6 0h1m5 0h1m14 0h1m8 0h1m86 0h1m1 0h1m1 0h3m1 0h2m1 0h17m1 0h5m1 0h12m1 0h3m3 0h1m1 0h1m93 0h2m12 0h1m2 0h2m2 0h1m4 0h1m1 0h10m1 0h2m1 0h14m1 0h1m1 0h2m35 0h1m-413 1h1m5 0h1m1 0h2m1 0h2m1 0h16m1 0h1m2 0h3m11 0h1m2 0h1m27 0h1m21 0h1m64 0h1m3 0h2m1 0h3m1 0h3m1 0h5m1 0h2m1 0h2m1 0h2m1 0h1m1 0h12m3 0h3m8 0h1m86 0h1m1 0h2m7 0h1m4 0h2m15 0h6m1 0h5m1 0h4m1 0h2m1 0h2m1 0h1m1 0h2m2 0h1m5 0h1m-377 1h3m1 0h4m1 0h18m1 0h3m1 0h1m1 0h2m3 0h1m4 0h1m3 0h1m6 0h1m100 0h1m8 0h1m1 0h10m1 0h3m3 0h1m2 0h2m1 0h3m1 0h6m1 0h6m1 0h2m1 0h4m1 0h2m1 0h2m3 0h1m81 0h1m1 0h1m6 0h1m3 0h1m3 0h1m2 0h4m10 0h4m2 0h5m1 0h3m2 0h11m1 0h3m2 0h1m-381 1h1m6 0h30m3 0h2m1 0h1m6 0h1m4 0h1m8 0h1m3 0h1m35 0h1m64 0h1m5 0h3m2 0h2m2 0h4m2 0h1m1 0h1m1 0h2m1 0h2m1 0h9m2 0h2m1 0h2m1 0h2m1 0h1m2 0h2m4 0h1m82 0h1m2 0h1m2 0h2m1 0h1m2 0h4m1 0h4m4 0h3m7 0h1m2 0h2m1 0h5m1 0h3m2 0h2m1 0h4m1 0h2m2 0h2m16 0h1m-388 1h30m2 0h1m4 0h1m1 0h1m1 0h2m2 0h2m2 0h2m6 0h1m3 0h1m36 0h1m60 0h1m1 0h2m3 0h1m1 0h2m1 0h8m2 0h2m3 0h2m2 0h2m2 0h1m2 0h6m1 0h3m1 0h3m1 0h5m1 0h1m3 0h1m89 0h1m4 0h10m6 0h4m3 0h1m2 0h2m1 0h3m1 0h1m1 0h7m1 0h2m1 0h4m2 0h1m3 0h2m-379 1h1m3 0h24m1 0h9m6 0h1m2 0h1m1 0h1m106 0h1m1 0h1m9 0h2m3 0h8m1 0h4m1 0h2m2 0h9m2 0h4m1 0h5m1 0h2m2 0h2m4 0h1m83 0h1m2 0h1m4 0h3m3 0h5m1 0h2m3 0h1m6 0h2m1 0h1m5 0h2m1 0h3m1 0h8m4 0h1m1 0h4m1 0h1m3 0h1m-380 1h1m4 0h9m1 0h15m1 0h2m1 0h2m1 0h4m4 0h1m2 0h1m1 0h1m38 0h1m8 0h2m59 0h1m5 0h2m2 0h16m1 0h1m1 0h2m1 0h7m1 0h3m3 0h1m1 0h1m2 0h3m1 0h2m2 0h2m3 0h1m85 0h1m7 0h4m1 0h6m1 0h1m4 0h1m1 0h1m6 0h2m1 0h4m2 0h1m1 0h1m1 0h10m1 0h5m1 0h1m1 0h2m3 0h1m-381 1h1m1 0h1m2 0h3m1 0h4m2 0h19m1 0h2m1 0h2m4 0h1m1 0h1m1 0h1m54 0h2m54 0h1m3 0h1m1 0h5m2 0h14m1 0h1m2 0h4m1 0h3m2 0h2m1 0h5m1 0h3m1 0h1m2 0h1m1 0h1m3 0h1m16 0h1m72 0h5m3 0h4m2 0h2m1 0h2m1 0h5m3 0h2m1 0h1m1 0h8m3 0h4m1 0h3m1 0h5m1 0h2m1 0h1m3 0h1m1 0h2m-379 1h8m1 0h21m1 0h4m1 0h2m1 0h1m5 0h1m9 0h1m103 0h5m2 0h1m1 0h12m1 0h5m2 0h9m1 0h3m1 0h10m3 0h1m3 0h2m6 0h1m75 0h1m6 0h5m1 0h2m1 0h11m7 0h4m1 0h2m2 0h5m1 0h2m1 0h1m1 0h9m1 0h3m1 0h1m3 0h1m-379 1h1m3 0h25m1 0h2m1 0h2m3 0h2m8 0h1m5 0h2m3 0h1m5 0h1m89 0h1m2 0h3m1 0h1m3 0h2m1 0h2m1 0h8m1 0h7m2 0h11m1 0h2m1 0h7m2 0h1m1 0h1m1 0h1m86 0h1m1 0h1m6 0h1m3 0h10m2 0h3m1 0h1m4 0h5m1 0h3m1 0h3m1 0h17m2 0h1m2 0h2m-380 1h1m2 0h2m1 0h25m1 0h2m2 0h2m1 0h2m1 0h1m1 0h1m4 0h1m8 0h1m4 0h1m4 0h1m3 0h1m25 0h1m7 0h1m52 0h1m5 0h1m2 0h1m4 0h2m1 0h16m1 0h2m1 0h2m1 0h3m1 0h1m1 0h1m2 0h2m2 0h4m1 0h1m1 0h1m86 0h1m3 0h1m3 0h1m1 0h1m3 0h10m1 0h1m1 0h1m2 0h3m2 0h3m3 0h1m3 0h1m1 0h5m1 0h2m1 0h1m1 0h9m1 0h3m2 0h1m7 0h2m-393 1h1m8 0h4m1 0h24m1 0h1m1 0h4m2 0h1m1 0h1m1 0h1m1 0h2m2 0h1m52 0h1m56 0h1m3 0h1m1 0h3m2 0h7m1 0h4m1 0h1m1 0h1m2 0h3m1 0h2m4 0h1m1 0h7m2 0h2m2 0h1m2 0h2m2 0h1m1 0h3m76 0h1m9 0h6m1 0h3m1 0h10m5 0h6m6 0h3m1 0h4m1 0h7m1 0h5m7 0h1m2 0h1m-390 1h1m2 0h1m2 0h2m1 0h5m1 0h1m1 0h21m1 0h2m3 0h1m8 0h1m1 0h1m4 0h2m8 0h1m18 0h2m81 0h4m2 0h12m3 0h1m2 0h4m2 0h1m1 0h3m2 0h6m1 0h6m2 0h1m1 0h1m4 0h2m77 0h1m4 0h1m3 0h1m1 0h3m1 0h1m1 0h14m2 0h1m1 0h2m1 0h1m1 0h3m1 0h3m1 0h3m2 0h2m4 0h4m1 0h2m2 0h1m2 0h2m-382 1h1m1 0h2m1 0h1m3 0h31m1 0h5m2 0h1m1 0h2m1 0h3m6 0h1m8 0h1m5 0h1m93 0h1m1 0h3m1 0h11m1 0h5m3 0h3m2 0h2m3 0h1m3 0h6m1 0h1m1 0h1m1 0h1m1 0h3m88 0h1m1 0h5m1 0h3m1 0h15m1 0h1m2 0h3m1 0h4m1 0h10m2 0h11m13 0h2m-394 1h1m2 0h3m1 0h2m2 0h26m2 0h2m5 0h1m3 0h1m3 0h2m5 0h1m1 0h1m1 0h2m4 0h1m6 0h1m6 0h2m76 0h1m8 0h1m1 0h7m1 0h14m2 0h2m1 0h7m1 0h1m1 0h1m1 0h1m1 0h3m3 0h1m1 0h1m1 0h1m25 0h1m65 0h2m1 0h5m1 0h9m2 0h6m1 0h1m4 0h2m1 0h1m1 0h11m4 0h2m1 0h5m1 0h1m5 0h2m12 0h1m-399 1h1m3 0h4m3 0h23m1 0h3m1 0h2m1 0h1m4 0h1m8 0h1m1 0h3m1 0h3m102 0h2m3 0h21m1 0h5m1 0h5m1 0h2m1 0h1m1 0h1m1 0h1m4 0h1m2 0h1m2 0h1m6 0h1m20 0h1m63 0h1m1 0h1m3 0h2m1 0h7m1 0h14m3 0h1m1 0h1m2 0h2m1 0h2m1 0h1m2 0h1m1 0h3m1 0h7m7 0h3m4 0h1m6 0h1m-397 1h3m1 0h1m1 0h3m1 0h23m1 0h4m1 0h2m2 0h2m1 0h1m1 0h1m1 0h2m5 0h2m2 0h1m1 0h1m9 0h1m34 0h1m57 0h3m1 0h1m1 0h11m1 0h2m1 0h4m1 0h2m3 0h8m2 0h2m3 0h1m1 0h1m1 0h2m2 0h1m1 0h3m88 0h2m2 0h1m3 0h1m1 0h11m1 0h10m4 0h5m1 0h13m2 0h3m2 0h1m3 0h1m10 0h1m-393 1h1m2 0h3m2 0h27m1 0h7m3 0h1m1 0h1m4 0h1m3 0h1m1 0h1m1 0h2m14 0h1m88 0h1m4 0h1m1 0h5m1 0h6m2 0h2m1 0h6m4 0h2m3 0h4m1 0h5m3 0h1m1 0h1m4 0h2m4 0h1m81 0h1m2 0h1m1 0h5m1 0h4m1 0h16m4 0h8m2 0h4m1 0h4m1 0h1m2 0h3m1 0h2m1 0h4m18 0h1m-400 1h8m1 0h25m1 0h2m3 0h4m1 0h2m6 0h1m2 0h2m1 0h1m1 0h1m1 0h2m8 0h1m92 0h2m2 0h6m1 0h14m1 0h1m2 0h1m1 0h4m1 0h1m1 0h3m1 0h4m1 0h3m1 0h1m1 0h2m1 0h1m2 0h2m13 0h1m71 0h1m2 0h1m1 0h11m1 0h1m1 0h2m1 0h5m1 0h1m1 0h2m1 0h1m2 0h3m1 0h2m2 0h1m1 0h1m1 0h2m1 0h2m1 0h1m1 0h2m2 0h5m4 0h1m17 0h1m-399 1h7m1 0h29m1 0h2m9 0h1m1 0h2m10 0h1m4 0h1m9 0h1m19 0h1m66 0h2m2 0h3m1 0h15m1 0h1m4 0h1m2 0h2m2 0h10m1 0h10m2 0h2m11 0h1m76 0h1m1 0h9m1 0h8m1 0h8m2 0h2m1 0h3m1 0h4m1 0h5m1 0h4m3 0h4m5 0h1m-382 1h1m1 0h2m1 0h34m1 0h2m1 0h6m3 0h2m5 0h1m1 0h1m22 0h1m78 0h1m7 0h22m2 0h3m2 0h5m1 0h10m1 0h2m1 0h3m3 0h1m7 0h1m79 0h1m1 0h3m1 0h1m1 0h2m1 0h3m1 0h10m1 0h10m1 0h4m1 0h1m1 0h5m3 0h2m1 0h1m1 0h3m2 0h1m2 0h1m1 0h1m5 0h1m-389 1h1m4 0h31m2 0h3m4 0h2m3 0h2m2 0h1m5 0h1m1 0h1m9 0h1m14 0h1m28 0h1m47 0h1m5 0h1m1 0h1m1 0h1m1 0h1m1 0h11m1 0h3m3 0h8m1 0h1m1 0h1m1 0h1m1 0h7m3 0h3m11 0h1m6 0h1m76 0h1m3 0h26m1 0h1m4 0h8m1 0h1m1 0h1m1 0h1m2 0h2m2 0h2m13 0h1m-389 1h1m1 0h5m1 0h1m1 0h22m1 0h2m2 0h1m3 0h2m2 0h1m3 0h3m4 0h1m4 0h1m50 0h1m48 0h4m2 0h1m1 0h4m1 0h1m1 0h1m2 0h6m1 0h6m2 0h12m1 0h2m1 0h4m1 0h1m1 0h2m1 0h1m9 0h2m2 0h1m75 0h3m1 0h1m1 0h3m1 0h20m1 0h7m2 0h1m1 0h5m1 0h1m1 0h2m2 0h1m1 0h3m2 0h5m3 0h1m4 0h1m-386 1h2m1 0h2m1 0h31m2 0h2m2 0h2m1 0h3m3 0h1m7 0h1m2 0h3m2 0h1m9 0h1m12 0h1m1 0h1m7 0h1m9 0h1m57 0h4m2 0h5m1 0h3m1 0h3m1 0h3m1 0h2m4 0h5m1 0h3m1 0h3m1 0h1m1 0h1m1 0h4m3 0h1m9 0h2m76 0h4m2 0h8m1 0h15m1 0h2m1 0h4m2 0h8m2 0h2m1 0h1m1 0h3m1 0h2m2 0h1m-376 1h1m1 0h17m1 0h12m1 0h4m1 0h1m2 0h3m3 0h4m4 0h2m7 0h1m3 0h1m1 0h1m13 0h1m83 0h1m1 0h1m1 0h5m1 0h12m1 0h1m1 0h3m1 0h1m2 0h3m1 0h5m1 0h4m1 0h4m1 0h3m2 0h1m3 0h1m4 0h1m75 0h1m3 0h1m1 0h3m1 0h1m1 0h20m1 0h7m1 0h1m1 0h4m1 0h1m1 0h2m6 0h1m2 0h1m3 0h1m2 0h2m1 0h3m2 0h1m-388 1h2m1 0h3m1 0h32m8 0h1m1 0h2m11 0h1m3 0h1m3 0h1m93 0h2m3 0h1m2 0h1m1 0h8m1 0h5m1 0h7m2 0h5m1 0h4m1 0h10m2 0h4m18 0h1m69 0h1m4 0h1m1 0h24m1 0h1m3 0h4m2 0h4m2 0h1m2 0h1m1 0h2m1 0h1m3 0h1m1 0h1m2 0h3m1 0h2m-384 1h2m4 0h30m1 0h2m4 0h1m2 0h3m2 0h1m2 0h1m4 0h1m1 0h3m94 0h1m6 0h1m1 0h1m3 0h1m2 0h3m1 0h1m1 0h2m2 0h2m1 0h4m1 0h3m3 0h5m1 0h2m1 0h8m1 0h9m88 0h1m2 0h36m1 0h8m3 0h2m1 0h3m2 0h1m2 0h2m5 0h1m-383 1h1m2 0h5m1 0h27m1 0h3m1 0h4m3 0h2m3 0h1m1 0h2m1 0h1m3 0h1m6 0h1m1 0h1m4 0h2m22 0h1m67 0h1m4 0h3m2 0h1m2 0h8m3 0h1m1 0h2m5 0h2m1 0h4m1 0h5m1 0h2m1 0h5m7 0h1m80 0h1m2 0h1m1 0h36m1 0h4m2 0h3m3 0h8m9 0h2m-383 1h35m1 0h4m1 0h2m2 0h2m1 0h1m1 0h3m10 0h1m3 0h3m1 0h1m28 0h1m70 0h5m1 0h2m1 0h1m1 0h1m1 0h6m4 0h2m1 0h9m1 0h3m2 0h3m2 0h1m1 0h5m1 0h1m1 0h3m6 0h2m73 0h5m1 0h36m1 0h2m1 0h1m1 0h2m2 0h1m2 0h1m1 0h2m1 0h2m1 0h1m2 0h1m2 0h3m1 0h1m1 0h1m-386 1h5m1 0h24m1 0h3m1 0h4m3 0h1m1 0h3m3 0h1m4 0h1m1 0h1m2 0h5m36 0h1m62 0h1m1 0h2m1 0h1m3 0h3m1 0h1m2 0h2m1 0h4m1 0h2m1 0h6m2 0h1m1 0h1m1 0h2m1 0h7m1 0h8m1 0h1m2 0h1m1 0h2m12 0h1m64 0h1m1 0h1m1 0h2m1 0h2m1 0h25m2 0h3m3 0h2m1 0h1m2 0h2m3 0h1m1 0h2m3 0h1m1 0h4m1 0h1m7 0h1m6 0h2m-392 1h3m1 0h11m1 0h15m1 0h1m7 0h1m2 0h1m2 0h2m7 0h2m37 0h1m70 0h1m5 0h3m2 0h2m1 0h4m1 0h2m1 0h2m2 0h4m2 0h5m1 0h1m2 0h6m1 0h1m1 0h3m1 0h3m1 0h2m2 0h1m84 0h37m1 0h5m1 0h1m2 0h1m1 0h1m2 0h2m1 0h3m1 0h2m1 0h2m7 0h1m35 0h2m-424 1h2m3 0h26m1 0h4m10 0h3m5 0h1m7 0h1m18 0h1m89 0h6m2 0h4m2 0h1m1 0h2m1 0h2m1 0h1m1 0h4m1 0h3m1 0h4m1 0h6m1 0h1m1 0h1m1 0h3m3 0h4m3 0h1m1 0h1m7 0h2m16 0h1m53 0h1m1 0h37m3 0h1m1 0h2m1 0h1m7 0h1m2 0h1m1 0h1m11 0h2m-386 1h33m1 0h2m1 0h1m2 0h2m3 0h1m12 0h1m4 0h1m8 0h1m5 0h1m12 0h1m77 0h2m1 0h2m5 0h3m2 0h1m1 0h1m2 0h2m2 0h2m2 0h11m2 0h4m1 0h2m1 0h3m2 0h2m1 0h1m4 0h2m26 0h1m51 0h1m2 0h31m1 0h5m1 0h8m1 0h4m2 0h1m2 0h1m1 0h2m1 0h2m2 0h1m5 0h1m6 0h1m26 0h2m-422 1h1m1 0h31m1 0h4m7 0h1m6 0h2m4 0h1m2 0h4m8 0h1m94 0h5m3 0h2m1 0h2m2 0h1m2 0h2m3 0h12m1 0h1m2 0h1m1 0h7m1 0h2m1 0h2m3 0h1m5 0h1m1 0h1m79 0h1m1 0h40m1 0h1m1 0h3m2 0h1m5 0h1m1 0h2m1 0h2m1 0h1m2 0h2m10 0h1m-395 1h1m2 0h1m1 0h27m2 0h5m7 0h1m8 0h1m4 0h2m1 0h1m1 0h3m2 0h1m7 0h1m16 0h1m18 0h1m53 0h2m1 0h1m1 0h2m3 0h1m1 0h1m1 0h2m2 0h1m1 0h3m1 0h1m2 0h2m2 0h2m1 0h11m3 0h1m1 0h1m1 0h7m1 0h1m5 0h1m82 0h1m1 0h30m1 0h1m1 0h1m1 0h4m2 0h1m6 0h1m1 0h3m1 0h6m1 0h1m2 0h1m11 0h1m-396 1h2m3 0h1m1 0h3m1 0h22m1 0h3m1 0h1m3 0h1m1 0h3m1 0h1m3 0h1m3 0h1m7 0h1m2 0h1m21 0h2m24 0h1m53 0h1m3 0h1m2 0h2m1 0h3m1 0h2m4 0h6m2 0h5m1 0h4m2 0h1m1 0h4m1 0h11m1 0h1m6 0h1m10 0h2m68 0h38m2 0h1m2 0h2m1 0h5m1 0h2m2 0h4m3 0h1m4 0h1m21 0h2m-407 1h31m1 0h3m1 0h3m5 0h1m1 0h2m1 0h1m2 0h1m8 0h1m49 0h1m56 0h1m2 0h2m2 0h1m3 0h1m1 0h2m1 0h1m6 0h3m1 0h1m1 0h3m1 0h1m1 0h1m1 0h1m1 0h5m2 0h6m1 0h3m2 0h1m6 0h2m24 0h1m50 0h2m2 0h2m2 0h33m2 0h3m2 0h1m3 0h1m1 0h2m2 0h1m8 0h2m5 0h1m-382 1h2m1 0h13m1 0h8m1 0h1m7 0h1m6 0h1m1 0h2m5 0h1m1 0h1m113 0h1m1 0h1m5 0h1m2 0h2m3 0h1m2 0h1m1 0h1m1 0h2m4 0h2m3 0h6m2 0h1m1 0h4m2 0h4m4 0h1m32 0h1m49 0h1m4 0h34m3 0h1m1 0h1m4 0h2m3 0h2m1 0h1m4 0h1m2 0h1m1 0h1m1 0h1m7 0h1m-388 1h2m1 0h1m2 0h13m1 0h7m1 0h6m1 0h1m9 0h1m10 0h1m13 0h1m33 0h1m61 0h1m2 0h1m2 0h1m4 0h1m3 0h3m5 0h4m5 0h3m1 0h1m1 0h3m2 0h2m3 0h1m1 0h3m3 0h2m1 0h1m6 0h1m9 0h1m71 0h1m1 0h3m1 0h19m1 0h9m1 0h4m2 0h2m1 0h1m1 0h1m1 0h1m2 0h1m2 0h1m2 0h4m8 0h1m5 0h2m-392 1h32m1 0h1m6 0h1m5 0h1m1 0h2m4 0h2m17 0h1m12 0h1m80 0h1m5 0h2m1 0h5m2 0h3m2 0h4m1 0h2m2 0h2m2 0h1m1 0h2m4 0h5m4 0h1m1 0h1m5 0h1m5 0h1m9 0h1m70 0h4m1 0h1m1 0h25m1 0h5m2 0h3m3 0h2m2 0h5m1 0h4m3 0h1m3 0h1m2 0h1m-384 1h4m1 0h25m3 0h1m4 0h1m2 0h1m5 0h1m1 0h2m4 0h2m12 0h2m15 0h1m86 0h3m1 0h2m4 0h1m1 0h2m2 0h1m7 0h1m1 0h1m2 0h3m2 0h1m1 0h1m3 0h4m1 0h1m1 0h1m1 0h1m1 0h1m1 0h2m85 0h1m2 0h1m1 0h38m1 0h1m1 0h1m1 0h5m1 0h1m1 0h1m8 0h1m2 0h1m-383 1h4m1 0h2m1 0h25m2 0h2m3 0h1m2 0h1m1 0h2m1 0h2m6 0h1m5 0h2m1 0h2m10 0h1m23 0h1m69 0h1m3 0h1m5 0h1m1 0h3m1 0h2m1 0h1m1 0h1m1 0h1m2 0h3m1 0h1m1 0h3m1 0h4m2 0h5m2 0h3m6 0h1m4 0h1m79 0h2m4 0h2m1 0h33m2 0h2m1 0h3m2 0h2m1 0h1m1 0h1m1 0h1m1 0h1m1 0h2m40 0h1m-419 1h1m1 0h3m1 0h18m2 0h3m2 0h2m7 0h1m6 0h1m22 0h1m13 0h1m15 0h1m2 0h1m60 0h1m5 0h1m3 0h2m6 0h1m5 0h2m3 0h1m2 0h3m2 0h4m1 0h3m3 0h2m3 0h2m2 0h2m4 0h2m5 0h2m71 0h2m6 0h3m1 0h1m1 0h24m2 0h4m1 0h1m3 0h1m1 0h1m4 0h3m1 0h2m11 0h2m21 0h1m-405 1h1m1 0h1m2 0h18m1 0h1m2 0h1m1 0h1m1 0h1m2 0h1m1 0h1m19 0h1m12 0h1m10 0h1m9 0h2m13 0h1m60 0h1m6 0h1m3 0h1m4 0h1m1 0h1m5 0h1m8 0h2m5 0h2m1 0h2m1 0h1m1 0h2m1 0h1m2 0h1m9 0h1m10 0h1m67 0h1m8 0h21m1 0h6m3 0h7m2 0h1m5 0h3m1 0h1m2 0h1m7 0h2m-381 1h1m2 0h7m1 0h4m1 0h4m1 0h8m1 0h1m1 0h1m3 0h2m10 0h1m5 0h1m1 0h1m12 0h1m4 0h1m11 0h1m4 0h2m86 0h1m2 0h2m4 0h1m10 0h1m1 0h1m1 0h2m3 0h9m1 0h1m1 0h1m4 0h1m4 0h1m85 0h2m2 0h2m1 0h11m1 0h13m1 0h3m1 0h2m3 0h3m1 0h1m2 0h2m1 0h1m7 0h2m-377 1h1m3 0h3m1 0h3m1 0h11m1 0h2m1 0h1m2 0h1m3 0h1m1 0h1m9 0h1m18 0h1m11 0h1m2 0h1m90 0h1m16 0h1m4 0h1m2 0h1m6 0h1m5 0h2m1 0h5m3 0h1m3 0h2m88 0h1m3 0h27m2 0h7m1 0h2m2 0h1m2 0h1m3 0h2m7 0h1m-376 1h4m1 0h2m2 0h11m4 0h2m10 0h3m7 0h1m8 0h1m1 0h1m10 0h2m2 0h2m4 0h1m1 0h1m90 0h1m5 0h1m2 0h5m3 0h1m2 0h1m1 0h1m2 0h3m2 0h3m1 0h3m1 0h1m1 0h3m1 0h3m1 0h1m1 0h1m15 0h1m79 0h1m1 0h15m1 0h2m1 0h3m2 0h2m3 0h2m1 0h3m2 0h2m6 0h1m4 0h3m3 0h1m5 0h1m-382 1h4m1 0h1m1 0h2m1 0h1m1 0h1m1 0h2m1 0h2m1 0h1m1 0h1m2 0h2m1 0h3m15 0h2m1 0h1m3 0h3m1 0h1m3 0h1m9 0h1m3 0h1m14 0h1m73 0h1m9 0h2m1 0h1m2 0h2m4 0h2m1 0h5m4 0h1m5 0h2m1 0h1m3 0h1m4 0h1m5 0h1m2 0h3m79 0h1m4 0h2m4 0h7m1 0h12m1 0h3m2 0h2m2 0h3m2 0h1m3 0h2m1 0h1m3 0h1m3 0h2m1 0h1m1 0h1m7 0h1m2 0h2m9 0h1m20 0h1m-418 1h2m2 0h1m1 0h2m2 0h2m1 0h1m2 0h2m1 0h1m1 0h2m1 0h1m24 0h1m1 0h1m24 0h1m89 0h1m19 0h2m3 0h1m1 0h1m4 0h1m6 0h1m1 0h3m2 0h1m6 0h1m1 0h1m95 0h1m3 0h4m1 0h15m1 0h1m2 0h2m2 0h2m1 0h2m5 0h1m1 0h2m2 0h1m3 0h4m23 0h1m-397 1h1m2 0h10m1 0h1m1 0h5m1 0h1m8 0h1m10 0h1m9 0h2m9 0h2m119 0h2m2 0h1m3 0h1m5 0h1m4 0h1m1 0h2m4 0h1m4 0h1m2 0h3m2 0h5m88 0h1m3 0h18m1 0h1m1 0h2m7 0h2m1 0h2m4 0h4m2 0h2m4 0h1m8 0h2m1 0h1m-385 1h1m3 0h1m1 0h17m25 0h1m114 0h1m12 0h1m5 0h1m4 0h1m4 0h1m2 0h1m1 0h1m1 0h1m2 0h1m1 0h1m1 0h2m3 0h2m2 0h1m11 0h1m33 0h1m54 0h1m1 0h20m2 0h2m1 0h3m2 0h3m3 0h2m1 0h1m3 0h2m6 0h1m14 0h1m-385 1h6m1 0h3m2 0h1m3 0h3m1 0h4m5 0h1m6 0h2m10 0h1m131 0h1m6 0h1m4 0h2m8 0h1m3 0h2m2 0h1m3 0h2m3 0h1m86 0h1m9 0h1m4 0h5m1 0h2m1 0h2m1 0h1m1 0h1m1 0h4m1 0h4m2 0h1m2 0h1m1 0h1m9 0h1m5 0h1m-364 1h2m2 0h1m6 0h1m3 0h1m1 0h2m11 0h1m11 0h1" stroke="#000" stroke-width="1" fill="none" transform="translate(0 0.5)" shape-rendering="crispEdges"/><path d="M64.60 45.20L196.80 45.20M196.80 45.20L196.80 178.20M196.80 178.20L64.60 178.20M64.60 178.20L64.60 45.20M58.10 45.20L64.60 45.20M217.60 45.20L350.00 45.20M350.00 45.20L350.00 178.20M350.00 178.20L217.60 178.20M217.60 178.20L217.60 45.20M211.10 45.20L217.60 45.20M370.60 45.20L503.00 45.20M503.00 45.20L503.00 178.20M503.00 178.20L370.60 178.20M370.60 178.20L370.60 45.20M364.10 45.20L370.60 45.20M67.00 254.00L197.30 254.00M197.30 254.00L197.30 386.40M197.30 386.40L67.00 386.40M67.00 386.40L67.00 254.00M220.60 253.80L351.30 253.80M351.30 253.80L351.30 386.10M351.30 386.10L220.60 386.10M220.60 386.10L220.60 253.80M372.90 253.60L504.00 253.60M504.00 253.60L504.00 385.70M504.00 385.70L372.90 385.70M372.90 385.70L372.90 253.60M67.00 418.00L197.50 418.00M197.50 418.00L197.50 550.20M197.50 550.20L67.00 550.20M67.00 550.20L67.00 418.00M221.70 417.30L352.10 417.30M352.10 417.30L352.10 549.70M352.10 549.70L221.70 549.70M221.70 549.70L221.70 417.30M374.50 416.50L504.90 416.50M504.90 416.50L504.90 548.70M504.90 548.70L374.50 548.70M374.50 548.70L374.50 416.50M66.50 608.90L197.00 608.90M197.00 608.90L197.00 740.75M197.00 740.75L66.50 740.75M66.50 740.75L66.50 608.90M221.20 608.40L352.10 608.40M352.10 608.40L352.10 740.30M352.10 740.30L221.20 740.30M221.20 740.30L221.20 608.40M374.70 607.60L505.30 607.60M505.30 607.60L505.30 739.70M505.30 739.70L374.70 739.70M374.70 739.70L374.70 607.60M67.90 771.75L198.50 771.75M198.50 771.75L198.50 903.70M198.50 903.70L67.90 903.70M67.90 903.70L67.90 771.75M222.60 771.30L353.40 771.30M353.40 771.30L353.40 903.30M353.40 903.30L222.60 903.30M222.60 903.30L222.60 771.30M375.70 770.70L506.20 770.70M506.20 770.70L506.20 903.00M506.20 903.00L375.70 903.00M375.70 903.00L375.70 770.70" stroke="#000" stroke-width="2" fill="none" stroke-linecap="square"/><path d="M75.0 45.5L75.0 118.0L92.5 145.0L187.0 150.5L194.0 47.5ZM230.3 45.5L230.3 117.0L242.5 138.0L262.0 146.0L341.2 150.4L346.6 47.5ZM383.0 45.5L383.0 118.0L396.0 145.0L493.7 149.9L498.8 47.5ZM125.50 254.00L125.50 386.40M67.00 330.50L197.30 330.50M279.50 253.80L279.50 386.10M220.60 330.50L351.30 330.50M431.50 253.60L431.50 385.70M372.90 330.50L504.00 330.50M125.50 418.00L125.50 550.20M67.00 493.50L197.50 493.50M269.50 417.30L269.50 549.70M221.70 496.50L352.10 496.50M432.50 416.50L432.50 548.70M374.50 492.50L504.90 492.50M116.50 608.90L116.50 740.75M66.50 683.50L197.00 683.50M271.50 608.40L271.50 740.30M221.20 683.50L352.10 683.50M423.50 607.60L423.50 739.70M374.70 683.50L505.30 683.50M117.50 771.75L117.50 903.70M67.90 846.50L198.50 846.50M271.50 771.30L271.50 903.30M222.60 846.50L353.40 846.50M424.50 770.70L424.50 903.00M375.70 845.50L506.20 845.50" stroke="#000" stroke-width="1.35" fill="none"/><path d="M58.80 178.20L64.60 178.20M64.60 178.20L64.60 185.80M58.80 164.90L64.60 164.90M77.82 178.20L77.82 184.20M58.80 151.60L64.60 151.60M91.04 178.20L91.04 185.80M58.80 138.30L64.60 138.30M104.26 178.20L104.26 184.20M58.80 125.00L64.60 125.00M117.48 178.20L117.48 185.80M58.80 111.70L64.60 111.70M130.70 178.20L130.70 184.20M58.80 98.40L64.60 98.40M143.92 178.20L143.92 185.80M58.80 85.10L64.60 85.10M157.14 178.20L157.14 184.20M58.80 71.80L64.60 71.80M170.36 178.20L170.36 185.80M58.80 58.50L64.60 58.50M183.58 178.20L183.58 184.20M58.80 45.20L64.60 45.20M196.80 178.20L196.80 185.80M211.80 178.20L217.60 178.20M217.60 178.20L217.60 185.80M211.80 164.90L217.60 164.90M230.84 178.20L230.84 184.20M211.80 151.60L217.60 151.60M244.08 178.20L244.08 185.80M211.80 138.30L217.60 138.30M257.32 178.20L257.32 184.20M211.80 125.00L217.60 125.00M270.56 178.20L270.56 185.80M211.80 111.70L217.60 111.70M283.80 178.20L283.80 184.20M211.80 98.40L217.60 98.40M297.04 178.20L297.04 185.80M211.80 85.10L217.60 85.10M310.28 178.20L310.28 184.20M211.80 71.80L217.60 71.80M323.52 178.20L323.52 185.80M211.80 58.50L217.60 58.50M336.76 178.20L336.76 184.20M211.80 45.20L217.60 45.20M350.00 178.20L350.00 185.80M364.80 178.20L370.60 178.20M370.60 178.20L370.60 185.80M364.80 164.90L370.60 164.90M383.84 178.20L383.84 184.20M364.80 151.60L370.60 151.60M397.08 178.20L397.08 185.80M364.80 138.30L370.60 138.30M410.32 178.20L410.32 184.20M364.80 125.00L370.60 125.00M423.56 178.20L423.56 185.80M364.80 111.70L370.60 111.70M436.80 178.20L436.80 184.20M364.80 98.40L370.60 98.40M450.04 178.20L450.04 185.80M364.80 85.10L370.60 85.10M463.28 178.20L463.28 184.20M364.80 71.80L370.60 71.80M476.52 178.20L476.52 185.80M364.80 58.50L370.60 58.50M489.76 178.20L489.76 184.20M364.80 45.20L370.60 45.20M503.00 178.20L503.00 185.80M60.50 386.40L67.00 386.40M67.00 386.40L67.00 393.40M63.80 376.44L67.00 376.44M76.81 386.40L76.81 389.60M63.80 370.61L67.00 370.61M82.54 386.40L82.54 389.60M63.80 366.47L67.00 366.47M86.61 386.40L86.61 389.60M62.50 363.26L67.00 363.26M89.77 386.40L89.77 390.90M63.80 360.64L67.00 360.64M92.35 386.40L92.35 389.60M63.80 358.43L67.00 358.43M94.53 386.40L94.53 389.60M63.80 356.51L67.00 356.51M96.42 386.40L96.42 389.60M63.80 354.81L67.00 354.81M98.08 386.40L98.08 389.60M60.50 353.30L67.00 353.30M99.58 386.40L99.58 393.40M63.80 343.34L67.00 343.34M109.38 386.40L109.38 389.60M63.80 337.51L67.00 337.51M115.12 386.40L115.12 389.60M63.80 333.37L67.00 333.37M119.19 386.40L119.19 389.60M62.50 330.16L67.00 330.16M122.34 386.40L122.34 390.90M63.80 327.54L67.00 327.54M124.92 386.40L124.92 389.60M63.80 325.33L67.00 325.33M127.10 386.40L127.10 389.60M63.80 323.41L67.00 323.41M128.99 386.40L128.99 389.60M63.80 321.71L67.00 321.71M130.66 386.40L130.66 389.60M60.50 320.20L67.00 320.20M132.15 386.40L132.15 393.40M63.80 310.24L67.00 310.24M141.96 386.40L141.96 389.60M63.80 304.41L67.00 304.41M147.69 386.40L147.69 389.60M63.80 300.27L67.00 300.27M151.76 386.40L151.76 389.60M62.50 297.06L67.00 297.06M154.92 386.40L154.92 390.90M63.80 294.44L67.00 294.44M157.50 386.40L157.50 389.60M63.80 292.23L67.00 292.23M159.68 386.40L159.68 389.60M63.80 290.31L67.00 290.31M161.57 386.40L161.57 389.60M63.80 288.61L67.00 288.61M163.23 386.40L163.23 389.60M60.50 287.10L67.00 287.10M164.73 386.40L164.73 393.40M63.80 277.14L67.00 277.14M174.53 386.40L174.53 389.60M63.80 271.31L67.00 271.31M180.27 386.40L180.27 389.60M63.80 267.17L67.00 267.17M184.34 386.40L184.34 389.60M62.50 263.96L67.00 263.96M187.49 386.40L187.49 390.90M63.80 261.34L67.00 261.34M190.07 386.40L190.07 389.60M63.80 259.13L67.00 259.13M192.25 386.40L192.25 389.60M63.80 257.21L67.00 257.21M194.14 386.40L194.14 389.60M63.80 255.51L67.00 255.51M195.81 386.40L195.81 389.60M60.50 254.00L67.00 254.00M197.30 386.40L197.30 393.40M214.10 386.10L220.60 386.10M220.60 386.10L220.60 393.10M217.40 376.14L220.60 376.14M230.44 386.10L230.44 389.30M217.40 370.32L220.60 370.32M236.19 386.10L236.19 389.30M217.40 366.19L220.60 366.19M240.27 386.10L240.27 389.30M216.10 362.98L220.60 362.98M243.44 386.10L243.44 390.60M217.40 360.36L220.60 360.36M246.03 386.10L246.03 389.30M217.40 358.15L220.60 358.15M248.21 386.10L248.21 389.30M217.40 356.23L220.60 356.23M250.11 386.10L250.11 389.30M217.40 354.54L220.60 354.54M251.78 386.10L251.78 389.30M214.10 353.03L220.60 353.03M253.28 386.10L253.28 393.10M217.40 343.07L220.60 343.07M263.11 386.10L263.11 389.30M217.40 337.24L220.60 337.24M268.86 386.10L268.86 389.30M217.40 333.11L220.60 333.11M272.95 386.10L272.95 389.30M216.10 329.91L220.60 329.91M276.11 386.10L276.11 390.60M217.40 327.29L220.60 327.29M278.70 386.10L278.70 389.30M217.40 325.07L220.60 325.07M280.89 386.10L280.89 389.30M217.40 323.16L220.60 323.16M282.78 386.10L282.78 389.30M217.40 321.46L220.60 321.46M284.45 386.10L284.45 389.30M214.10 319.95L220.60 319.95M285.95 386.10L285.95 393.10M217.40 309.99L220.60 309.99M295.79 386.10L295.79 389.30M217.40 304.17L220.60 304.17M301.54 386.10L301.54 389.30M217.40 300.04L220.60 300.04M305.62 386.10L305.62 389.30M216.10 296.83L220.60 296.83M308.79 386.10L308.79 390.60M217.40 294.21L220.60 294.21M311.38 386.10L311.38 389.30M217.40 292.00L220.60 292.00M313.56 386.10L313.56 389.30M217.40 290.08L220.60 290.08M315.46 386.10L315.46 389.30M217.40 288.39L220.60 288.39M317.13 386.10L317.13 389.30M214.10 286.88L220.60 286.88M318.62 386.10L318.62 393.10M217.40 276.92L220.60 276.92M328.46 386.10L328.46 389.30M217.40 271.09L220.60 271.09M334.21 386.10L334.21 389.30M217.40 266.96L220.60 266.96M338.30 386.10L338.30 389.30M216.10 263.76L220.60 263.76M341.46 386.10L341.46 390.60M217.40 261.14L220.60 261.14M344.05 386.10L344.05 389.30M217.40 258.92L220.60 258.92M346.24 386.10L346.24 389.30M217.40 257.01L220.60 257.01M348.13 386.10L348.13 389.30M217.40 255.31L220.60 255.31M349.80 386.10L349.80 389.30M214.10 253.80L220.60 253.80M351.30 386.10L351.30 393.10M366.40 385.70L372.90 385.70M372.90 385.70L372.90 392.70M369.70 375.76L372.90 375.76M382.77 385.70L382.77 388.90M369.70 369.94L372.90 369.94M388.54 385.70L388.54 388.90M369.70 365.82L372.90 365.82M392.63 385.70L392.63 388.90M368.40 362.62L372.90 362.62M395.81 385.70L395.81 390.20M369.70 360.00L372.90 360.00M398.40 385.70L398.40 388.90M369.70 357.79L372.90 357.79M400.60 385.70L400.60 388.90M369.70 355.88L372.90 355.88M402.50 385.70L402.50 388.90M369.70 354.19L372.90 354.19M404.18 385.70L404.18 388.90M366.40 352.68L372.90 352.68M405.67 385.70L405.67 392.70M369.70 342.73L372.90 342.73M415.54 385.70L415.54 388.90M369.70 336.92L372.90 336.92M421.31 385.70L421.31 388.90M369.70 332.79L372.90 332.79M425.41 385.70L425.41 388.90M368.40 329.59L372.90 329.59M428.58 385.70L428.58 390.20M369.70 326.98L372.90 326.98M431.18 385.70L431.18 388.90M369.70 324.77L372.90 324.77M433.37 385.70L433.37 388.90M369.70 322.85L372.90 322.85M435.27 385.70L435.27 388.90M369.70 321.16L372.90 321.16M436.95 385.70L436.95 388.90M366.40 319.65L372.90 319.65M438.45 385.70L438.45 392.70M369.70 309.71L372.90 309.71M448.32 385.70L448.32 388.90M369.70 303.89L372.90 303.89M454.09 385.70L454.09 388.90M369.70 299.77L372.90 299.77M458.18 385.70L458.18 388.90M368.40 296.57L372.90 296.57M461.36 385.70L461.36 390.20M369.70 293.95L372.90 293.95M463.95 385.70L463.95 388.90M369.70 291.74L372.90 291.74M466.15 385.70L466.15 388.90M369.70 289.83L372.90 289.83M468.05 385.70L468.05 388.90M369.70 288.14L372.90 288.14M469.73 385.70L469.73 388.90M366.40 286.62L372.90 286.62M471.23 385.70L471.23 392.70M369.70 276.68L372.90 276.68M481.09 385.70L481.09 388.90M369.70 270.87L372.90 270.87M486.86 385.70L486.86 388.90M369.70 266.74L372.90 266.74M490.96 385.70L490.96 388.90M368.40 263.54L372.90 263.54M494.13 385.70L494.13 390.20M369.70 260.93L372.90 260.93M496.73 385.70L496.73 388.90M369.70 258.72L372.90 258.72M498.92 385.70L498.92 388.90M369.70 256.80L372.90 256.80M500.82 385.70L500.82 388.90M369.70 255.11L372.90 255.11M502.50 385.70L502.50 388.90M366.40 253.60L372.90 253.60M504.00 385.70L504.00 392.70M60.50 550.20L67.00 550.20M67.00 550.20L67.00 557.20M63.80 540.25L67.00 540.25M76.82 550.20L76.82 553.40M63.80 534.43L67.00 534.43M82.57 550.20L82.57 553.40M63.80 530.30L67.00 530.30M86.64 550.20L86.64 553.40M62.50 527.10L67.00 527.10M89.80 550.20L89.80 554.70M63.80 524.48L67.00 524.48M92.39 550.20L92.39 553.40M63.80 522.27L67.00 522.27M94.57 550.20L94.57 553.40M63.80 520.35L67.00 520.35M96.46 550.20L96.46 553.40M63.80 518.66L67.00 518.66M98.13 550.20L98.13 553.40M60.50 517.15L67.00 517.15M99.62 550.20L99.62 557.20M63.80 507.20L67.00 507.20M109.45 550.20L109.45 553.40M63.80 501.38L67.00 501.38M115.19 550.20L115.19 553.40M63.80 497.25L67.00 497.25M119.27 550.20L119.27 553.40M62.50 494.05L67.00 494.05M122.43 550.20L122.43 554.70M63.80 491.43L67.00 491.43M125.01 550.20L125.01 553.40M63.80 489.22L67.00 489.22M127.20 550.20L127.20 553.40M63.80 487.30L67.00 487.30M129.09 550.20L129.09 553.40M63.80 485.61L67.00 485.61M130.76 550.20L130.76 553.40M60.50 484.10L67.00 484.10M132.25 550.20L132.25 557.20M63.80 474.15L67.00 474.15M142.07 550.20L142.07 553.40M63.80 468.33L67.00 468.33M147.82 550.20L147.82 553.40M63.80 464.20L67.00 464.20M151.89 550.20L151.89 553.40M62.50 461.00L67.00 461.00M155.05 550.20L155.05 554.70M63.80 458.38L67.00 458.38M157.64 550.20L157.64 553.40M63.80 456.17L67.00 456.17M159.82 550.20L159.82 553.40M63.80 454.25L67.00 454.25M161.71 550.20L161.71 553.40M63.80 452.56L67.00 452.56M163.38 550.20L163.38 553.40M60.50 451.05L67.00 451.05M164.88 550.20L164.88 557.20M63.80 441.10L67.00 441.10M174.70 550.20L174.70 553.40M63.80 435.28L67.00 435.28M180.44 550.20L180.44 553.40M63.80 431.15L67.00 431.15M184.52 550.20L184.52 553.40M62.50 427.95L67.00 427.95M187.68 550.20L187.68 554.70M63.80 425.33L67.00 425.33M190.26 550.20L190.26 553.40M63.80 423.12L67.00 423.12M192.45 550.20L192.45 553.40M63.80 421.20L67.00 421.20M194.34 550.20L194.34 553.40M63.80 419.51L67.00 419.51M196.01 550.20L196.01 553.40M60.50 418.00L67.00 418.00M197.50 550.20L197.50 557.20M215.20 549.70L221.70 549.70M221.70 549.70L221.70 556.70M218.50 539.74L221.70 539.74M231.51 549.70L231.51 552.90M218.50 533.91L221.70 533.91M237.25 549.70L237.25 552.90M218.50 529.77L221.70 529.77M241.33 549.70L241.33 552.90M217.20 526.56L221.70 526.56M244.49 549.70L244.49 554.20M218.50 523.94L221.70 523.94M247.07 549.70L247.07 552.90M218.50 521.73L221.70 521.73M249.25 549.70L249.25 552.90M218.50 519.81L221.70 519.81M251.14 549.70L251.14 552.90M218.50 518.11L221.70 518.11M252.81 549.70L252.81 552.90M215.20 516.60L221.70 516.60M254.30 549.70L254.30 556.70M218.50 506.64L221.70 506.64M264.11 549.70L264.11 552.90M218.50 500.81L221.70 500.81M269.85 549.70L269.85 552.90M218.50 496.67L221.70 496.67M273.93 549.70L273.93 552.90M217.20 493.46L221.70 493.46M277.09 549.70L277.09 554.20M218.50 490.84L221.70 490.84M279.67 549.70L279.67 552.90M218.50 488.63L221.70 488.63M281.85 549.70L281.85 552.90M218.50 486.71L221.70 486.71M283.74 549.70L283.74 552.90M218.50 485.01L221.70 485.01M285.41 549.70L285.41 552.90M215.20 483.50L221.70 483.50M286.90 549.70L286.90 556.70M218.50 473.54L221.70 473.54M296.71 549.70L296.71 552.90M218.50 467.71L221.70 467.71M302.45 549.70L302.45 552.90M218.50 463.57L221.70 463.57M306.53 549.70L306.53 552.90M217.20 460.36L221.70 460.36M309.69 549.70L309.69 554.20M218.50 457.74L221.70 457.74M312.27 549.70L312.27 552.90M218.50 455.53L221.70 455.53M314.45 549.70L314.45 552.90M218.50 453.61L221.70 453.61M316.34 549.70L316.34 552.90M218.50 451.91L221.70 451.91M318.01 549.70L318.01 552.90M215.20 450.40L221.70 450.40M319.50 549.70L319.50 556.70M218.50 440.44L221.70 440.44M329.31 549.70L329.31 552.90M218.50 434.61L221.70 434.61M335.05 549.70L335.05 552.90M218.50 430.47L221.70 430.47M339.13 549.70L339.13 552.90M217.20 427.26L221.70 427.26M342.29 549.70L342.29 554.20M218.50 424.64L221.70 424.64M344.87 549.70L344.87 552.90M218.50 422.43L221.70 422.43M347.05 549.70L347.05 552.90M218.50 420.51L221.70 420.51M348.94 549.70L348.94 552.90M218.50 418.81L221.70 418.81M350.61 549.70L350.61 552.90M215.20 417.30L221.70 417.30M352.10 549.70L352.10 556.70M368.00 548.70L374.50 548.70M374.50 548.70L374.50 555.70M371.30 538.75L374.50 538.75M384.31 548.70L384.31 551.90M371.30 532.93L374.50 532.93M390.05 548.70L390.05 551.90M371.30 528.80L374.50 528.80M394.13 548.70L394.13 551.90M370.00 525.60L374.50 525.60M397.29 548.70L397.29 553.20M371.30 522.98L374.50 522.98M399.87 548.70L399.87 551.90M371.30 520.77L374.50 520.77M402.05 548.70L402.05 551.90M371.30 518.85L374.50 518.85M403.94 548.70L403.94 551.90M371.30 517.16L374.50 517.16M405.61 548.70L405.61 551.90M368.00 515.65L374.50 515.65M407.10 548.70L407.10 555.70M371.30 505.70L374.50 505.70M416.91 548.70L416.91 551.90M371.30 499.88L374.50 499.88M422.65 548.70L422.65 551.90M371.30 495.75L374.50 495.75M426.73 548.70L426.73 551.90M370.00 492.55L374.50 492.55M429.89 548.70L429.89 553.20M371.30 489.93L374.50 489.93M432.47 548.70L432.47 551.90M371.30 487.72L374.50 487.72M434.65 548.70L434.65 551.90M371.30 485.80L374.50 485.80M436.54 548.70L436.54 551.90M371.30 484.11L374.50 484.11M438.21 548.70L438.21 551.90M368.00 482.60L374.50 482.60M439.70 548.70L439.70 555.70M371.30 472.65L374.50 472.65M449.51 548.70L449.51 551.90M371.30 466.83L374.50 466.83M455.25 548.70L455.25 551.90M371.30 462.70L374.50 462.70M459.33 548.70L459.33 551.90M370.00 459.50L374.50 459.50M462.49 548.70L462.49 553.20M371.30 456.88L374.50 456.88M465.07 548.70L465.07 551.90M371.30 454.67L374.50 454.67M467.25 548.70L467.25 551.90M371.30 452.75L374.50 452.75M469.14 548.70L469.14 551.90M371.30 451.06L374.50 451.06M470.81 548.70L470.81 551.90M368.00 449.55L374.50 449.55M472.30 548.70L472.30 555.70M371.30 439.60L374.50 439.60M482.11 548.70L482.11 551.90M371.30 433.78L374.50 433.78M487.85 548.70L487.85 551.90M371.30 429.65L374.50 429.65M491.93 548.70L491.93 551.90M370.00 426.45L374.50 426.45M495.09 548.70L495.09 553.20M371.30 423.83L374.50 423.83M497.67 548.70L497.67 551.90M371.30 421.62L374.50 421.62M499.85 548.70L499.85 551.90M371.30 419.70L374.50 419.70M501.74 548.70L501.74 551.90M371.30 418.01L374.50 418.01M503.41 548.70L503.41 551.90M368.00 416.50L374.50 416.50M504.90 548.70L504.90 555.70M60.00 740.75L66.50 740.75M66.50 740.75L66.50 747.75M63.30 730.83L66.50 730.83M76.32 740.75L76.32 743.95M63.30 725.02L66.50 725.02M82.07 740.75L82.07 743.95M63.30 720.90L66.50 720.90M86.14 740.75L86.14 743.95M62.00 717.71L66.50 717.71M89.30 740.75L89.30 745.25M63.30 715.10L66.50 715.10M91.89 740.75L91.89 743.95M63.30 712.89L66.50 712.89M94.07 740.75L94.07 743.95M63.30 710.98L66.50 710.98M95.96 740.75L95.96 743.95M63.30 709.30L66.50 709.30M97.63 740.75L97.63 743.95M60.00 707.79L66.50 707.79M99.12 740.75L99.12 747.75M63.30 697.86L66.50 697.86M108.95 740.75L108.95 743.95M63.30 692.06L66.50 692.06M114.69 740.75L114.69 743.95M63.30 687.94L66.50 687.94M118.77 740.75L118.77 743.95M62.00 684.75L66.50 684.75M121.93 740.75L121.93 745.25M63.30 682.14L66.50 682.14M124.51 740.75L124.51 743.95M63.30 679.93L66.50 679.93M126.70 740.75L126.70 743.95M63.30 678.02L66.50 678.02M128.59 740.75L128.59 743.95M63.30 676.33L66.50 676.33M130.26 740.75L130.26 743.95M60.00 674.83L66.50 674.83M131.75 740.75L131.75 747.75M63.30 664.90L66.50 664.90M141.57 740.75L141.57 743.95M63.30 659.10L66.50 659.10M147.32 740.75L147.32 743.95M63.30 654.98L66.50 654.98M151.39 740.75L151.39 743.95M62.00 651.79L66.50 651.79M154.55 740.75L154.55 745.25M63.30 649.18L66.50 649.18M157.14 740.75L157.14 743.95M63.30 646.97L66.50 646.97M159.32 740.75L159.32 743.95M63.30 645.06L66.50 645.06M161.21 740.75L161.21 743.95M63.30 643.37L66.50 643.37M162.88 740.75L162.88 743.95M60.00 641.86L66.50 641.86M164.38 740.75L164.38 747.75M63.30 631.94L66.50 631.94M174.20 740.75L174.20 743.95M63.30 626.14L66.50 626.14M179.94 740.75L179.94 743.95M63.30 622.02L66.50 622.02M184.02 740.75L184.02 743.95M62.00 618.82L66.50 618.82M187.18 740.75L187.18 745.25M63.30 616.21L66.50 616.21M189.76 740.75L189.76 743.95M63.30 614.01L66.50 614.01M191.95 740.75L191.95 743.95M63.30 612.09L66.50 612.09M193.84 740.75L193.84 743.95M63.30 610.41L66.50 610.41M195.51 740.75L195.51 743.95M60.00 608.90L66.50 608.90M197.00 740.75L197.00 747.75M214.70 740.30L221.20 740.30M221.20 740.30L221.20 747.30M218.00 730.37L221.20 730.37M231.05 740.30L231.05 743.50M218.00 724.57L221.20 724.57M236.81 740.30L236.81 743.50M218.00 720.45L221.20 720.45M240.90 740.30L240.90 743.50M216.70 717.25L221.20 717.25M244.07 740.30L244.07 744.80M218.00 714.64L221.20 714.64M246.66 740.30L246.66 743.50M218.00 712.43L221.20 712.43M248.86 740.30L248.86 743.50M218.00 710.52L221.20 710.52M250.75 740.30L250.75 743.50M218.00 708.83L221.20 708.83M252.43 740.30L252.43 743.50M214.70 707.32L221.20 707.32M253.93 740.30L253.93 747.30M218.00 697.40L221.20 697.40M263.78 740.30L263.78 743.50M218.00 691.59L221.20 691.59M269.54 740.30L269.54 743.50M218.00 687.47L221.20 687.47M273.63 740.30L273.63 743.50M216.70 684.28L221.20 684.28M276.80 740.30L276.80 744.80M218.00 681.67L221.20 681.67M279.39 740.30L279.39 743.50M218.00 679.46L221.20 679.46M281.58 740.30L281.58 743.50M218.00 677.55L221.20 677.55M283.48 740.30L283.48 743.50M218.00 675.86L221.20 675.86M285.15 740.30L285.15 743.50M214.70 674.35L221.20 674.35M286.65 740.30L286.65 747.30M218.00 664.42L221.20 664.42M296.50 740.30L296.50 743.50M218.00 658.62L221.20 658.62M302.26 740.30L302.26 743.50M218.00 654.50L221.20 654.50M306.35 740.30L306.35 743.50M216.70 651.30L221.20 651.30M309.52 740.30L309.52 744.80M218.00 648.69L221.20 648.69M312.11 740.30L312.11 743.50M218.00 646.48L221.20 646.48M314.31 740.30L314.31 743.50M218.00 644.57L221.20 644.57M316.20 740.30L316.20 743.50M218.00 642.88L221.20 642.88M317.88 740.30L317.88 743.50M214.70 641.38L221.20 641.38M319.38 740.30L319.38 747.30M218.00 631.45L221.20 631.45M329.23 740.30L329.23 743.50M218.00 625.64L221.20 625.64M334.99 740.30L334.99 743.50M218.00 621.52L221.20 621.52M339.08 740.30L339.08 743.50M216.70 618.33L221.20 618.33M342.25 740.30L342.25 744.80M218.00 615.72L221.20 615.72M344.84 740.30L344.84 743.50M218.00 613.51L221.20 613.51M347.03 740.30L347.03 743.50M218.00 611.60L221.20 611.60M348.93 740.30L348.93 743.50M218.00 609.91L221.20 609.91M350.60 740.30L350.60 743.50M214.70 608.40L221.20 608.40M352.10 740.30L352.10 747.30M368.20 739.70L374.70 739.70M374.70 739.70L374.70 746.70M371.50 729.76L374.70 729.76M384.53 739.70L384.53 742.90M371.50 723.94L374.70 723.94M390.28 739.70L390.28 742.90M371.50 719.82L374.70 719.82M394.36 739.70L394.36 742.90M370.20 716.62L374.70 716.62M397.52 739.70L397.52 744.20M371.50 714.00L374.70 714.00M400.11 739.70L400.11 742.90M371.50 711.79L374.70 711.79M402.29 739.70L402.29 742.90M371.50 709.88L374.70 709.88M404.19 739.70L404.19 742.90M371.50 708.19L374.70 708.19M405.86 739.70L405.86 742.90M368.20 706.68L374.70 706.68M407.35 739.70L407.35 746.70M371.50 696.73L374.70 696.73M417.18 739.70L417.18 742.90M371.50 690.92L374.70 690.92M422.93 739.70L422.93 742.90M371.50 686.79L374.70 686.79M427.01 739.70L427.01 742.90M370.20 683.59L374.70 683.59M430.17 739.70L430.17 744.20M371.50 680.98L374.70 680.98M432.76 739.70L432.76 742.90M371.50 678.77L374.70 678.77M434.94 739.70L434.94 742.90M371.50 676.85L374.70 676.85M436.84 739.70L436.84 742.90M371.50 675.16L374.70 675.16M438.51 739.70L438.51 742.90M368.20 673.65L374.70 673.65M440.00 739.70L440.00 746.70M371.50 663.71L374.70 663.71M449.83 739.70L449.83 742.90M371.50 657.89L374.70 657.89M455.58 739.70L455.58 742.90M371.50 653.77L374.70 653.77M459.66 739.70L459.66 742.90M370.20 650.57L374.70 650.57M462.82 739.70L462.82 744.20M371.50 647.95L374.70 647.95M465.41 739.70L465.41 742.90M371.50 645.74L374.70 645.74M467.59 739.70L467.59 742.90M371.50 643.83L374.70 643.83M469.49 739.70L469.49 742.90M371.50 642.14L374.70 642.14M471.16 739.70L471.16 742.90M368.20 640.62L374.70 640.62M472.65 739.70L472.65 746.70M371.50 630.68L374.70 630.68M482.48 739.70L482.48 742.90M371.50 624.87L374.70 624.87M488.23 739.70L488.23 742.90M371.50 620.74L374.70 620.74M492.31 739.70L492.31 742.90M370.20 617.54L374.70 617.54M495.47 739.70L495.47 744.20M371.50 614.93L374.70 614.93M498.06 739.70L498.06 742.90M371.50 612.72L374.70 612.72M500.24 739.70L500.24 742.90M371.50 610.80L374.70 610.80M502.14 739.70L502.14 742.90M371.50 609.11L374.70 609.11M503.81 739.70L503.81 742.90M368.20 607.60L374.70 607.60M505.30 739.70L505.30 746.70M61.40 903.70L67.90 903.70M67.90 903.70L67.90 910.70M64.70 893.77L67.90 893.77M77.73 903.70L77.73 906.90M64.70 887.96L67.90 887.96M83.48 903.70L83.48 906.90M64.70 883.84L67.90 883.84M87.56 903.70L87.56 906.90M63.40 880.64L67.90 880.64M90.72 903.70L90.72 908.20M64.70 878.03L67.90 878.03M93.31 903.70L93.31 906.90M64.70 875.82L67.90 875.82M95.49 903.70L95.49 906.90M64.70 873.91L67.90 873.91M97.39 903.70L97.39 906.90M64.70 872.22L67.90 872.22M99.06 903.70L99.06 906.90M61.40 870.71L67.90 870.71M100.55 903.70L100.55 910.70M64.70 860.78L67.90 860.78M110.38 903.70L110.38 906.90M64.70 854.97L67.90 854.97M116.13 903.70L116.13 906.90M64.70 850.85L67.90 850.85M120.21 903.70L120.21 906.90M63.40 847.66L67.90 847.66M123.37 903.70L123.37 908.20M64.70 845.04L67.90 845.04M125.96 903.70L125.96 906.90M64.70 842.83L67.90 842.83M128.14 903.70L128.14 906.90M64.70 840.92L67.90 840.92M130.04 903.70L130.04 906.90M64.70 839.23L67.90 839.23M131.71 903.70L131.71 906.90M61.40 837.73L67.90 837.73M133.20 903.70L133.20 910.70M64.70 827.79L67.90 827.79M143.03 903.70L143.03 906.90M64.70 821.99L67.90 821.99M148.78 903.70L148.78 906.90M64.70 817.86L67.90 817.86M152.86 903.70L152.86 906.90M63.40 814.67L67.90 814.67M156.02 903.70L156.02 908.20M64.70 812.06L67.90 812.06M158.61 903.70L158.61 906.90M64.70 809.85L67.90 809.85M160.79 903.70L160.79 906.90M64.70 807.93L67.90 807.93M162.69 903.70L162.69 906.90M64.70 806.25L67.90 806.25M164.36 903.70L164.36 906.90M61.40 804.74L67.90 804.74M165.85 903.70L165.85 910.70M64.70 794.81L67.90 794.81M175.68 903.70L175.68 906.90M64.70 789.00L67.90 789.00M181.43 903.70L181.43 906.90M64.70 784.88L67.90 784.88M185.51 903.70L185.51 906.90M63.40 781.68L67.90 781.68M188.67 903.70L188.67 908.20M64.70 779.07L67.90 779.07M191.26 903.70L191.26 906.90M64.70 776.86L67.90 776.86M193.44 903.70L193.44 906.90M64.70 774.95L67.90 774.95M195.34 903.70L195.34 906.90M64.70 773.26L67.90 773.26M197.01 903.70L197.01 906.90M61.40 771.75L67.90 771.75M198.50 903.70L198.50 910.70M216.10 903.30L222.60 903.30M222.60 903.30L222.60 910.30M219.40 893.37L222.60 893.37M232.44 903.30L232.44 906.50M219.40 887.55L222.60 887.55M238.20 903.30L238.20 906.50M219.40 883.43L222.60 883.43M242.29 903.30L242.29 906.50M218.10 880.23L222.60 880.23M245.46 903.30L245.46 907.80M219.40 877.62L222.60 877.62M248.05 903.30L248.05 906.50M219.40 875.41L222.60 875.41M250.23 903.30L250.23 906.50M219.40 873.50L222.60 873.50M252.13 903.30L252.13 906.50M219.40 871.81L222.60 871.81M253.80 903.30L253.80 906.50M216.10 870.30L222.60 870.30M255.30 903.30L255.30 910.30M219.40 860.37L222.60 860.37M265.14 903.30L265.14 906.50M219.40 854.55L222.60 854.55M270.90 903.30L270.90 906.50M219.40 850.43L222.60 850.43M274.99 903.30L274.99 906.50M218.10 847.23L222.60 847.23M278.16 903.30L278.16 907.80M219.40 844.62L222.60 844.62M280.75 903.30L280.75 906.50M219.40 842.41L222.60 842.41M282.93 903.30L282.93 906.50M219.40 840.50L222.60 840.50M284.83 903.30L284.83 906.50M219.40 838.81L222.60 838.81M286.50 903.30L286.50 906.50M216.10 837.30L222.60 837.30M288.00 903.30L288.00 910.30M219.40 827.37L222.60 827.37M297.84 903.30L297.84 906.50M219.40 821.55L222.60 821.55M303.60 903.30L303.60 906.50M219.40 817.43L222.60 817.43M307.69 903.30L307.69 906.50M218.10 814.23L222.60 814.23M310.86 903.30L310.86 907.80M219.40 811.62L222.60 811.62M313.45 903.30L313.45 906.50M219.40 809.41L222.60 809.41M315.63 903.30L315.63 906.50M219.40 807.50L222.60 807.50M317.53 903.30L317.53 906.50M219.40 805.81L222.60 805.81M319.20 903.30L319.20 906.50M216.10 804.30L222.60 804.30M320.70 903.30L320.70 910.30M219.40 794.37L222.60 794.37M330.54 903.30L330.54 906.50M219.40 788.55L222.60 788.55M336.30 903.30L336.30 906.50M219.40 784.43L222.60 784.43M340.39 903.30L340.39 906.50M218.10 781.23L222.60 781.23M343.56 903.30L343.56 907.80M219.40 778.62L222.60 778.62M346.15 903.30L346.15 906.50M219.40 776.41L222.60 776.41M348.33 903.30L348.33 906.50M219.40 774.50L222.60 774.50M350.23 903.30L350.23 906.50M219.40 772.81L222.60 772.81M351.90 903.30L351.90 906.50M216.10 771.30L222.60 771.30M353.40 903.30L353.40 910.30M369.20 903.00L375.70 903.00M375.70 903.00L375.70 910.00M372.50 893.04L375.70 893.04M385.52 903.00L385.52 906.20M372.50 887.22L375.70 887.22M391.27 903.00L391.27 906.20M372.50 883.09L375.70 883.09M395.34 903.00L395.34 906.20M371.20 879.88L375.70 879.88M398.50 903.00L398.50 907.50M372.50 877.26L375.70 877.26M401.09 903.00L401.09 906.20M372.50 875.05L375.70 875.05M403.27 903.00L403.27 906.20M372.50 873.13L375.70 873.13M405.16 903.00L405.16 906.20M372.50 871.44L375.70 871.44M406.83 903.00L406.83 906.20M369.20 869.92L375.70 869.92M408.32 903.00L408.32 910.00M372.50 859.97L375.70 859.97M418.15 903.00L418.15 906.20M372.50 854.14L375.70 854.14M423.89 903.00L423.89 906.20M372.50 850.01L375.70 850.01M427.97 903.00L427.97 906.20M371.20 846.81L375.70 846.81M431.13 903.00L431.13 907.50M372.50 844.19L375.70 844.19M433.71 903.00L433.71 906.20M372.50 841.97L375.70 841.97M435.90 903.00L435.90 906.20M372.50 840.06L375.70 840.06M437.79 903.00L437.79 906.20M372.50 838.36L375.70 838.36M439.46 903.00L439.46 906.20M369.20 836.85L375.70 836.85M440.95 903.00L440.95 910.00M372.50 826.89L375.70 826.89M450.77 903.00L450.77 906.20M372.50 821.07L375.70 821.07M456.52 903.00L456.52 906.20M372.50 816.94L375.70 816.94M460.59 903.00L460.59 906.20M371.20 813.73L375.70 813.73M463.75 903.00L463.75 907.50M372.50 811.11L375.70 811.11M466.34 903.00L466.34 906.20M372.50 808.90L375.70 808.90M468.52 903.00L468.52 906.20M372.50 806.98L375.70 806.98M470.41 903.00L470.41 906.20M372.50 805.29L375.70 805.29M472.08 903.00L472.08 906.20M369.20 803.78L375.70 803.78M473.57 903.00L473.57 910.00M372.50 793.82L375.70 793.82M483.40 903.00L483.40 906.20M372.50 787.99L375.70 787.99M489.14 903.00L489.14 906.20M372.50 783.86L375.70 783.86M493.22 903.00L493.22 906.20M371.20 780.66L375.70 780.66M496.38 903.00L496.38 907.50M372.50 778.04L375.70 778.04M498.96 903.00L498.96 906.20M372.50 775.82L375.70 775.82M501.15 903.00L501.15 906.20M372.50 773.91L375.70 773.91M503.04 903.00L503.04 906.20M372.50 772.21L375.70 772.21M504.71 903.00L504.71 906.20M369.20 770.70L375.70 770.70M506.20 903.00L506.20 910.00" stroke="#000" stroke-width="1.3" fill="none"/><g font-family="Liberation Sans, sans-serif" fill="#000" stroke="#000" stroke-width="0.35"><text x="65.1" y="198.6" font-size="11.0" text-anchor="middle" font-weight="bold">0</text><text x="91.5" y="198.6" font-size="11.0" text-anchor="middle" font-weight="bold">200</text><text x="118.0" y="198.6" font-size="11.0" text-anchor="middle" font-weight="bold">400</text><text x="144.4" y="198.6" font-size="11.0" text-anchor="middle" font-weight="bold">600</text><text x="170.9" y="198.6" font-size="11.0" text-anchor="middle" font-weight="bold">800</text><text x="197.3" y="198.6" font-size="11.0" text-anchor="middle" font-weight="bold">1000</text><text x="42.8" y="182.6" font-size="11.0" text-anchor="middle" font-weight="bold">0</text><text x="42.8" y="156.0" font-size="11.0" text-anchor="middle" font-weight="bold">200</text><text x="42.8" y="129.4" font-size="11.0" text-anchor="middle" font-weight="bold">400</text><text x="42.8" y="102.8" font-size="11.0" text-anchor="middle" font-weight="bold">600</text><text x="42.8" y="76.2" font-size="11.0" text-anchor="middle" font-weight="bold">800</text><text x="42.8" y="49.6" font-size="11.0" text-anchor="middle" font-weight="bold">1000</text><text x="218.1" y="198.6" font-size="11.0" text-anchor="middle" font-weight="bold">0</text><text x="244.6" y="198.6" font-size="11.0" text-anchor="middle" font-weight="bold">200</text><text x="271.1" y="198.6" font-size="11.0" text-anchor="middle" font-weight="bold">400</text><text x="297.5" y="198.6" font-size="11.0" text-anchor="middle" font-weight="bold">600</text><text x="324.0" y="198.6" font-size="11.0" text-anchor="middle" font-weight="bold">800</text><text x="350.5" y="198.6" font-size="11.0" text-anchor="middle" font-weight="bold">1000</text><text x="371.1" y="198.6" font-size="11.0" text-anchor="middle" font-weight="bold">0</text><text x="397.6" y="198.6" font-size="11.0" text-anchor="middle" font-weight="bold">200</text><text x="424.1" y="198.6" font-size="11.0" text-anchor="middle" font-weight="bold">400</text><text x="450.5" y="198.6" font-size="11.0" text-anchor="middle" font-weight="bold">600</text><text x="477.0" y="198.6" font-size="11.0" text-anchor="middle" font-weight="bold">800</text><text x="503.5" y="198.6" font-size="11.0" text-anchor="middle" font-weight="bold">1000</text><text x="112.3" y="31.5" font-size="13.0" text-anchor="middle" font-weight="bold" letter-spacing="1.30">MEDIUM</text><text x="285.0" y="26.9" font-size="12.8" text-anchor="middle" font-weight="bold" letter-spacing="1.30">+&#160; CD95</text><text x="429.7" y="10.6" font-size="12.8" text-anchor="middle" font-weight="bold" letter-spacing="2.60">+CD95</text><text x="430.0" y="29.8" font-size="12.5" text-anchor="middle" font-weight="bold" letter-spacing="2.70">+VAD-FMK</text><text transform="translate(25.2 98.4) rotate(-90)" font-size="23.8" text-anchor="middle" font-weight="normal">FSC</text><text x="297.5" y="222.3" font-size="23.5" text-anchor="middle" font-weight="normal">SSC</text><text x="0.6 12.5 25.6" y="238.6" font-size="17" font-weight="bold">24h</text><text x="0.5 13.7 26.2" y="591.2" font-size="17" font-weight="bold">48h</text><text transform="translate(23.8 321.3) rotate(-90)" font-size="16.0" text-anchor="middle" font-weight="bold" letter-spacing="2.60" word-spacing="-2.40" stroke-width="0.5">Mouse IgG2a</text><text transform="translate(28.2 484.4) rotate(-90)" font-size="18.0" text-anchor="middle" font-weight="bold" letter-spacing="1.30" word-spacing="0.00" stroke-width="0.5">CD10</text><text transform="translate(24.6 682.9) rotate(-90)" font-size="16.0" text-anchor="middle" font-weight="bold" letter-spacing="2.30" word-spacing="-2.20" stroke-width="0.5">Mouse IgG2a</text><text transform="translate(28.8 845.2) rotate(-90)" font-size="18.3" text-anchor="middle" font-weight="bold" letter-spacing="1.30" word-spacing="0.00" stroke-width="0.5">CD10</text><text transform="translate(39.36 395.20) scale(0.83 1)" font-size="16.2" font-weight="bold" letter-spacing="-0.6" stroke-width="0.55">10</text><text transform="translate(52.81 388.00) scale(0.83 1)" font-size="12.6" font-weight="bold" stroke-width="0.45">0</text><text transform="translate(39.36 362.10) scale(0.83 1)" font-size="16.2" font-weight="bold" letter-spacing="-0.6" stroke-width="0.55">10</text><text transform="translate(52.81 354.90) scale(0.83 1)" font-size="12.6" font-weight="bold" stroke-width="0.45">1</text><text transform="translate(39.36 329.00) scale(0.83 1)" font-size="16.2" font-weight="bold" letter-spacing="-0.6" stroke-width="0.55">10</text><text transform="translate(52.81 321.80) scale(0.83 1)" font-size="12.6" font-weight="bold" stroke-width="0.45">2</text><text transform="translate(39.36 295.90) scale(0.83 1)" font-size="16.2" font-weight="bold" letter-spacing="-0.6" stroke-width="0.55">10</text><text transform="translate(52.81 288.70) scale(0.83 1)" font-size="12.6" font-weight="bold" stroke-width="0.45">3</text><text transform="translate(39.36 262.80) scale(0.83 1)" font-size="16.2" font-weight="bold" letter-spacing="-0.6" stroke-width="0.55">10</text><text transform="translate(52.81 255.60) scale(0.83 1)" font-size="12.6" font-weight="bold" stroke-width="0.45">4</text><text transform="translate(39.36 559.00) scale(0.83 1)" font-size="16.2" font-weight="bold" letter-spacing="-0.6" stroke-width="0.55">10</text><text transform="translate(52.81 551.80) scale(0.83 1)" font-size="12.6" font-weight="bold" stroke-width="0.45">0</text><text transform="translate(39.36 525.95) scale(0.83 1)" font-size="16.2" font-weight="bold" letter-spacing="-0.6" stroke-width="0.55">10</text><text transform="translate(52.81 518.75) scale(0.83 1)" font-size="12.6" font-weight="bold" stroke-width="0.45">1</text><text transform="translate(39.36 492.90) scale(0.83 1)" font-size="16.2" font-weight="bold" letter-spacing="-0.6" stroke-width="0.55">10</text><text transform="translate(52.81 485.70) scale(0.83 1)" font-size="12.6" font-weight="bold" stroke-width="0.45">2</text><text transform="translate(39.36 459.85) scale(0.83 1)" font-size="16.2" font-weight="bold" letter-spacing="-0.6" stroke-width="0.55">10</text><text transform="translate(52.81 452.65) scale(0.83 1)" font-size="12.6" font-weight="bold" stroke-width="0.45">3</text><text transform="translate(39.36 426.80) scale(0.83 1)" font-size="16.2" font-weight="bold" letter-spacing="-0.6" stroke-width="0.55">10</text><text transform="translate(52.81 419.60) scale(0.83 1)" font-size="12.6" font-weight="bold" stroke-width="0.45">4</text><text transform="translate(39.36 749.55) scale(0.83 1)" font-size="16.2" font-weight="bold" letter-spacing="-0.6" stroke-width="0.55">10</text><text transform="translate(52.81 742.35) scale(0.83 1)" font-size="12.6" font-weight="bold" stroke-width="0.45">0</text><text transform="translate(39.36 716.59) scale(0.83 1)" font-size="16.2" font-weight="bold" letter-spacing="-0.6" stroke-width="0.55">10</text><text transform="translate(52.81 709.39) scale(0.83 1)" font-size="12.6" font-weight="bold" stroke-width="0.45">1</text><text transform="translate(39.36 683.62) scale(0.83 1)" font-size="16.2" font-weight="bold" letter-spacing="-0.6" stroke-width="0.55">10</text><text transform="translate(52.81 676.42) scale(0.83 1)" font-size="12.6" font-weight="bold" stroke-width="0.45">2</text><text transform="translate(39.36 650.66) scale(0.83 1)" font-size="16.2" font-weight="bold" letter-spacing="-0.6" stroke-width="0.55">10</text><text transform="translate(52.81 643.46) scale(0.83 1)" font-size="12.6" font-weight="bold" stroke-width="0.45">3</text><text transform="translate(39.36 617.70) scale(0.83 1)" font-size="16.2" font-weight="bold" letter-spacing="-0.6" stroke-width="0.55">10</text><text transform="translate(52.81 610.50) scale(0.83 1)" font-size="12.6" font-weight="bold" stroke-width="0.45">4</text><text transform="translate(39.36 912.50) scale(0.83 1)" font-size="16.2" font-weight="bold" letter-spacing="-0.6" stroke-width="0.55">10</text><text transform="translate(52.81 905.30) scale(0.83 1)" font-size="12.6" font-weight="bold" stroke-width="0.45">0</text><text transform="translate(39.36 879.51) scale(0.83 1)" font-size="16.2" font-weight="bold" letter-spacing="-0.6" stroke-width="0.55">10</text><text transform="translate(52.81 872.31) scale(0.83 1)" font-size="12.6" font-weight="bold" stroke-width="0.45">1</text><text transform="translate(39.36 846.52) scale(0.83 1)" font-size="16.2" font-weight="bold" letter-spacing="-0.6" stroke-width="0.55">10</text><text transform="translate(52.81 839.32) scale(0.83 1)" font-size="12.6" font-weight="bold" stroke-width="0.45">2</text><text transform="translate(39.36 813.54) scale(0.83 1)" font-size="16.2" font-weight="bold" letter-spacing="-0.6" stroke-width="0.55">10</text><text transform="translate(52.81 806.34) scale(0.83 1)" font-size="12.6" font-weight="bold" stroke-width="0.45">3</text><text transform="translate(39.36 780.55) scale(0.83 1)" font-size="16.2" font-weight="bold" letter-spacing="-0.6" stroke-width="0.55">10</text><text transform="translate(52.81 773.35) scale(0.83 1)" font-size="12.6" font-weight="bold" stroke-width="0.45">4</text><text transform="translate(59.76 931.80) scale(0.83 1)" font-size="16.2" font-weight="bold" letter-spacing="-0.6" stroke-width="0.55">10</text><text transform="translate(73.21 924.60) scale(0.83 1)" font-size="12.6" font-weight="bold" stroke-width="0.45">0</text><text transform="translate(92.41 931.80) scale(0.83 1)" font-size="16.2" font-weight="bold" letter-spacing="-0.6" stroke-width="0.55">10</text><text transform="translate(105.86 924.60) scale(0.83 1)" font-size="12.6" font-weight="bold" stroke-width="0.45">1</text><text transform="translate(125.06 931.80) scale(0.83 1)" font-size="16.2" font-weight="bold" letter-spacing="-0.6" stroke-width="0.55">10</text><text transform="translate(138.51 924.60) scale(0.83 1)" font-size="12.6" font-weight="bold" stroke-width="0.45">2</text><text transform="translate(157.71 931.80) scale(0.83 1)" font-size="16.2" font-weight="bold" letter-spacing="-0.6" stroke-width="0.55">10</text><text transform="translate(171.16 924.60) scale(0.83 1)" font-size="12.6" font-weight="bold" stroke-width="0.45">3</text><text transform="translate(190.36 931.80) scale(0.83 1)" font-size="16.2" font-weight="bold" letter-spacing="-0.6" stroke-width="0.55">10</text><text transform="translate(203.81 924.60) scale(0.83 1)" font-size="12.6" font-weight="bold" stroke-width="0.45">4</text><text transform="translate(214.46 931.80) scale(0.83 1)" font-size="16.2" font-weight="bold" letter-spacing="-0.6" stroke-width="0.55">10</text><text transform="translate(227.91 924.60) scale(0.83 1)" font-size="12.6" font-weight="bold" stroke-width="0.45">0</text><text transform="translate(247.16 931.80) scale(0.83 1)" font-size="16.2" font-weight="bold" letter-spacing="-0.6" stroke-width="0.55">10</text><text transform="translate(260.61 924.60) scale(0.83 1)" font-size="12.6" font-weight="bold" stroke-width="0.45">1</text><text transform="translate(279.86 931.80) scale(0.83 1)" font-size="16.2" font-weight="bold" letter-spacing="-0.6" stroke-width="0.55">10</text><text transform="translate(293.31 924.60) scale(0.83 1)" font-size="12.6" font-weight="bold" stroke-width="0.45">2</text><text transform="translate(312.56 931.80) scale(0.83 1)" font-size="16.2" font-weight="bold" letter-spacing="-0.6" stroke-width="0.55">10</text><text transform="translate(326.01 924.60) scale(0.83 1)" font-size="12.6" font-weight="bold" stroke-width="0.45">3</text><text transform="translate(345.26 931.80) scale(0.83 1)" font-size="16.2" font-weight="bold" letter-spacing="-0.6" stroke-width="0.55">10</text><text transform="translate(358.71 924.60) scale(0.83 1)" font-size="12.6" font-weight="bold" stroke-width="0.45">4</text><text transform="translate(367.56 931.80) scale(0.83 1)" font-size="16.2" font-weight="bold" letter-spacing="-0.6" stroke-width="0.55">10</text><text transform="translate(381.01 924.60) scale(0.83 1)" font-size="12.6" font-weight="bold" stroke-width="0.45">0</text><text transform="translate(400.18 931.80) scale(0.83 1)" font-size="16.2" font-weight="bold" letter-spacing="-0.6" stroke-width="0.55">10</text><text transform="translate(413.64 924.60) scale(0.83 1)" font-size="12.6" font-weight="bold" stroke-width="0.45">1</text><text transform="translate(432.81 931.80) scale(0.83 1)" font-size="16.2" font-weight="bold" letter-spacing="-0.6" stroke-width="0.55">10</text><text transform="translate(446.26 924.60) scale(0.83 1)" font-size="12.6" font-weight="bold" stroke-width="0.45">2</text><text transform="translate(465.43 931.80) scale(0.83 1)" font-size="16.2" font-weight="bold" letter-spacing="-0.6" stroke-width="0.55">10</text><text transform="translate(478.89 924.60) scale(0.83 1)" font-size="12.6" font-weight="bold" stroke-width="0.45">3</text><text transform="translate(498.06 931.80) scale(0.83 1)" font-size="16.2" font-weight="bold" letter-spacing="-0.6" stroke-width="0.55">10</text><text transform="translate(511.51 924.60) scale(0.83 1)" font-size="12.6" font-weight="bold" stroke-width="0.45">4</text><text x="292.0" y="964.0" font-size="15.2" text-anchor="middle" font-weight="bold" letter-spacing="2.75">ANNEXIN-V</text><text x="165.6" y="352.2" font-size="11.6" text-anchor="start" font-weight="bold" letter-spacing="2.00" stroke-width="0.5">11</text><text x="181.8" y="352.2" font-size="12.0" text-anchor="start" font-weight="bold" stroke-width="0.45">%</text><text x="318.9" y="352.5" font-size="11.6" text-anchor="start" font-weight="bold" letter-spacing="1.00" stroke-width="0.5">80</text><text x="336.4" y="352.5" font-size="12.0" text-anchor="start" font-weight="bold" stroke-width="0.45">%</text><text x="464.7" y="352.5" font-size="11.6" text-anchor="start" font-weight="bold" letter-spacing="1.00" stroke-width="0.5">30</text><text x="481.7" y="352.5" font-size="12.0" text-anchor="start" font-weight="bold" stroke-width="0.45">%</text><text x="165.1" y="440.7" font-size="11.6" text-anchor="start" font-weight="bold" letter-spacing="1.00" stroke-width="0.5">6</text><text x="178.5" y="440.7" font-size="12.0" text-anchor="start" font-weight="bold" stroke-width="0.45">%</text><text x="165.1" y="509.5" font-size="11.6" text-anchor="start" font-weight="bold" letter-spacing="1.00" stroke-width="0.5">5</text><text x="178.5" y="509.5" font-size="12.0" text-anchor="start" font-weight="bold" stroke-width="0.45">%</text><text x="312.7" y="440.3" font-size="11.6" text-anchor="start" font-weight="bold" letter-spacing="1.00" stroke-width="0.5">31</text><text x="334.3" y="440.3" font-size="12.0" text-anchor="start" font-weight="bold" stroke-width="0.45">%</text><text x="311.9" y="508.9" font-size="11.6" text-anchor="start" font-weight="bold" letter-spacing="1.00" stroke-width="0.5">52</text><text x="334.3" y="508.9" font-size="12.0" text-anchor="start" font-weight="bold" stroke-width="0.45">%</text><text x="464.8" y="439.5" font-size="11.6" text-anchor="start" font-weight="bold" letter-spacing="1.00" stroke-width="0.5">14</text><text x="486.5" y="439.5" font-size="12.0" text-anchor="start" font-weight="bold" stroke-width="0.45">%</text><text x="464.7" y="507.6" font-size="11.6" text-anchor="start" font-weight="bold" letter-spacing="2.00" stroke-width="0.5">11</text><text x="481.7" y="507.6" font-size="12.0" text-anchor="start" font-weight="bold" stroke-width="0.45">%</text><text x="165.1" y="707.2" font-size="11.6" text-anchor="start" font-weight="bold" letter-spacing="1.00" stroke-width="0.5">9</text><text x="173.1" y="707.2" font-size="12.0" text-anchor="start" font-weight="bold" stroke-width="0.45">%</text><text x="319.4" y="710.2" font-size="11.6" text-anchor="start" font-weight="bold" letter-spacing="1.00" stroke-width="0.5">80</text><text x="337.0" y="710.2" font-size="12.0" text-anchor="start" font-weight="bold" stroke-width="0.45">%</text><text x="471.4" y="706.1" font-size="11.6" text-anchor="start" font-weight="bold" letter-spacing="1.00" stroke-width="0.5">37</text><text x="488.9" y="706.1" font-size="12.0" text-anchor="start" font-weight="bold" stroke-width="0.45">%</text><text x="165.9" y="793.8" font-size="11.6" text-anchor="start" font-weight="bold" letter-spacing="1.00" stroke-width="0.5">6</text><text x="178.5" y="793.8" font-size="12.0" text-anchor="start" font-weight="bold" stroke-width="0.45">%</text><text x="165.9" y="862.7" font-size="11.6" text-anchor="start" font-weight="bold" letter-spacing="1.00" stroke-width="0.5">5</text><text x="178.5" y="862.7" font-size="12.0" text-anchor="start" font-weight="bold" stroke-width="0.45">%</text><text x="313.0" y="793.8" font-size="11.6" text-anchor="start" font-weight="bold" letter-spacing="1.00" stroke-width="0.5">62</text><text x="335.0" y="793.8" font-size="12.0" text-anchor="start" font-weight="bold" stroke-width="0.45">%</text><text x="313.0" y="862.5" font-size="11.6" text-anchor="start" font-weight="bold" letter-spacing="1.00" stroke-width="0.5">20</text><text x="335.0" y="862.5" font-size="12.0" text-anchor="start" font-weight="bold" stroke-width="0.45">%</text><text x="466.0" y="793.8" font-size="11.6" text-anchor="start" font-weight="bold" letter-spacing="1.00" stroke-width="0.5">13</text><text x="487.7" y="793.8" font-size="12.0" text-anchor="start" font-weight="bold" stroke-width="0.45">%</text><text x="466.0" y="861.9" font-size="11.6" text-anchor="start" font-weight="bold" letter-spacing="1.00" stroke-width="0.5">28</text><text x="487.7" y="861.9" font-size="12.0" text-anchor="start" font-weight="bold" stroke-width="0.45">%</text></g></svg></body></html>
